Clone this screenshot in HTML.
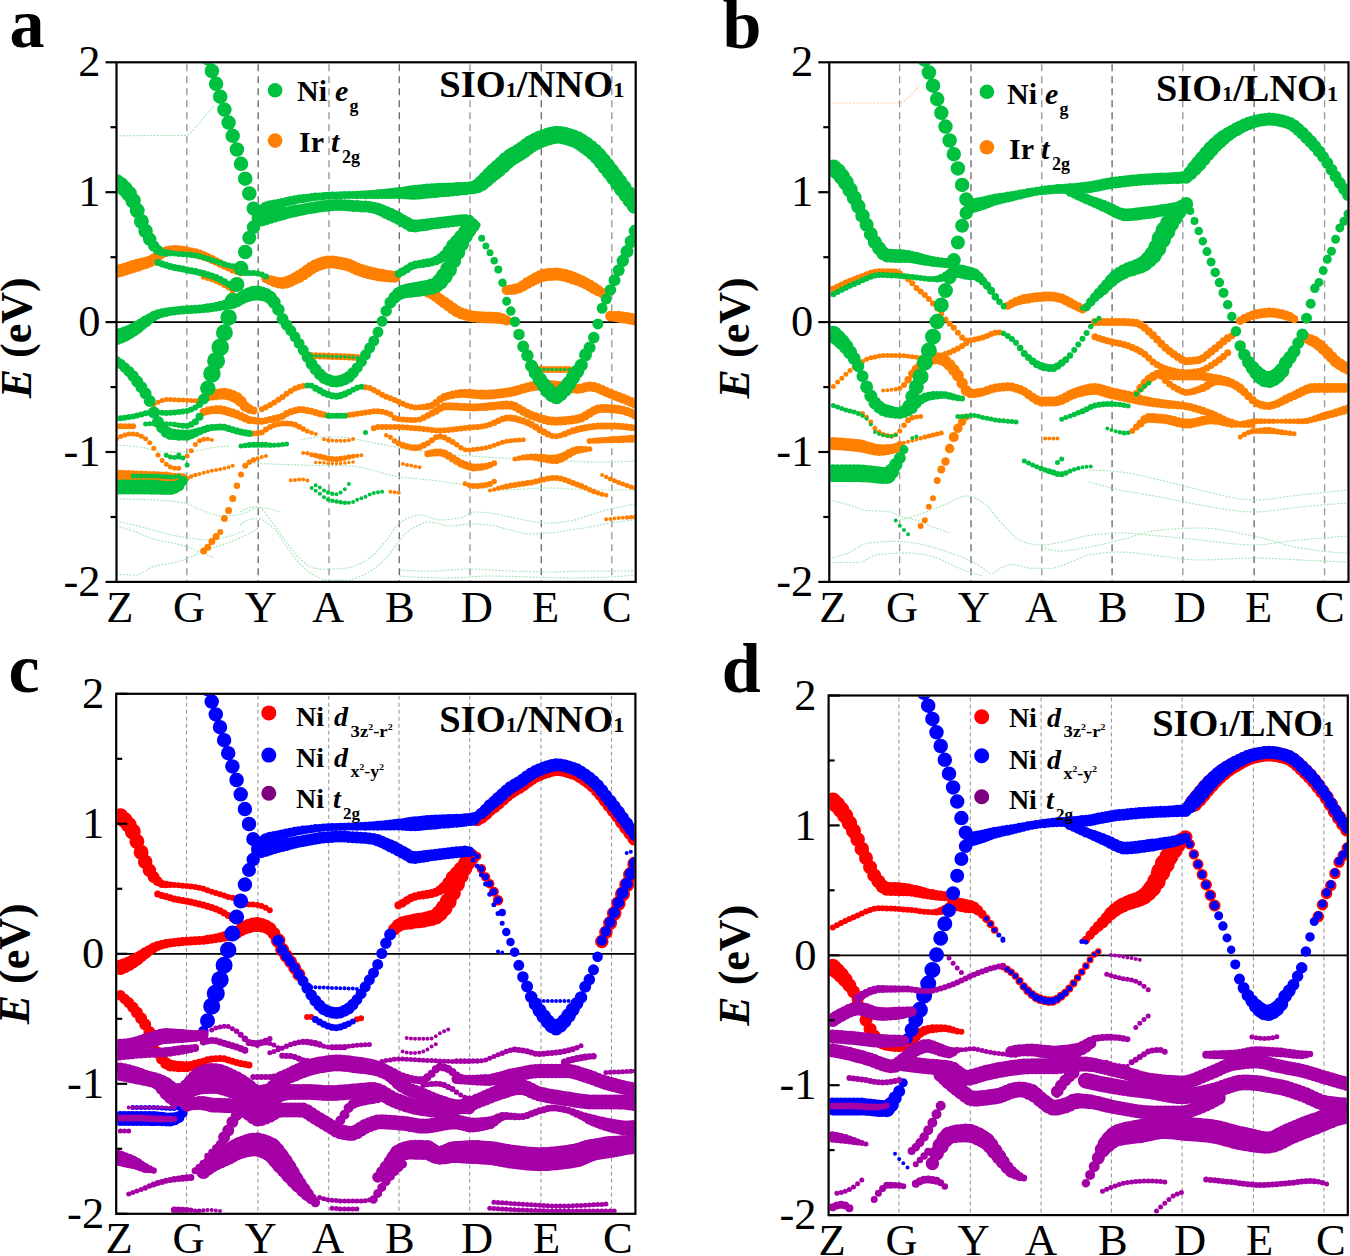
<!DOCTYPE html>
<html><head><meta charset="utf-8"><style>html,body{margin:0;padding:0;background:#fff;}svg{display:block;}</style></head>
<body><svg width="1350" height="1256" viewBox="0 0 1350 1256" style="font-family:'Liberation Serif',serif">
<line x1="186.8" y1="64.3" x2="186.8" y2="580.9" stroke="#9a9a9a" stroke-width="1.4" stroke-dasharray="7 5"/>
<line x1="258.2" y1="64.3" x2="258.2" y2="580.9" stroke="#707070" stroke-width="1.4" stroke-dasharray="7 5"/>
<line x1="329.0" y1="64.3" x2="329.0" y2="580.9" stroke="#9a9a9a" stroke-width="1.4" stroke-dasharray="7 5"/>
<line x1="399.3" y1="64.3" x2="399.3" y2="580.9" stroke="#707070" stroke-width="1.4" stroke-dasharray="7 5"/>
<line x1="470.0" y1="64.3" x2="470.0" y2="580.9" stroke="#9a9a9a" stroke-width="1.4" stroke-dasharray="7 5"/>
<line x1="541.3" y1="64.3" x2="541.3" y2="580.9" stroke="#707070" stroke-width="1.4" stroke-dasharray="7 5"/>
<line x1="611.8" y1="64.3" x2="611.8" y2="580.9" stroke="#9a9a9a" stroke-width="1.4" stroke-dasharray="7 5"/>
<line x1="116.5" y1="322.1" x2="635.7" y2="322.1" stroke="#000" stroke-width="1.8"/>
<line x1="899.6" y1="64.3" x2="899.6" y2="580.9" stroke="#9a9a9a" stroke-width="1.4" stroke-dasharray="7 5"/>
<line x1="971.0" y1="64.3" x2="971.0" y2="580.9" stroke="#707070" stroke-width="1.4" stroke-dasharray="7 5"/>
<line x1="1041.8" y1="64.3" x2="1041.8" y2="580.9" stroke="#9a9a9a" stroke-width="1.4" stroke-dasharray="7 5"/>
<line x1="1112.1" y1="64.3" x2="1112.1" y2="580.9" stroke="#707070" stroke-width="1.4" stroke-dasharray="7 5"/>
<line x1="1182.8" y1="64.3" x2="1182.8" y2="580.9" stroke="#9a9a9a" stroke-width="1.4" stroke-dasharray="7 5"/>
<line x1="1254.1" y1="64.3" x2="1254.1" y2="580.9" stroke="#707070" stroke-width="1.4" stroke-dasharray="7 5"/>
<line x1="1324.6" y1="64.3" x2="1324.6" y2="580.9" stroke="#9a9a9a" stroke-width="1.4" stroke-dasharray="7 5"/>
<line x1="829.3" y1="322.1" x2="1348.5" y2="322.1" stroke="#000" stroke-width="1.8"/>
<line x1="186.5" y1="695.8" x2="186.5" y2="1212.8" stroke="#9a9a9a" stroke-width="1.1" stroke-dasharray="4 3"/>
<line x1="257.9" y1="695.8" x2="257.9" y2="1212.8" stroke="#9a9a9a" stroke-width="1.1" stroke-dasharray="4 3"/>
<line x1="328.7" y1="695.8" x2="328.7" y2="1212.8" stroke="#9a9a9a" stroke-width="1.1" stroke-dasharray="4 3"/>
<line x1="399.0" y1="695.8" x2="399.0" y2="1212.8" stroke="#9a9a9a" stroke-width="1.1" stroke-dasharray="4 3"/>
<line x1="469.7" y1="695.8" x2="469.7" y2="1212.8" stroke="#9a9a9a" stroke-width="1.1" stroke-dasharray="4 3"/>
<line x1="541.0" y1="695.8" x2="541.0" y2="1212.8" stroke="#9a9a9a" stroke-width="1.1" stroke-dasharray="4 3"/>
<line x1="611.5" y1="695.8" x2="611.5" y2="1212.8" stroke="#9a9a9a" stroke-width="1.1" stroke-dasharray="4 3"/>
<line x1="116.2" y1="953.8" x2="635.4" y2="953.8" stroke="#000" stroke-width="1.8"/>
<line x1="898.9" y1="697.5" x2="898.9" y2="1214.1" stroke="#9a9a9a" stroke-width="1.1" stroke-dasharray="4 3"/>
<line x1="970.3" y1="697.5" x2="970.3" y2="1214.1" stroke="#9a9a9a" stroke-width="1.1" stroke-dasharray="4 3"/>
<line x1="1041.1" y1="697.5" x2="1041.1" y2="1214.1" stroke="#9a9a9a" stroke-width="1.1" stroke-dasharray="4 3"/>
<line x1="1111.4" y1="697.5" x2="1111.4" y2="1214.1" stroke="#9a9a9a" stroke-width="1.1" stroke-dasharray="4 3"/>
<line x1="1182.1" y1="697.5" x2="1182.1" y2="1214.1" stroke="#9a9a9a" stroke-width="1.1" stroke-dasharray="4 3"/>
<line x1="1253.4" y1="697.5" x2="1253.4" y2="1214.1" stroke="#9a9a9a" stroke-width="1.1" stroke-dasharray="4 3"/>
<line x1="1323.9" y1="697.5" x2="1323.9" y2="1214.1" stroke="#9a9a9a" stroke-width="1.1" stroke-dasharray="4 3"/>
<line x1="828.6" y1="955.3" x2="1347.8" y2="955.3" stroke="#000" stroke-width="1.8"/>
<clipPath id="clipa"><rect x="117.5" y="63.3" width="517.2" height="517.6"/></clipPath>
<g clip-path="url(#clipa)" fill="none" stroke-width="1.1" stroke-dasharray="2 1.4">
<path d="M116.0 499.0 118.0 499.0 120.0 499.0 122.0 499.0 124.0 499.1 126.0 499.1 128.0 499.1 130.0 499.2 132.0 499.2 134.0 499.3 136.0 499.3 138.0 499.4 140.0 499.4 142.0 499.5 144.0 499.6 146.0 499.7 148.0 499.7 150.0 499.8 152.0 499.9 154.0 500.0 156.0 500.1 158.0 500.2 160.0 500.3 162.0 500.4 164.0 500.5 166.0 500.7 168.0 500.9 170.0 501.1 172.0 501.3 174.0 501.5 176.0 501.7 178.0 502.0 180.0 502.3 182.0 502.6 184.0 502.9 186.0 503.4 188.0 504.1 190.0 504.9 192.0 505.7 194.0 506.7 196.0 507.7 198.0 508.6 200.0 509.5 202.0 510.3 204.0 510.9 206.0 511.7 208.0 512.4 210.0 513.2 212.0 513.9 214.0 514.6 216.0 515.2 218.0 515.6 220.0 515.9 222.0 516.0 224.0 516.0 226.0 515.9 228.0 515.8 230.0 515.6 232.0 515.5 234.0 515.2 236.0 515.0 238.0 514.7 240.0 514.5 242.0 514.2 244.0 513.5 246.0 512.7 248.0 511.7 250.0 510.6 252.0 509.5 254.0 508.6 256.0 508.0 258.0 507.6 260.0 507.6 262.0 507.8 264.0 508.1 266.0 508.4 268.0 508.9 270.0 509.3 272.0 509.8 274.0 510.2 276.0 510.8 278.0 511.4 280.0 512.0" stroke="#a3e4b5"/>
<path d="M240.0 512.0 242.0 510.8 244.0 509.8 246.0 508.9 248.0 508.1 250.0 507.5 252.0 507.1 254.0 506.9 256.0 506.7 258.0 506.8 260.0 507.5 262.0 509.1 264.0 511.3 266.0 513.8 268.0 516.7 270.0 519.6 272.0 522.3 274.0 524.9 276.0 527.5 278.0 530.3 280.0 533.2 282.0 536.2 284.0 539.0 286.0 541.8 288.0 544.4 290.0 547.0 292.0 549.7 294.0 552.2 296.0 554.6 298.0 556.8 300.0 558.7 302.0 560.5 304.0 562.3 306.0 564.0 308.0 565.6 310.0 566.8 312.0 567.7 314.0 568.1 316.0 568.4 318.0 568.7 320.0 568.9 322.0 569.1 324.0 569.2 326.0 569.3 328.0 569.3 330.0 569.3 332.0 569.2 334.0 569.1 336.0 569.0 338.0 568.9 340.0 568.7 342.0 568.5 344.0 568.3 346.0 568.1 348.0 567.8 350.0 567.4 352.0 566.9 354.0 566.2 356.0 565.4 358.0 564.6 360.0 563.6 362.0 562.6 364.0 561.5 366.0 560.4 368.0 559.2 370.0 557.8 372.0 556.1 374.0 554.2 376.0 552.2 378.0 550.0 380.0 547.8 382.0 545.4 384.0 543.1 386.0 540.8 388.0 538.4 390.0 535.6 392.0 532.5 394.0 529.5 396.0 526.7 398.0 524.4 400.0 522.7 402.0 521.5 404.0 520.3 406.0 519.2 408.0 518.2 410.0 517.3 412.0 516.5 414.0 515.9 416.0 515.4 418.0 515.1 420.0 515.0 422.0 515.1 424.0 515.5 426.0 516.1 428.0 516.8 430.0 517.5 432.0 518.2 434.0 518.9 436.0 519.5 438.0 519.9 440.0 520.0 442.0 520.0 444.0 519.9 446.0 519.8 448.0 519.6 450.0 519.4 452.0 519.2 454.0 518.9 456.0 518.6 458.0 518.3 460.0 518.0 462.0 517.4 464.0 516.5 466.0 515.3 468.0 514.1 470.0 513.1 472.0 512.3 474.0 512.0 476.0 512.0 478.0 512.1 480.0 512.2 482.0 512.3 484.0 512.5 486.0 512.6 488.0 512.8 490.0 513.0 492.0 513.2 494.0 513.5 496.0 513.9 498.0 514.3 500.0 514.7 502.0 515.2 504.0 515.7 506.0 516.1 508.0 516.6 510.0 517.0 512.0 517.4 514.0 517.8 516.0 518.3 518.0 518.7 520.0 519.2 522.0 519.6 524.0 520.0 526.0 520.4 528.0 520.7 530.0 521.0 532.0 521.3 534.0 521.5 536.0 521.8 538.0 522.1 540.0 522.3 542.0 522.6 544.0 522.7 546.0 522.9 548.0 523.0 550.0 523.0 552.0 523.0 554.0 522.9 556.0 522.8 558.0 522.6 560.0 522.4 562.0 522.1 564.0 521.9 566.0 521.6 568.0 521.3 570.0 521.0 572.0 520.6 574.0 520.2 576.0 519.6 578.0 519.0 580.0 518.4 582.0 517.7 584.0 517.0 586.0 516.3 588.0 515.6 590.0 515.0 592.0 514.4 594.0 513.8 596.0 513.1 598.0 512.5 600.0 511.8 602.0 511.2 604.0 510.6 606.0 510.0 608.0 509.5 610.0 509.0 612.0 508.5 614.0 508.1 616.0 507.6 618.0 507.2 620.0 506.8 622.0 506.4 624.0 506.0 626.0 505.6 628.0 505.2 630.0 504.9 632.0 504.6 634.0 504.3 636.0 504.0" stroke="#a3e4b5"/>
<path d="M240.0 525.0 242.0 523.4 244.0 522.1 246.0 521.1 248.0 520.2 250.0 519.6 252.0 519.1 254.0 518.9 256.0 518.7 258.0 518.7 260.0 519.1 262.0 519.8 264.0 520.9 266.0 522.2 268.0 523.6 270.0 525.2 272.0 526.9 274.0 528.6 276.0 530.8 278.0 533.5 280.0 536.5 282.0 539.6 284.0 542.8 286.0 545.7 288.0 548.5 290.0 551.3 292.0 554.1 294.0 556.8 296.0 559.4 298.0 561.9 300.0 564.0 302.0 566.0 304.0 567.8 306.0 569.6 308.0 571.3 310.0 572.7 312.0 574.0 314.0 575.1 316.0 576.1 318.0 577.1 320.0 578.0 322.0 578.8 324.0 579.4 326.0 579.9 328.0 580.0 330.0 580.0 332.0 580.0 334.0 580.0 336.0 580.0 338.0 580.0 340.0 580.0 342.0 580.0 344.0 580.0 346.0 580.0 348.0 580.0 350.0 579.7 352.0 579.3 354.0 578.8 356.0 578.1 358.0 577.3 360.0 576.5 362.0 575.5 364.0 574.6 366.0 573.6 368.0 572.6 370.0 571.5 372.0 570.2 374.0 568.8 376.0 567.2 378.0 565.5 380.0 563.8 382.0 561.9 384.0 560.0 386.0 558.0 388.0 555.9 390.0 553.4 392.0 550.7 394.0 547.9 396.0 545.1 398.0 542.4 400.0 540.0 402.0 537.7 404.0 535.4 406.0 533.3 408.0 531.4 410.0 530.0 412.0 528.8 414.0 527.6 416.0 526.5 418.0 525.5 420.0 524.5 422.0 523.7 424.0 523.0 426.0 522.4 428.0 522.1 430.0 522.0 432.0 522.1 434.0 522.4 436.0 522.9 438.0 523.4 440.0 524.0 442.0 524.6 444.0 525.1 446.0 525.6 448.0 525.9 450.0 526.0 452.0 525.9 454.0 525.8 456.0 525.6 458.0 525.3 460.0 525.0 462.0 524.7 464.0 524.4 466.0 524.2 468.0 524.1 470.0 524.0 472.0 524.0 474.0 524.1 476.0 524.1 478.0 524.2 480.0 524.3 482.0 524.4 484.0 524.5 486.0 524.7 488.0 524.8 490.0 525.0 492.0 525.2 494.0 525.6 496.0 526.0 498.0 526.6 500.0 527.2 502.0 527.8 504.0 528.4 506.0 529.0 508.0 529.5 510.0 530.0 512.0 530.5 514.0 531.0 516.0 531.5 518.0 532.0 520.0 532.6 522.0 533.0 524.0 533.4 526.0 533.7 528.0 533.9 530.0 534.0 532.0 534.0 534.0 533.9 536.0 533.9 538.0 533.8 540.0 533.7 542.0 533.6 544.0 533.4 546.0 533.3 548.0 533.1 550.0 533.0 552.0 532.8 554.0 532.6 556.0 532.3 558.0 532.0 560.0 531.7 562.0 531.3 564.0 531.0 566.0 530.6 568.0 530.3 570.0 530.0 572.0 529.7 574.0 529.4 576.0 529.1 578.0 528.8 580.0 528.6 582.0 528.3 584.0 528.0 586.0 527.7 588.0 527.3 590.0 527.0 592.0 526.6 594.0 526.2 596.0 525.8 598.0 525.4 600.0 524.9 602.0 524.5 604.0 524.1 606.0 523.7 608.0 523.3 610.0 523.0 612.0 522.7 614.0 522.4 616.0 522.1 618.0 521.9 620.0 521.6 622.0 521.4 624.0 521.1 626.0 520.9 628.0 520.7 630.0 520.5 632.0 520.3 634.0 520.1 636.0 520.0" stroke="#a3e4b5"/>
<path d="M116.0 521.0 118.0 521.4 120.0 521.9 122.0 522.3 124.0 522.8 126.0 523.3 128.0 523.7 130.0 524.2 132.0 524.7 134.0 525.1 136.0 525.6 138.0 526.1 140.0 526.6 142.0 527.1 144.0 527.6 146.0 528.1 148.0 528.6 150.0 529.2 152.0 529.7 154.0 530.3 156.0 530.9 158.0 531.5 160.0 532.1 162.0 532.6 164.0 533.2 166.0 533.7 168.0 534.2 170.0 534.7 172.0 535.1 174.0 535.5 176.0 535.9 178.0 536.3 180.0 536.6 182.0 536.9 184.0 537.2 186.0 537.5 188.0 537.8 190.0 538.0 192.0 538.3 194.0 538.5 196.0 538.8 198.0 539.0 200.0 539.3 202.0 539.5 204.0 539.7 206.0 539.9 208.0 540.0 210.0 540.0 212.0 539.9 214.0 539.8 216.0 539.5 218.0 539.1 220.0 538.7 222.0 538.2 224.0 537.7 226.0 537.1 228.0 536.6 230.0 536.0 232.0 535.4 234.0 534.7 236.0 534.0 238.0 533.2 240.0 532.3 242.0 531.4 244.0 530.5" stroke="#a3e4b5"/>
<path d="M116.0 525.9 118.0 526.4 120.0 526.9 122.0 527.5 124.0 528.1 126.0 528.7 128.0 529.3 130.0 529.9 132.0 530.6 134.0 531.3 136.0 531.9 138.0 532.7 140.0 533.5 142.0 534.4 144.0 535.3 146.0 536.2 148.0 537.1 150.0 537.9 152.0 538.6 154.0 539.3 156.0 539.8 158.0 540.2 160.0 540.6 162.0 541.0 164.0 541.3 166.0 541.7 168.0 542.0 170.0 542.4 172.0 542.8 174.0 543.2 176.0 543.7 178.0 544.2 180.0 544.8 182.0 545.4 184.0 546.0 186.0 546.6 188.0 547.2 190.0 548.0 192.0 548.7 194.0 549.5 196.0 550.4 198.0 551.2 200.0 552.0 202.0 552.8 204.0 553.6 206.0 554.4 208.0 555.2 210.0 556.0 212.0 556.8 214.0 557.6" stroke="#a3e4b5"/>
<path d="M116.0 574.0 118.0 574.3 120.0 574.5 122.0 574.7 124.0 574.8 126.0 574.9 128.0 574.9 130.0 575.0 132.0 575.0 134.0 575.0 136.0 575.0 138.0 574.6 140.0 573.9 142.0 573.0 144.0 571.9 146.0 570.6 148.0 569.4 150.0 568.2 152.0 567.2 154.0 566.4 156.0 565.9 158.0 565.4 160.0 565.0 162.0 564.7 164.0 564.3 166.0 564.0 168.0 563.7 170.0 563.3 172.0 562.9 174.0 562.5 176.0 562.0 178.0 561.5 180.0 560.9 182.0 560.3 184.0 559.7 186.0 559.1 188.0 558.3 190.0 557.5 192.0 556.5 194.0 555.4 196.0 554.3 198.0 553.2 200.0 552.2 202.0 551.3 204.0 550.5 206.0 549.8 208.0 549.2 210.0 548.6 212.0 548.0 214.0 547.4 216.0 546.9 218.0 546.3 220.0 545.7 222.0 545.0 224.0 544.3 226.0 543.6 228.0 542.8 230.0 542.1 232.0 541.3 234.0 540.5 236.0 539.7 238.0 538.8 240.0 537.9 242.0 537.0 244.0 536.1 246.0 535.0 248.0 534.0 250.0 532.9 252.0 531.8 254.0 530.6 256.0 529.4 258.0 528.2" stroke="#a3e4b5"/>
<path d="M400.0 570.0 402.0 570.1 404.0 570.3 406.0 570.4 408.0 570.5 410.0 570.6 412.0 570.7 414.0 570.7 416.0 570.8 418.0 570.8 420.0 570.9 422.0 570.9 424.0 571.0 426.0 571.0 428.0 571.0 430.0 571.0 432.0 571.0 434.0 570.9 436.0 570.9 438.0 570.8 440.0 570.7 442.0 570.6 444.0 570.4 446.0 570.3 448.0 570.1 450.0 570.0 452.0 569.9 454.0 569.7 456.0 569.6 458.0 569.4 460.0 569.3 462.0 569.2 464.0 569.1 466.0 569.1 468.0 569.0 470.0 569.0 472.0 569.0 474.0 569.0 476.0 569.1 478.0 569.2 480.0 569.2 482.0 569.3 484.0 569.5 486.0 569.6 488.0 569.7 490.0 569.8 492.0 570.0 494.0 570.1 496.0 570.2 498.0 570.4 500.0 570.5 502.0 570.6 504.0 570.7 506.0 570.8 508.0 570.9 510.0 571.0 512.0 571.1 514.0 571.1 516.0 571.2 518.0 571.3 520.0 571.3 522.0 571.4 524.0 571.5 526.0 571.5 528.0 571.6 530.0 571.7 532.0 571.7 534.0 571.8 536.0 571.8 538.0 571.9 540.0 571.9 542.0 571.9 544.0 572.0 546.0 572.0 548.0 572.0 550.0 572.0 552.0 572.0 554.0 572.0 556.0 571.9 558.0 571.9 560.0 571.8 562.0 571.8 564.0 571.7 566.0 571.6 568.0 571.6 570.0 571.5 572.0 571.4 574.0 571.4 576.0 571.3 578.0 571.2 580.0 571.2 582.0 571.1 584.0 571.1 586.0 571.0 588.0 571.0 590.0 571.0 592.0 571.0 594.0 571.0 596.0 571.0 598.0 571.0 600.0 571.0 602.0 571.0 604.0 571.0 606.0 571.0 608.0 571.0 610.0 571.0 612.0 571.0 614.0 571.0 616.0 571.0 618.0 571.0 620.0 571.0 622.0 571.0 624.0 571.0 626.0 571.0 628.0 571.0 630.0 571.0 632.0 571.0 634.0 571.0 636.0 571.0" stroke="#a3e4b5"/>
<path d="M400.0 576.0 402.0 576.2 404.0 576.3 406.0 576.5 408.0 576.6 410.0 576.8 412.0 576.9 414.0 577.0 416.0 577.1 418.0 577.3 420.0 577.4 422.0 577.4 424.0 577.5 426.0 577.6 428.0 577.7 430.0 577.7 432.0 577.8 434.0 577.8 436.0 577.9 438.0 577.9 440.0 577.9 442.0 578.0 444.0 578.0 446.0 578.0 448.0 578.0 450.0 578.0 452.0 578.0 454.0 577.9 456.0 577.9 458.0 577.8 460.0 577.7 462.0 577.6 464.0 577.4 466.0 577.3 468.0 577.1 470.0 577.0 472.0 576.9 474.0 576.7 476.0 576.6 478.0 576.4 480.0 576.3 482.0 576.2 484.0 576.1 486.0 576.1 488.0 576.0 490.0 576.0 492.0 576.0 494.0 576.0 496.0 576.0 498.0 576.1 500.0 576.1 502.0 576.2 504.0 576.2 506.0 576.3 508.0 576.3 510.0 576.4 512.0 576.4 514.0 576.5 516.0 576.6 518.0 576.6 520.0 576.7 522.0 576.8 524.0 576.8 526.0 576.9 528.0 576.9 530.0 577.0 532.0 577.1 534.0 577.1 536.0 577.2 538.0 577.2 540.0 577.3 542.0 577.4 544.0 577.4 546.0 577.5 548.0 577.6 550.0 577.6 552.0 577.7 554.0 577.7 556.0 577.8 558.0 577.8 560.0 577.9 562.0 577.9 564.0 578.0 566.0 578.0 568.0 578.0 570.0 578.0 572.0 578.0 574.0 578.0 576.0 578.0 578.0 578.0 580.0 577.9 582.0 577.9 584.0 577.9 586.0 577.8 588.0 577.8 590.0 577.7 592.0 577.7 594.0 577.6 596.0 577.5 598.0 577.4 600.0 577.4 602.0 577.3 604.0 577.2 606.0 577.1 608.0 577.0 610.0 576.9 612.0 576.8 614.0 576.7 616.0 576.5 618.0 576.4 620.0 576.3 622.0 576.1 624.0 576.0 626.0 575.8 628.0 575.7 630.0 575.5 632.0 575.3 634.0 575.2 636.0 575.0" stroke="#a3e4b5"/>
<path d="M250.0 463.0 252.0 463.1 254.0 463.2 256.0 463.3 258.0 463.4 260.0 463.5 262.0 463.6 264.0 463.7 266.0 463.8 268.0 463.8 270.0 463.9 272.0 464.0 274.0 464.1 276.0 464.2 278.0 464.3 280.0 464.3 282.0 464.4 284.0 464.5 286.0 464.6 288.0 464.6 290.0 464.7 292.0 464.8 294.0 464.8 296.0 464.9 298.0 464.9 300.0 465.0 302.0 465.1 304.0 465.1 306.0 465.1 308.0 465.2 310.0 465.2 312.0 465.2 314.0 465.3 316.0 465.3 318.0 465.3 320.0 465.4 322.0 465.4 324.0 465.4 326.0 465.5 328.0 465.5 330.0 465.5 332.0 465.5 334.0 465.6 336.0 465.6 338.0 465.7 340.0 465.7 342.0 465.8 344.0 465.8 346.0 465.9 348.0 465.9 350.0 466.0 352.0 466.1 354.0 466.3 356.0 466.5 358.0 466.8 360.0 467.2 362.0 467.6 364.0 468.0 366.0 468.5 368.0 469.0 370.0 469.5 372.0 470.0 374.0 470.6 376.0 471.2 378.0 471.8 380.0 472.3 382.0 472.9 384.0 473.5 386.0 474.0 388.0 474.6 390.0 475.1 392.0 475.5 394.0 476.0 396.0 476.4 398.0 476.7 400.0 477.0 402.0 477.3 404.0 477.5 406.0 477.7 408.0 477.9 410.0 478.1 412.0 478.3 414.0 478.5 416.0 478.7 418.0 478.8 420.0 479.0 422.0 479.2 424.0 479.4 426.0 479.6 428.0 479.8 430.0 480.0 432.0 480.2 434.0 480.5 436.0 480.7 438.0 481.0 440.0 481.2 442.0 481.5 444.0 481.8 446.0 482.0 448.0 482.3 450.0 482.6 452.0 482.9 454.0 483.2 456.0 483.4 458.0 483.7 460.0 484.0 462.0 484.3 464.0 484.6 466.0 485.0 468.0 485.3 470.0 485.7 472.0 486.1 474.0 486.5 476.0 486.9 478.0 487.3 480.0 487.7 482.0 488.1 484.0 488.4 486.0 488.8 488.0 489.1 490.0 489.3 492.0 489.6 494.0 489.7 496.0 489.9 498.0 490.0 500.0 490.0 502.0 490.0 504.0 490.0 506.0 489.9 508.0 489.9 510.0 489.8 512.0 489.7 514.0 489.6 516.0 489.5 518.0 489.4 520.0 489.3 522.0 489.2 524.0 489.1 526.0 488.9 528.0 488.8 530.0 488.7 532.0 488.6 534.0 488.5 536.0 488.4 538.0 488.3 540.0 488.2 542.0 488.1 544.0 488.1 546.0 488.0 548.0 488.0 550.0 488.0 552.0 488.0 554.0 488.1 556.0 488.1 558.0 488.2 560.0 488.3 562.0 488.4 564.0 488.6 566.0 488.7 568.0 488.9 570.0 489.0 572.0 489.1 574.0 489.3 576.0 489.4 578.0 489.6 580.0 489.7 582.0 489.8 584.0 489.9 586.0 489.9 588.0 490.0 590.0 490.0 592.0 490.0 594.0 490.0 596.0 490.0 598.0 490.0 600.0 490.0 602.0 490.0 604.0 490.0 606.0 490.0 608.0 490.0 610.0 490.0 612.0 490.0 614.0 490.0 616.0 490.0 618.0 490.0 620.0 490.0 622.0 490.0 624.0 490.0 626.0 490.0 628.0 490.0 630.0 490.0 632.0 490.0 634.0 490.0 636.0 490.0" stroke="#a3e4b5"/>
<path d="M116.0 136.0 118.0 136.0 120.0 135.9 122.0 135.9 124.0 135.8 126.0 135.8 128.0 135.7 130.0 135.7 132.0 135.7 134.0 135.6 136.0 135.6 138.0 135.6 140.0 135.6 142.0 135.5 144.0 135.5 146.0 135.5 148.0 135.5 150.0 135.5 152.0 135.5 154.0 135.5 156.0 135.5 158.0 135.5 160.0 135.5 162.0 135.5 164.0 135.5 166.0 135.5 168.0 135.5 170.0 135.5 172.0 135.5 174.0 135.5 176.0 135.5 178.0 135.5 180.0 135.5 182.0 135.5 184.0 135.5 186.0 135.5 188.0 134.8 190.0 133.3 192.0 131.2 194.0 129.0 196.0 127.0 198.0 124.9 200.0 122.5 202.0 120.1 204.0 117.5 206.0 115.0 208.0 112.5 210.0 110.1 212.0 107.7 214.0 105.2" stroke="#a3e4b5"/>
<path d="M116.0 445.0 118.0 445.1 120.0 445.2 122.0 445.3 124.0 445.4 126.0 445.6 128.0 445.7 130.0 445.9 132.0 446.1 134.0 446.3 136.0 446.5 138.0 446.8 140.0 447.0 142.0 447.3 144.0 447.7 146.0 448.1 148.0 448.6 150.0 449.2 152.0 449.7 154.0 450.3 156.0 450.8 158.0 451.2 160.0 451.6 162.0 451.8 164.0 452.0 166.0 452.0 168.0 452.0 170.0 452.0 172.0 452.0 174.0 452.0 176.0 452.0 178.0 452.0 180.0 452.0 182.0 452.0 184.0 452.0 186.0 452.0 188.0 452.0 190.0 452.0 192.0 451.9 194.0 451.7 196.0 451.3 198.0 450.8 200.0 450.3 202.0 449.8 204.0 449.3 206.0 448.8 208.0 448.3 210.0 448.0 212.0 447.7 214.0 447.5 216.0 447.2 218.0 447.0 220.0 446.8 222.0 446.6 224.0 446.4 226.0 446.3 228.0 446.1 230.0 446.0" stroke="#a3e4b5"/>
<path d="M300.0 440.0 302.0 439.6 304.0 439.1 306.0 438.7 308.0 438.3 310.0 437.9 312.0 437.6 314.0 437.4 316.0 437.2 318.0 437.0 320.0 437.0 322.0 437.0 324.0 437.0 326.0 437.0 328.0 437.0 330.0 437.0 332.0 437.0 334.0 437.0 336.0 437.0 338.0 437.0 340.0 437.0 342.0 437.1 344.0 437.2 346.0 437.4 348.0 437.7 350.0 438.1 352.0 438.5 354.0 438.8 356.0 439.2 358.0 439.6 360.0 440.0 362.0 440.4 364.0 440.7 366.0 441.1 368.0 441.5 370.0 441.9 372.0 442.3 374.0 442.8 376.0 443.2 378.0 443.6 380.0 444.0 382.0 444.4 384.0 444.8 386.0 445.2 388.0 445.7 390.0 446.1 392.0 446.5 394.0 446.9 396.0 447.3 398.0 447.7 400.0 448.0 402.0 448.3 404.0 448.6 406.0 448.9 408.0 449.2 410.0 449.5 412.0 449.8 414.0 450.0 416.0 450.3 418.0 450.6 420.0 450.8 422.0 451.1 424.0 451.3 426.0 451.5 428.0 451.8 430.0 452.0 432.0 452.2 434.0 452.5 436.0 452.7 438.0 452.9 440.0 453.1 442.0 453.3 444.0 453.6 446.0 453.8 448.0 454.0 450.0 454.2 452.0 454.4 454.0 454.6 456.0 454.8 458.0 455.0 460.0 455.2 462.0 455.3 464.0 455.5 466.0 455.7 468.0 455.8 470.0 456.0 472.0 456.1 474.0 456.3 476.0 456.4 478.0 456.6 480.0 456.7 482.0 456.8 484.0 457.0 486.0 457.1 488.0 457.2 490.0 457.3 492.0 457.5 494.0 457.6 496.0 457.7 498.0 457.8 500.0 457.9 502.0 458.0 504.0 458.1 506.0 458.2 508.0 458.4 510.0 458.5 512.0 458.6 514.0 458.7 516.0 458.8 518.0 458.9 520.0 459.0 522.0 459.1 524.0 459.2 526.0 459.3 528.0 459.4 530.0 459.6 532.0 459.7 534.0 459.8 536.0 459.9 538.0 460.0 540.0 460.1 542.0 460.2 544.0 460.3 546.0 460.4 548.0 460.5 550.0 460.6 552.0 460.7 554.0 460.8 556.0 460.9 558.0 460.9 560.0 461.0 562.0 461.1 564.0 461.1 566.0 461.2 568.0 461.3 570.0 461.3 572.0 461.4 574.0 461.5 576.0 461.5 578.0 461.6 580.0 461.7 582.0 461.7 584.0 461.8 586.0 461.8 588.0 461.9 590.0 461.9 592.0 461.9 594.0 462.0 596.0 462.0 598.0 462.0 600.0 462.0 602.0 462.0 604.0 462.0 606.0 462.0 608.0 461.9 610.0 461.9 612.0 461.9 614.0 461.8 616.0 461.8 618.0 461.7 620.0 461.7 622.0 461.6 624.0 461.5 626.0 461.5 628.0 461.4 630.0 461.3 632.0 461.2 634.0 461.1 636.0 461.0" stroke="#a3e4b5"/>
</g>
<g clip-path="url(#clipa)" fill="none" stroke-linecap="round">
<path d="M116.5 271.7h0M120.7 270.5h0M124.8 269.2h0M128.9 267.9h0M133.1 266.6h0M137.2 265.3h0M299.1 276.5h0M303.2 274.0h0M307.4 270.9h0M311.6 267.9h0M315.7 265.7h0M319.9 264.1h0M324.0 262.7h0M328.1 262.0h0M332.3 262.1h0M336.5 262.5h0M340.6 263.2h0M344.8 264.0h0M348.9 265.2h0M353.1 267.0h0M357.2 269.0h0M361.4 270.4h0M365.5 271.7h0M369.7 272.8h0M373.8 273.8h0M378.0 274.7h0M382.1 275.3h0M544.0 275.2h0M548.1 274.6h0M552.2 274.3h0M556.4 274.1h0M560.5 274.4h0M564.7 275.3h0M568.9 276.6h0M573.0 278.0h0" stroke="#ff8000" stroke-width="13"/>
<path d="M141.4 264.1h0M145.6 262.9h0M286.6 282.3h0M290.8 280.7h0M295.0 278.6h0M386.2 275.9h0M390.4 276.4h0M535.7 278.6h0M539.8 276.6h0M577.2 279.5h0M581.3 281.2h0" stroke="#ff8000" stroke-width="12.5"/>
<path d="M149.7 261.5h0M153.8 259.5h0M282.5 283.0h0M394.6 276.8h0M444.4 302.6h0M448.5 305.4h0M452.7 308.5h0M456.8 311.2h0M461.0 313.3h0M465.1 314.6h0M469.3 315.7h0M473.4 316.5h0M477.6 317.0h0M481.7 317.3h0M485.9 317.4h0M490.0 317.5h0M494.2 317.7h0M498.3 317.9h0M527.4 283.0h0M531.5 280.8h0M585.5 283.2h0M589.6 285.5h0M593.8 288.0h0M618.7 316.8h0M622.8 317.4h0M627.0 318.0h0M631.1 318.8h0M635.2 319.7h0M224.4 393.8h0M228.6 394.4h0M232.7 395.9h0M236.9 397.9h0" stroke="#ff8000" stroke-width="12"/>
<path d="M158.0 255.7h0M278.4 282.7h0M436.1 296.5h0M440.2 299.6h0M523.2 285.7h0M597.9 290.5h0M216.1 394.4h0M220.2 394.0h0M241.0 401.5h0" stroke="#ff8000" stroke-width="11.5"/>
<path d="M162.2 252.8h0M274.2 281.6h0M427.8 292.1h0M431.9 293.9h0M502.5 318.8h0M514.9 289.1h0M519.0 287.9h0M614.5 316.4h0M116.5 475.0h0M120.7 475.2h0M124.8 475.4h0M128.9 475.5h0M133.1 475.7h0M137.2 475.9h0M141.4 476.1h0M145.6 476.2h0M149.7 476.4h0M153.8 476.5h0M158.0 476.7h0M162.2 476.9h0M166.3 477.1h0M211.9 395.0h0" stroke="#ff8000" stroke-width="11"/>
<path d="M166.3 251.4h0M170.4 250.4h0M423.6 290.8h0M510.8 289.7h0M602.1 292.9h0M610.4 316.0h0M170.4 477.5h0M174.6 477.9h0M245.2 406.5h0" stroke="#ff8000" stroke-width="10.5"/>
<path d="M174.6 250.0h0M178.8 250.2h0M182.9 250.7h0M187.1 251.5h0M191.2 252.4h0M195.4 253.3h0M199.5 254.5h0M270.1 280.3h0M419.5 289.9h0M506.6 320.6h0M506.6 290.0h0M178.8 478.0h0M481.7 394.6h0M485.9 394.7h0M490.0 394.6h0M494.2 394.3h0M498.3 393.8h0M502.5 393.3h0M506.6 392.7h0M510.8 392.0h0M514.9 391.1h0M519.0 389.9h0M523.2 388.6h0M527.4 387.5h0M531.5 386.6h0M535.7 386.0h0M539.8 385.3h0M544.0 385.0h0M548.1 385.1h0M552.2 385.3h0M556.4 385.7h0M560.5 386.1h0M564.7 386.7h0M568.9 387.6h0M573.0 388.5h0M577.2 388.9h0M581.3 388.4h0M585.5 387.2h0M589.6 386.6h0M593.8 387.1h0M597.9 388.3h0M602.1 390.1h0M606.2 392.0h0M610.4 393.8h0M614.5 395.4h0M618.7 397.0h0M622.8 398.6h0M627.0 400.3h0M631.1 402.0h0M635.2 403.7h0M556.4 459.3h0" stroke="#ff8000" stroke-width="10"/>
<path d="M203.7 255.9h0M411.2 288.6h0M415.3 289.2h0M249.3 409.1h0M469.3 393.8h0M473.4 394.1h0M477.6 394.4h0M552.2 459.3h0M560.5 458.1h0" stroke="#ff8000" stroke-width="9.5"/>
<path d="M207.8 257.6h0M211.9 259.4h0M265.9 278.8h0M407.0 288.1h0M207.8 396.7h0M461.0 393.5h0M465.1 393.5h0M216.1 409.7h0M220.2 409.8h0M224.4 410.5h0M228.6 411.7h0M232.7 413.1h0M236.9 414.6h0M502.5 405.2h0M506.6 405.0h0M510.8 405.2h0M514.9 406.5h0M519.0 408.7h0M523.2 411.2h0M527.4 413.6h0M531.5 415.4h0M535.7 416.8h0M539.8 418.2h0M544.0 419.5h0M548.1 420.5h0M552.2 421.1h0M556.4 421.2h0M560.5 421.0h0M564.7 420.7h0M568.9 420.3h0M573.0 419.7h0M577.2 419.1h0M581.3 418.0h0M585.5 415.8h0M589.6 413.2h0M593.8 410.7h0M597.9 409.0h0M602.1 408.5h0M606.2 408.5h0M610.4 408.7h0M614.5 409.0h0M618.7 409.5h0M622.8 410.3h0M627.0 411.5h0M631.1 413.1h0M635.2 415.3h0M548.1 458.9h0M564.7 456.0h0M568.9 453.6h0" stroke="#ff8000" stroke-width="9"/>
<path d="M216.1 261.4h0M220.2 263.5h0M182.9 477.4h0M452.7 394.7h0M456.8 393.9h0M207.8 410.8h0M211.9 410.1h0M241.0 416.3h0M245.2 418.3h0M485.9 406.7h0M490.0 406.3h0M494.2 405.9h0M498.3 405.5h0M544.0 458.3h0M573.0 451.4h0" stroke="#ff8000" stroke-width="8.5"/>
<path d="M224.4 265.7h0M253.5 410.6h0M444.4 396.9h0M448.5 395.7h0M203.7 412.0h0M249.3 419.9h0M444.4 406.4h0M448.5 406.2h0M452.7 406.4h0M456.8 406.6h0M461.0 406.9h0M465.1 407.1h0M469.3 407.3h0M473.4 407.4h0M477.6 407.3h0M481.7 407.1h0M436.1 452.5h0M440.2 452.4h0M444.4 453.5h0M448.5 455.7h0M452.7 458.4h0M456.8 461.1h0M461.0 463.4h0M465.1 465.0h0M469.3 466.6h0M473.4 467.4h0M539.8 457.7h0M577.2 450.1h0M631.1 438.8h0M635.2 438.6h0" stroke="#ff8000" stroke-width="8"/>
<path d="M228.6 267.8h0M203.7 398.6h0M436.1 402.7h0M440.2 399.2h0M253.5 420.6h0M257.6 421.1h0M436.1 410.9h0M440.2 408.3h0M431.9 452.9h0M477.6 467.3h0M481.7 467.0h0M535.7 457.2h0M581.3 449.6h0M618.7 439.4h0M622.8 439.2h0M627.0 439.0h0" stroke="#ff8000" stroke-width="7.5"/>
<path d="M232.7 269.9h0M311.6 355.7h0M315.7 355.8h0M319.9 356.0h0M324.0 356.1h0M328.1 356.3h0M332.3 356.4h0M336.5 356.5h0M340.6 356.7h0M344.8 356.8h0M348.9 357.0h0M353.1 357.2h0M357.2 357.4h0M539.8 369.3h0M544.0 369.4h0M548.1 369.5h0M552.2 369.5h0M556.4 369.5h0M560.5 369.5h0M564.7 369.4h0M568.9 369.4h0M203.7 550.9h0M207.8 547.3h0M211.9 541.5h0M216.1 536.4h0M224.4 518.4h0M228.6 510.5h0M232.7 498.5h0M427.8 406.5h0M431.9 405.6h0M261.8 421.3h0M265.9 420.6h0M270.1 419.6h0M274.2 418.6h0M278.4 417.6h0M282.5 416.2h0M286.6 413.6h0M290.8 411.8h0M295.0 410.4h0M299.1 409.6h0M303.2 409.8h0M307.4 410.4h0M311.6 411.3h0M315.7 412.5h0M319.9 413.7h0M431.9 413.2h0M506.6 417.9h0M510.8 417.9h0M514.9 418.6h0M519.0 419.7h0M523.2 421.1h0M527.4 422.5h0M531.5 424.5h0M535.7 427.1h0M539.8 429.8h0M544.0 432.0h0M573.0 430.7h0M577.2 429.5h0M581.3 428.6h0M585.5 427.8h0M589.6 427.0h0M593.8 426.4h0M597.9 426.0h0M602.1 425.9h0M606.2 425.9h0M610.4 426.0h0M614.5 426.1h0M618.7 426.2h0M622.8 426.5h0M627.0 426.9h0M631.1 427.4h0M635.2 428.1h0M415.3 447.8h0M427.8 453.8h0M485.9 466.2h0M531.5 457.0h0M610.4 439.8h0M614.5 439.6h0" stroke="#ff8000" stroke-width="7"/>
<path d="M236.9 271.8h0M236.9 485.7h0M423.6 407.0h0M324.0 414.8h0M423.6 417.7h0M427.8 415.5h0M494.2 422.8h0M498.3 420.8h0M502.5 419.0h0M548.1 434.2h0M564.7 434.0h0M568.9 432.3h0M402.9 445.2h0M407.0 446.5h0M411.2 447.4h0M419.5 447.2h0M423.6 445.3h0M490.0 465.0h0M527.4 457.2h0M585.5 449.2h0M597.9 440.4h0M602.1 440.2h0M606.2 440.0h0" stroke="#ff8000" stroke-width="6.5"/>
<path d="M241.0 273.6h0M203.7 276.8h0M207.8 277.9h0M211.9 279.3h0M216.1 280.9h0M220.2 282.7h0M224.4 284.9h0M228.6 287.5h0M232.7 290.4h0M116.5 426.2h0M120.7 426.2h0M124.8 426.2h0M128.9 426.2h0M133.1 426.2h0M220.2 532.1h0M241.0 474.6h0M245.2 465.8h0M199.5 400.3h0M261.8 409.3h0M265.9 407.2h0M270.1 404.9h0M274.2 402.4h0M278.4 399.8h0M282.5 396.9h0M286.6 393.8h0M290.8 391.1h0M295.0 388.6h0M299.1 387.0h0M303.2 386.1h0M365.5 387.2h0M369.7 388.0h0M373.8 390.0h0M378.0 392.3h0M382.1 394.7h0M386.2 396.7h0M390.4 398.3h0M394.6 399.9h0M398.7 401.8h0M402.9 403.7h0M407.0 405.5h0M411.2 406.8h0M415.3 407.4h0M419.5 407.3h0M348.9 415.1h0M353.1 414.4h0M357.2 413.8h0M361.4 413.2h0M365.5 412.6h0M369.7 411.9h0M373.8 411.2h0M378.0 411.3h0M382.1 411.8h0M386.2 412.7h0M390.4 414.3h0M394.6 418.1h0M398.7 418.9h0M402.9 419.4h0M407.0 419.7h0M411.2 419.9h0M415.3 420.0h0M419.5 419.5h0M253.5 433.4h0M257.6 433.2h0M261.8 432.4h0M265.9 429.5h0M270.1 427.1h0M274.2 425.0h0M278.4 424.0h0M282.5 423.6h0M286.6 423.5h0M290.8 423.8h0M295.0 424.7h0M299.1 426.8h0M373.8 428.2h0M378.0 426.9h0M382.1 426.9h0M386.2 426.9h0M390.4 426.9h0M394.6 427.0h0M398.7 427.1h0M402.9 427.3h0M407.0 427.6h0M411.2 427.9h0M415.3 428.2h0M419.5 428.5h0M423.6 429.0h0M427.8 429.6h0M431.9 430.1h0M436.1 430.4h0M440.2 430.5h0M444.4 430.3h0M448.5 429.9h0M452.7 429.4h0M456.8 428.9h0M461.0 428.4h0M465.1 427.9h0M469.3 427.6h0M473.4 427.3h0M477.6 426.9h0M481.7 426.4h0M485.9 425.8h0M490.0 424.6h0M552.2 435.9h0M556.4 436.2h0M560.5 435.4h0M398.7 443.6h0M427.8 443.2h0M431.9 440.3h0M436.1 437.3h0M440.2 436.4h0M444.4 437.6h0M448.5 439.7h0M452.7 441.9h0M494.2 463.3h0M523.2 457.6h0M589.6 440.9h0M593.8 440.7h0M473.4 486.0h0M477.6 485.9h0M481.7 485.5h0M485.9 484.9h0M490.0 484.0h0M506.6 486.4h0M510.8 485.6h0M514.9 484.9h0M519.0 484.3h0M523.2 483.7h0M527.4 483.1h0M531.5 482.4h0M535.7 481.6h0M539.8 480.5h0M544.0 479.4h0M548.1 478.5h0M552.2 477.9h0M556.4 477.9h0M560.5 478.5h0M564.7 479.7h0M568.9 481.3h0M573.0 482.9h0M577.2 484.5h0M581.3 486.1h0M319.9 456.4h0M324.0 457.5h0M328.1 458.6h0M332.3 459.0h0M336.5 459.2h0M340.6 458.8h0" stroke="#ff8000" stroke-width="6"/>
<path d="M249.3 462.3h0M253.5 460.1h0M303.2 429.0h0M394.6 440.9h0M456.8 444.8h0M461.0 447.8h0M519.0 458.2h0M589.6 449.0h0M469.3 485.3h0M494.2 481.5h0M502.5 487.3h0M585.5 487.8h0M589.6 489.7h0M593.8 491.5h0M315.7 455.6h0M344.8 458.0h0M348.9 457.1h0" stroke="#ff8000" stroke-width="5.5"/>
<path d="M116.5 438.9h0M120.7 436.5h0M124.8 435.0h0M128.9 434.1h0M133.1 433.9h0M137.2 434.6h0M141.4 436.2h0M145.6 438.8h0M149.7 442.8h0M153.8 448.3h0M158.0 454.9h0M162.2 460.5h0M166.3 464.3h0M170.4 467.0h0M174.6 468.3h0M178.8 468.3h0M187.1 478.5h0M187.1 455.9h0M191.2 450.8h0M195.4 444.6h0M199.5 440.8h0M203.7 439.2h0M153.8 404.8h0M158.0 402.3h0M162.2 400.4h0M166.3 399.5h0M170.4 399.5h0M174.6 399.7h0M178.8 399.9h0M182.9 400.1h0M187.1 400.3h0M191.2 400.6h0M195.4 400.8h0M307.4 431.2h0M390.4 437.2h0M465.1 449.7h0M469.3 450.0h0M473.4 449.6h0M477.6 449.1h0M481.7 448.4h0M485.9 447.7h0M490.0 446.7h0M494.2 445.3h0M498.3 443.7h0M502.5 442.3h0M506.6 441.2h0M510.8 440.7h0M514.9 440.3h0M519.0 440.0h0M523.2 439.8h0M514.9 459.0h0M465.1 483.7h0M498.3 488.3h0M597.9 493.0h0M602.1 494.3h0M610.4 479.1h0M614.5 480.8h0M618.7 482.5h0M622.8 484.1h0M627.0 485.5h0M631.1 486.9h0M635.2 488.1h0M635.2 517.0h0M311.6 454.8h0M353.1 456.3h0" stroke="#ff8000" stroke-width="5"/>
<path d="M257.6 458.4h0M191.2 476.6h0M195.4 475.1h0M207.8 439.1h0M311.6 432.8h0M386.2 435.2h0M494.2 489.4h0M606.2 495.3h0M606.2 477.1h0M627.0 517.5h0M631.1 517.2h0M307.4 453.3h0M357.2 455.7h0" stroke="#ff8000" stroke-width="4.5"/>
<path d="M261.8 457.1h0M265.9 455.9h0M199.5 473.9h0M203.7 472.7h0M207.8 471.7h0M211.9 470.8h0M216.1 470.0h0M220.2 469.2h0M224.4 468.3h0M228.6 467.2h0M232.7 465.8h0M211.9 440.0h0M315.7 434.1h0M324.0 439.2h0M328.1 440.2h0M332.3 440.6h0M336.5 440.8h0M340.6 440.8h0M344.8 440.7h0M348.9 440.3h0M353.1 439.1h0M490.0 490.5h0M602.1 475.0h0M606.2 519.3h0M610.4 518.9h0M614.5 518.5h0M618.7 518.1h0M622.8 517.8h0M402.9 464.1h0M407.0 464.9h0M411.2 465.6h0M415.3 466.4h0M419.5 467.2h0M303.2 453.0h0M361.4 455.3h0M290.8 480.3h0M295.0 480.0h0M299.1 479.5h0M303.2 479.4h0M307.4 480.6h0M390.4 491.7h0M394.6 492.2h0M398.7 492.8h0" stroke="#ff8000" stroke-width="4"/>
<path d="M315.7 462.5h0M319.9 462.5h0M324.0 462.7h0M328.1 463.6h0M332.3 463.6h0M336.5 463.6h0M340.6 463.5h0M344.8 463.0h0M348.9 462.4h0M353.1 462.1h0" stroke="#ff8000" stroke-width="3.5"/>
<path d="M216.1 360.9h0M498.3 168.3h0M502.5 164.6h0M506.6 160.7h0M510.8 157.5h0M514.9 154.9h0M519.0 152.5h0M523.2 149.7h0M527.4 146.5h0M531.5 143.7h0M535.7 141.5h0M539.8 139.5h0M544.0 138.0h0M548.1 136.6h0M552.2 135.4h0M556.4 134.8h0M560.5 135.0h0M564.7 135.8h0M568.9 136.9h0M573.0 138.3h0M577.2 140.0h0M581.3 142.5h0M585.5 145.3h0M589.6 148.4h0M593.8 151.9h0M597.9 156.0h0M602.1 161.0h0M606.2 166.2h0M610.4 171.5h0M614.5 177.0h0M618.7 182.6h0M622.8 188.3h0M627.0 193.9h0M631.1 199.4h0M635.2 204.8h0" stroke="#00c040" stroke-width="18"/>
<path d="M211.9 373.7h0M220.2 347.2h0M494.2 171.8h0" stroke="#00c040" stroke-width="17.5"/>
<path d="M224.4 332.8h0M444.4 276.1h0M448.5 269.4h0M452.7 260.5h0M456.8 252.0h0M490.0 175.4h0" stroke="#00c040" stroke-width="17"/>
<path d="M228.6 317.4h0M440.2 281.3h0M485.9 179.4h0" stroke="#00c040" stroke-width="16.5"/>
<path d="M232.7 300.8h0M116.5 182.0h0M120.7 184.9h0M124.8 188.8h0M128.9 193.7h0M116.5 337.0h0M431.9 286.5h0M436.1 284.9h0M461.0 243.8h0M481.7 183.2h0" stroke="#00c040" stroke-width="16"/>
<path d="M207.8 388.2h0M133.1 200.7h0M120.7 335.7h0M419.5 289.0h0M423.6 288.3h0M427.8 287.6h0M465.1 236.3h0M548.1 390.4h0M552.2 394.6h0M556.4 396.5h0M560.5 393.5h0M564.7 389.2h0" stroke="#00c040" stroke-width="15.5"/>
<path d="M236.9 284.4h0M241.0 268.3h0M137.2 210.6h0M141.4 221.4h0M124.8 334.1h0M253.5 293.2h0M257.6 293.1h0M411.2 290.3h0M415.3 289.6h0M415.3 192.2h0M419.5 191.9h0M423.6 191.5h0M427.8 191.1h0M431.9 190.7h0M436.1 190.4h0M544.0 385.3h0M568.9 383.6h0M116.5 487.0h0M120.7 487.0h0M124.8 487.0h0M128.9 487.0h0M133.1 487.0h0M137.2 487.0h0M141.4 487.0h0M145.6 487.0h0M149.7 487.0h0M153.8 487.1h0" stroke="#00c040" stroke-width="15"/>
<path d="M207.8 58.4h0M211.9 71.0h0M216.1 83.8h0M220.2 96.7h0M224.4 109.6h0M228.6 122.6h0M232.7 135.8h0M236.9 149.5h0M241.0 163.8h0M245.2 178.7h0M249.3 193.5h0M245.2 252.0h0M145.6 231.0h0M128.9 332.2h0M249.3 294.4h0M261.8 293.8h0M407.0 290.9h0M411.2 192.5h0M440.2 190.1h0M444.4 189.9h0M448.5 189.7h0M477.6 186.0h0M539.8 379.4h0M573.0 377.5h0M158.0 487.4h0M162.2 487.7h0" stroke="#00c040" stroke-width="14.5"/>
<path d="M253.5 208.5h0M249.3 237.7h0M133.1 329.9h0M245.2 295.9h0M265.9 295.0h0M402.9 291.8h0M469.3 230.7h0M461.0 236.8h0M452.7 189.4h0M456.8 189.1h0M535.7 372.9h0M577.2 371.5h0M166.3 487.9h0M170.4 488.0h0" stroke="#00c040" stroke-width="14"/>
<path d="M253.5 227.3h0M149.7 239.3h0M137.2 327.3h0M270.1 297.6h0M398.7 293.7h0M456.8 241.2h0M465.1 231.2h0M407.0 192.7h0M461.0 188.8h0M465.1 188.5h0M473.4 187.5h0" stroke="#00c040" stroke-width="13.5"/>
<path d="M241.0 298.3h0M274.2 302.3h0M452.7 245.3h0M469.3 188.1h0M265.9 218.7h0M270.1 217.3h0M274.2 216.1h0M278.4 214.9h0M282.5 213.9h0M386.2 212.4h0M390.4 214.3h0M394.6 216.3h0M398.7 218.5h0M402.9 220.9h0M407.0 223.2h0M411.2 225.6h0M415.3 225.9h0M531.5 366.0h0M581.3 365.2h0M585.5 354.8h0M627.0 251.5h0M631.1 241.5h0M635.2 231.0h0M174.6 487.2h0" stroke="#00c040" stroke-width="13"/>
<path d="M141.4 324.4h0M236.9 301.1h0M278.4 309.7h0M394.6 297.5h0M473.4 226.3h0M402.9 192.9h0M261.8 220.3h0M286.6 212.9h0M290.8 211.9h0M295.0 211.0h0M378.0 208.9h0M382.1 210.6h0M419.5 225.6h0M423.6 225.0h0M427.8 224.4h0M527.4 355.6h0M622.8 260.8h0" stroke="#00c040" stroke-width="12.5"/>
<path d="M257.6 217.5h0M257.6 219.6h0M145.6 321.6h0M282.5 318.9h0M311.6 364.0h0M315.7 369.5h0M319.9 374.3h0M324.0 377.9h0M328.1 379.8h0M332.3 381.2h0M336.5 381.6h0M340.6 380.8h0M344.8 379.2h0M348.9 376.9h0M390.4 302.5h0M448.5 250.8h0M469.3 226.9h0M261.8 210.3h0M265.9 207.6h0M398.7 193.1h0M299.1 210.2h0M303.2 209.4h0M307.4 208.6h0M311.6 207.9h0M315.7 207.2h0M319.9 206.6h0M324.0 206.1h0M328.1 205.7h0M332.3 205.3h0M336.5 205.1h0M340.6 205.0h0M344.8 205.2h0M348.9 205.5h0M353.1 205.9h0M357.2 206.1h0M361.4 206.4h0M365.5 206.6h0M369.7 207.0h0M373.8 207.7h0M431.9 223.7h0M436.1 223.2h0M440.2 222.7h0M444.4 222.2h0M448.5 221.7h0M452.7 221.2h0M456.8 220.8h0M461.0 220.3h0M465.1 220.0h0M523.2 346.5h0M589.6 347.5h0M614.5 280.2h0M618.7 270.3h0M137.2 381.4h0M141.4 387.2h0M145.6 393.6h0M149.7 400.9h0M153.8 412.5h0M158.0 421.9h0M162.2 427.6h0M166.3 431.9h0M170.4 434.0h0" stroke="#00c040" stroke-width="12"/>
<path d="M153.8 246.0h0M232.7 302.8h0M286.6 325.0h0M307.4 357.1h0M353.1 372.7h0M386.2 311.0h0M270.1 206.0h0M394.6 193.3h0M519.0 334.4h0M593.8 337.6h0M610.4 289.9h0M133.1 376.1h0M174.6 434.5h0M178.8 434.9h0M178.8 485.6h0" stroke="#00c040" stroke-width="11.5"/>
<path d="M203.7 398.9h0M149.7 318.7h0M228.6 304.1h0M290.8 330.6h0M295.0 336.8h0M299.1 343.4h0M303.2 350.1h0M357.2 367.7h0M361.4 361.7h0M365.5 354.8h0M369.7 347.8h0M373.8 340.9h0M378.0 332.1h0M382.1 321.3h0M444.4 255.5h0M274.2 204.9h0M390.4 193.5h0M469.3 220.3h0M597.9 323.9h0M602.1 308.3h0M606.2 299.1h0M128.9 371.4h0M182.9 435.1h0M187.1 435.2h0" stroke="#00c040" stroke-width="11"/>
<path d="M153.8 316.0h0M224.4 305.1h0M473.4 223.6h0M278.4 203.9h0M386.2 193.8h0M514.9 321.8h0M120.7 363.9h0M124.8 367.5h0" stroke="#00c040" stroke-width="10.5"/>
<path d="M158.0 250.0h0M158.0 314.3h0M220.2 306.0h0M440.2 258.5h0M282.5 202.9h0M378.0 194.3h0M382.1 194.1h0M116.5 361.0h0M191.2 434.3h0M182.9 481.1h0" stroke="#00c040" stroke-width="10"/>
<path d="M162.2 313.1h0M166.3 312.2h0M207.8 308.1h0M211.9 307.5h0M216.1 306.8h0M436.1 260.6h0M286.6 201.8h0M290.8 200.8h0M295.0 199.9h0M373.8 194.5h0M510.8 311.1h0" stroke="#00c040" stroke-width="9.5"/>
<path d="M170.4 311.4h0M174.6 310.9h0M178.8 310.4h0M182.9 310.1h0M187.1 309.8h0M191.2 309.6h0M195.4 309.3h0M199.5 309.0h0M203.7 308.6h0M423.6 263.4h0M427.8 262.8h0M431.9 261.9h0M299.1 199.1h0M303.2 198.5h0M365.5 194.7h0M369.7 194.6h0M506.6 301.3h0M195.4 432.7h0" stroke="#00c040" stroke-width="9"/>
<path d="M402.9 271.6h0M407.0 268.9h0M411.2 266.3h0M415.3 264.8h0M419.5 264.0h0M307.4 197.9h0M311.6 197.3h0M315.7 196.8h0M357.2 194.9h0M361.4 194.8h0M502.5 282.8h0" stroke="#00c040" stroke-width="8.5"/>
<path d="M162.2 252.5h0M398.7 273.7h0M319.9 196.4h0M324.0 196.1h0M328.1 195.8h0M332.3 195.6h0M336.5 195.4h0M340.6 195.3h0M344.8 195.1h0M348.9 195.0h0M353.1 194.9h0M498.3 269.4h0M199.5 431.2h0M199.5 416.7h0" stroke="#00c040" stroke-width="8"/>
<path d="M166.3 253.0h0M494.2 260.8h0M203.7 429.8h0M207.8 428.3h0" stroke="#00c040" stroke-width="7.5"/>
<path d="M199.5 404.5h0M158.0 262.6h0M162.2 263.9h0M166.3 265.2h0M170.4 266.4h0M174.6 267.4h0M178.8 268.3h0M182.9 269.1h0M187.1 269.9h0M191.2 270.7h0M195.4 271.5h0M199.5 272.6h0M203.7 273.6h0M207.8 274.8h0M211.9 276.1h0M216.1 277.6h0M220.2 279.4h0M224.4 281.7h0M228.6 284.3h0M232.7 287.2h0M481.7 238.2h0M485.9 246.0h0M490.0 252.8h0M211.9 427.5h0M216.1 427.2h0M220.2 427.0h0M224.4 427.3h0M228.6 428.6h0M232.7 429.8h0M236.9 431.0h0M241.0 432.0h0M245.2 432.8h0M249.3 433.4h0M315.7 388.2h0M319.9 390.6h0M324.0 392.9h0M328.1 394.5h0M332.3 395.7h0M336.5 396.2h0M340.6 395.4h0M344.8 394.0h0M195.4 421.7h0" stroke="#00c040" stroke-width="7"/>
<path d="M170.4 253.2h0M348.9 392.1h0M191.2 424.4h0" stroke="#00c040" stroke-width="6.5"/>
<path d="M116.5 418.6h0M120.7 418.2h0M124.8 417.7h0M128.9 417.1h0M133.1 416.4h0M137.2 415.6h0M141.4 414.5h0M145.6 413.2h0M149.7 412.4h0M153.8 412.2h0M158.0 412.4h0M162.2 412.7h0M166.3 412.9h0M170.4 412.8h0M174.6 412.6h0M178.8 412.1h0M182.9 411.6h0M187.1 410.9h0M191.2 409.5h0M195.4 407.4h0M174.6 253.5h0M178.8 253.9h0M182.9 254.2h0M187.1 254.6h0M191.2 255.0h0M195.4 255.5h0M199.5 256.3h0M203.7 257.4h0M207.8 258.8h0M211.9 260.3h0M216.1 261.6h0M220.2 262.8h0M224.4 264.2h0M228.6 265.5h0M232.7 266.3h0M236.9 266.3h0M245.2 273.0h0M249.3 273.0h0M253.5 273.1h0M257.6 273.5h0M261.8 274.5h0M265.9 276.4h0M473.4 222.2h0M477.6 225.1h0M249.3 445.0h0M253.5 444.8h0M257.6 444.7h0M261.8 444.7h0M265.9 444.8h0M307.4 385.6h0M311.6 385.7h0M353.1 389.8h0M357.2 387.7h0M361.4 386.7h0M328.1 415.7h0M332.3 415.7h0M336.5 415.7h0M340.6 415.7h0M344.8 415.7h0M182.9 425.8h0M187.1 425.9h0" stroke="#00c040" stroke-width="6"/>
<path d="M245.2 445.4h0M270.1 445.2h0M174.6 424.5h0M178.8 425.3h0" stroke="#00c040" stroke-width="5.5"/>
<path d="M133.1 476.0h0M137.2 476.0h0M141.4 476.0h0M145.6 476.0h0M149.7 476.0h0M153.8 476.1h0M158.0 476.2h0M162.2 476.5h0M166.3 476.7h0M170.4 476.9h0M174.6 477.0h0M178.8 476.2h0M166.3 455.2h0M170.4 457.0h0M174.6 457.5h0M178.8 456.9h0M178.8 455.1h0M182.9 457.9h0M187.1 465.1h0M241.0 445.9h0M274.2 445.2h0M278.4 444.9h0M282.5 444.6h0M286.6 444.0h0M365.5 432.6h0M145.6 424.0h0M149.7 423.8h0M153.8 423.8h0M158.0 423.7h0M162.2 423.7h0M166.3 423.7h0M170.4 423.9h0" stroke="#00c040" stroke-width="5"/>
<path d="M328.1 492.6h0M332.3 493.7h0M328.1 499.4h0M332.3 500.7h0M336.5 501.6h0M340.6 502.3h0M344.8 502.7h0" stroke="#00c040" stroke-width="4.5"/>
<path d="M315.7 485.2h0M319.9 487.5h0M324.0 490.6h0M336.5 494.3h0M340.6 492.4h0M344.8 489.3h0M348.9 484.1h0M311.6 488.1h0M315.7 490.7h0M319.9 493.8h0M324.0 497.2h0M348.9 502.7h0M353.1 501.9h0M357.2 499.8h0M361.4 498.3h0M365.5 496.7h0M369.7 494.6h0M373.8 492.9h0M378.0 492.2h0M382.1 491.7h0" stroke="#00c040" stroke-width="4"/>
<path d="M311.6 355.7h0M315.7 355.8h0M319.9 356.0h0M324.0 356.1h0M328.1 356.3h0M332.3 356.4h0M336.5 356.5h0M340.6 356.7h0M344.8 356.8h0M348.9 357.0h0M353.1 357.2h0M357.2 357.4h0M539.8 369.3h0M544.0 369.4h0M548.1 369.5h0M552.2 369.5h0M556.4 369.5h0M560.5 369.5h0M564.7 369.4h0M568.9 369.4h0" stroke="#00c040" stroke-width="3.5"/>
</g>
<clipPath id="clipb"><rect x="830.3" y="63.3" width="517.2" height="517.6"/></clipPath>
<g clip-path="url(#clipb)" fill="none" stroke-width="1.1" stroke-dasharray="2 1.4">
<path d="M829.0 499.9 831.0 500.3 833.0 500.8 835.0 501.3 837.0 501.8 839.0 502.3 841.0 502.8 843.0 503.3 845.0 503.8 847.0 504.3 849.0 504.9 851.0 505.5 853.0 506.2 855.0 507.0 857.0 507.7 859.0 508.5 861.0 509.1 863.0 509.7 865.0 510.2 867.0 510.5 869.0 510.6 871.0 510.7 873.0 510.8 875.0 510.9 877.0 510.9 879.0 511.0 881.0 511.1 883.0 511.1 885.0 511.3 887.0 511.4 889.0 511.8 891.0 512.4 893.0 513.2 895.0 514.1 897.0 515.0 899.0 515.8 901.0 516.4 903.0 516.9 905.0 517.4 907.0 517.9 909.0 518.3 911.0 518.8 913.0 519.2 915.0 519.8 917.0 520.4 919.0 521.1 921.0 521.9 923.0 522.7 925.0 523.6 927.0 524.5 929.0 525.3 931.0 526.2 933.0 527.0 935.0 527.8 937.0 528.5 939.0 529.3 941.0 530.0 943.0 530.7 945.0 531.4 947.0 532.0 949.0 532.7" stroke="#a3e4b5"/>
<path d="M900.3 520.0 902.3 519.5 904.3 519.0 906.3 518.4 908.3 517.8 910.3 517.3 912.3 516.7 914.3 516.0 916.3 515.4 918.3 514.8 920.3 514.1 922.3 513.4 924.3 512.7 926.3 512.0 928.3 511.3 930.3 510.5 932.3 509.7 934.3 508.9 936.3 508.1 938.3 507.3 940.3 506.4 942.3 505.6 944.3 504.8 946.3 504.0 948.3 503.1 950.3 502.1 952.3 501.1 954.3 500.1 956.3 499.2 958.3 498.3 960.3 497.5 962.3 496.8 964.3 496.3 966.3 496.1 968.3 496.0 970.3 496.3 972.3 496.9 974.3 497.7 976.3 498.7 978.3 499.8 980.3 501.0 982.3 502.3 984.3 503.6 986.3 505.3 988.3 507.3 990.3 509.5 992.3 512.0 994.3 514.5 996.3 517.0 998.3 519.5 1000.3 521.8 1002.3 523.9 1004.3 525.9 1006.3 528.1 1008.3 530.3 1010.3 532.4 1012.3 534.5 1014.3 536.4 1016.3 538.2 1018.3 539.6 1020.3 540.7 1022.3 541.5 1024.3 542.1 1026.3 542.7 1028.3 543.3 1030.3 543.7 1032.3 544.2 1034.3 544.5 1036.3 544.8 1038.3 545.0 1040.3 545.1 1042.3 545.1 1044.3 545.0 1046.3 544.8 1048.3 544.5 1050.3 544.2 1052.3 543.8 1054.3 543.4 1056.3 543.0 1058.3 542.7 1060.3 542.3 1062.3 541.9 1064.3 541.5 1066.3 541.0 1068.3 540.4 1070.3 539.9 1072.3 539.3 1074.3 538.8 1076.3 538.2 1078.3 537.7 1080.3 537.2 1082.3 536.7 1084.3 536.3 1086.3 535.9 1088.3 535.6 1090.3 535.3 1092.3 535.1 1094.3 534.9 1096.3 534.6 1098.3 534.4 1100.3 534.2 1102.3 534.0 1104.3 533.8 1106.3 533.6 1108.3 533.5 1110.3 533.3 1112.3 533.2 1114.3 533.1 1116.3 533.1 1118.3 533.0 1120.3 533.0 1122.3 533.0 1124.3 533.1 1126.3 533.1 1128.3 533.2 1130.3 533.3 1132.3 533.5 1134.3 533.6 1136.3 533.8 1138.3 533.9 1140.3 534.1 1142.3 534.3 1144.3 534.5 1146.3 534.7 1148.3 534.9 1150.3 535.1 1152.3 535.3 1154.3 535.5 1156.3 535.7 1158.3 535.9 1160.3 536.0 1162.3 536.2 1164.3 536.4 1166.3 536.6 1168.3 536.8 1170.3 537.0 1172.3 537.2 1174.3 537.4 1176.3 537.6 1178.3 537.8 1180.3 538.0 1182.3 538.2 1184.3 538.4 1186.3 538.6 1188.3 538.8 1190.3 539.0 1192.3 539.2 1194.3 539.4 1196.3 539.6 1198.3 539.8 1200.3 540.0 1202.3 540.2 1204.3 540.4 1206.3 540.7 1208.3 540.9 1210.3 541.1 1212.3 541.4 1214.3 541.6 1216.3 541.9 1218.3 542.1 1220.3 542.4 1222.3 542.6 1224.3 542.8 1226.3 543.1 1228.3 543.3 1230.3 543.5 1232.3 543.7 1234.3 543.9 1236.3 544.1 1238.3 544.3 1240.3 544.4 1242.3 544.6 1244.3 544.7 1246.3 544.8 1248.3 544.9 1250.3 545.0 1252.3 545.0 1254.3 545.0 1256.3 545.0 1258.3 544.9 1260.3 544.8 1262.3 544.6 1264.3 544.4 1266.3 544.2 1268.3 543.9 1270.3 543.7 1272.3 543.4 1274.3 543.1 1276.3 542.8 1278.3 542.5 1280.3 542.2 1282.3 541.9 1284.3 541.7 1286.3 541.4 1288.3 541.2 1290.3 541.0 1292.3 540.8 1294.3 540.6 1296.3 540.4 1298.3 540.2 1300.3 540.0 1302.3 539.8 1304.3 539.6 1306.3 539.4 1308.3 539.3 1310.3 539.1 1312.3 538.9 1314.3 538.7 1316.3 538.5 1318.3 538.4 1320.3 538.2 1322.3 538.0 1324.3 537.8 1326.3 537.7 1328.3 537.5 1330.3 537.4 1332.3 537.2 1334.3 537.0 1336.3 536.9 1338.3 536.7 1340.3 536.6 1342.3 536.4 1344.3 536.3 1346.3 536.1" stroke="#a3e4b5"/>
<path d="M829.0 558.6 831.0 558.2 833.0 557.7 835.0 557.2 837.0 556.7 839.0 556.1 841.0 555.5 843.0 554.8 845.0 554.1 847.0 553.4 849.0 552.6 851.0 551.7 853.0 550.5 855.0 549.3 857.0 548.0 859.0 546.8 861.0 545.6 863.0 544.6 865.0 543.8 867.0 543.3 869.0 543.0 871.0 542.8 873.0 542.6 875.0 542.4 877.0 542.2 879.0 542.0 881.0 541.9 883.0 541.7 885.0 541.6 887.0 541.5 889.0 541.4 891.0 541.4 893.0 541.3 895.0 541.3 897.0 541.3 899.0 541.4 901.0 541.5 903.0 541.6 905.0 541.8 907.0 542.0 909.0 542.3 911.0 542.5 913.0 542.8 915.0 543.1 917.0 543.4 919.0 543.7 921.0 544.1 923.0 544.6 925.0 545.0 927.0 545.6 929.0 546.1 931.0 546.7 933.0 547.3 935.0 547.9 937.0 548.5 939.0 549.2 941.0 549.8 943.0 550.5 945.0 551.1 947.0 551.8 949.0 552.4 951.0 553.1 953.0 553.8 955.0 554.5 957.0 555.3 959.0 556.0 961.0 556.8 963.0 557.6 965.0 558.5 967.0 559.4 969.0 560.3 971.0 561.2 973.0 562.2 975.0 563.3 977.0 564.5 979.0 565.7 981.0 567.0 983.0 568.4 985.0 569.9 987.0 571.4 989.0 572.9 991.0 574.5" stroke="#a3e4b5"/>
<path d="M829.0 562.5 831.0 562.5 833.0 562.5 835.0 562.5 837.0 562.5 839.0 562.5 841.0 562.5 843.0 562.5 845.0 562.5 847.0 562.5 849.0 562.5 851.0 562.5 853.0 562.5 855.0 562.5 857.0 562.5 859.0 562.4 861.0 562.0 863.0 561.3 865.0 560.3 867.0 559.2 869.0 558.1 871.0 557.0 873.0 556.0 875.0 555.3 877.0 554.8 879.0 554.6 881.0 554.4 883.0 554.2 885.0 554.0 887.0 553.8 889.0 553.6 891.0 553.5 893.0 553.3 895.0 553.2 897.0 553.1 899.0 553.0 901.0 553.0 903.0 552.9 905.0 552.9 907.0 552.9 909.0 553.0 911.0 553.1 913.0 553.2 915.0 553.4 917.0 553.6 919.0 553.9 921.0 554.2 923.0 554.5 925.0 554.8 927.0 555.1 929.0 555.5 931.0 556.1 933.0 556.7 935.0 557.4 937.0 558.2 939.0 559.0 941.0 559.9 943.0 560.8 945.0 561.8 947.0 562.7 949.0 563.7 951.0 564.7 953.0 565.6 955.0 566.6 957.0 567.5 959.0 568.3 961.0 569.1 963.0 569.9 965.0 570.6 967.0 571.2 969.0 571.9 971.0 572.5 973.0 573.1 975.0 573.7 977.0 574.3 979.0 574.9 981.0 575.4 983.0 576.0" stroke="#a3e4b5"/>
<path d="M992.8 574.0 994.8 572.3 996.8 570.8 998.8 569.4 1000.8 568.1 1002.8 566.9 1004.8 566.0 1006.8 565.3 1008.8 564.7 1010.8 564.4 1012.8 564.4 1014.8 564.6 1016.8 565.0 1018.8 565.5 1020.8 566.1 1022.8 566.7 1024.8 567.3 1026.8 567.8 1028.8 568.1 1030.8 568.3 1032.8 568.3 1034.8 568.3 1036.8 568.3 1038.8 568.3 1040.8 568.3 1042.8 568.3 1044.8 568.3 1046.8 568.3 1048.8 568.3 1050.8 568.3 1052.8 568.2 1054.8 567.8 1056.8 567.3 1058.8 566.7 1060.8 566.0 1062.8 565.2 1064.8 564.4 1066.8 563.6 1068.8 562.9 1070.8 562.1 1072.8 561.3 1074.8 560.4 1076.8 559.5 1078.8 558.5 1080.8 557.5 1082.8 556.7 1084.8 555.9 1086.8 555.3 1088.8 554.8 1090.8 554.5 1092.8 554.2 1094.8 553.9 1096.8 553.7 1098.8 553.4 1100.8 553.2 1102.8 553.0 1104.8 552.8 1106.8 552.6 1108.8 552.4 1110.8 552.3 1112.8 552.2 1114.8 552.1 1116.8 552.0 1118.8 552.0 1120.8 552.0 1122.8 552.0 1124.8 552.1 1126.8 552.2 1128.8 552.3 1130.8 552.5 1132.8 552.7 1134.8 552.9 1136.8 553.1 1138.8 553.4 1140.8 553.6 1142.8 553.9 1144.8 554.1 1146.8 554.4 1148.8 554.7 1150.8 554.9 1152.8 555.2 1154.8 555.4 1156.8 555.7 1158.8 555.9 1160.8 556.1 1162.8 556.3 1164.8 556.5 1166.8 556.8 1168.8 557.0 1170.8 557.3 1172.8 557.6 1174.8 557.8 1176.8 558.1 1178.8 558.3 1180.8 558.6 1182.8 558.8 1184.8 559.1 1186.8 559.3 1188.8 559.5 1190.8 559.6 1192.8 559.8 1194.8 559.9 1196.8 560.0 1198.8 560.0 1200.8 560.0 1202.8 560.0 1204.8 560.0 1206.8 559.9 1208.8 559.9 1210.8 559.8 1212.8 559.7 1214.8 559.6 1216.8 559.5 1218.8 559.4 1220.8 559.3 1222.8 559.2 1224.8 559.1 1226.8 559.0 1228.8 558.9 1230.8 558.8 1232.8 558.7 1234.8 558.6 1236.8 558.5 1238.8 558.4 1240.8 558.3 1242.8 558.2 1244.8 558.2 1246.8 558.1 1248.8 558.1 1250.8 558.0 1252.8 558.0 1254.8 558.0 1256.8 558.0 1258.8 558.0 1260.8 558.1 1262.8 558.1 1264.8 558.2 1266.8 558.3 1268.8 558.4 1270.8 558.4 1272.8 558.5 1274.8 558.6 1276.8 558.7 1278.8 558.9 1280.8 559.0 1282.8 559.1 1284.8 559.2 1286.8 559.3 1288.8 559.4 1290.8 559.5 1292.8 559.7 1294.8 559.8 1296.8 559.9 1298.8 559.9 1300.8 560.0 1302.8 560.1 1304.8 560.2 1306.8 560.3 1308.8 560.4 1310.8 560.5 1312.8 560.5 1314.8 560.6 1316.8 560.7 1318.8 560.8 1320.8 560.9 1322.8 561.0 1324.8 561.0 1326.8 561.1 1328.8 561.2 1330.8 561.3 1332.8 561.4 1334.8 561.5 1336.8 561.5 1338.8 561.6 1340.8 561.7 1342.8 561.8 1344.8 561.9 1346.8 562.0" stroke="#a3e4b5"/>
<path d="M1041.0 547.0 1043.0 547.7 1045.0 548.3 1047.0 548.9 1049.0 549.5 1051.0 549.9 1053.0 550.3 1055.0 550.7 1057.0 550.9 1059.0 551.0 1061.0 551.0 1063.0 550.9 1065.0 550.8 1067.0 550.6 1069.0 550.4 1071.0 550.2 1073.0 549.9 1075.0 549.5 1077.0 549.2 1079.0 548.8 1081.0 548.5 1083.0 548.1 1085.0 547.7 1087.0 547.4 1089.0 547.0 1091.0 546.6 1093.0 546.3 1095.0 545.9 1097.0 545.5 1099.0 545.0 1101.0 544.6 1103.0 544.1 1105.0 543.6 1107.0 543.2 1109.0 542.7 1111.0 542.2 1113.0 541.7 1115.0 541.2 1117.0 540.7 1119.0 540.2 1121.0 539.8 1123.0 539.2 1125.0 538.7 1127.0 538.1 1129.0 537.6 1131.0 537.0 1133.0 536.4 1135.0 535.7 1137.0 535.1 1139.0 534.5 1141.0 533.9 1143.0 533.4 1145.0 532.8 1147.0 532.3 1149.0 531.8 1151.0 531.4 1153.0 531.0 1155.0 530.6 1157.0 530.3 1159.0 530.1 1161.0 529.9 1163.0 529.8 1165.0 529.6 1167.0 529.4 1169.0 529.3 1171.0 529.1 1173.0 529.0 1175.0 528.9 1177.0 528.8 1179.0 528.6 1181.0 528.5 1183.0 528.4 1185.0 528.3 1187.0 528.3 1189.0 528.2 1191.0 528.1 1193.0 528.1 1195.0 528.0 1197.0 528.0 1199.0 528.0 1201.0 528.0 1203.0 528.0 1205.0 528.1 1207.0 528.2 1209.0 528.4 1211.0 528.5 1213.0 528.7 1215.0 528.9 1217.0 529.2 1219.0 529.4 1221.0 529.7 1223.0 530.0 1225.0 530.4 1227.0 530.7 1229.0 531.1 1231.0 531.4 1233.0 531.8 1235.0 532.2 1237.0 532.6 1239.0 533.0 1241.0 533.4 1243.0 533.8 1245.0 534.2 1247.0 534.6 1249.0 535.0 1251.0 535.4 1253.0 535.8 1255.0 536.2 1257.0 536.6 1259.0 537.1 1261.0 537.6 1263.0 538.1 1265.0 538.6 1267.0 539.2 1269.0 539.8 1271.0 540.4 1273.0 541.0 1275.0 541.6 1277.0 542.2 1279.0 542.8 1281.0 543.4 1283.0 544.0 1285.0 544.6 1287.0 545.2 1289.0 545.7 1291.0 546.2 1293.0 546.7 1295.0 547.1 1297.0 547.5 1299.0 547.8 1301.0 548.1 1303.0 548.4 1305.0 548.7 1307.0 549.0 1309.0 549.3 1311.0 549.6 1313.0 549.9 1315.0 550.1 1317.0 550.4 1319.0 550.7 1321.0 550.9 1323.0 551.1 1325.0 551.4 1327.0 551.6 1329.0 551.8 1331.0 552.0 1333.0 552.2 1335.0 552.3 1337.0 552.5 1339.0 552.6 1341.0 552.7 1343.0 552.8 1345.0 552.9 1347.0 553.0" stroke="#a3e4b5"/>
<path d="M829.0 103.0 831.0 103.0 833.0 103.0 835.0 103.0 837.0 103.0 839.0 103.0 841.0 103.0 843.0 103.0 845.0 103.0 847.0 103.0 849.0 103.0 851.0 103.0 853.0 103.0 855.0 103.0 857.0 103.0 859.0 103.0 861.0 103.0 863.0 103.0 865.0 103.0 867.0 103.0 869.0 103.0 871.0 103.0 873.0 103.0 875.0 103.0 877.0 103.0 879.0 103.0 881.0 103.0 883.0 103.0 885.0 103.0 887.0 103.0 889.0 103.0 891.0 103.0 893.0 103.0 895.0 103.0 897.0 103.0 899.0 103.0 901.0 102.6 903.0 101.7 905.0 100.3 907.0 98.6 909.0 96.9 911.0 95.1 913.0 93.1 915.0 90.8 917.0 88.2 919.0 85.5" stroke="#ffcf9f"/>
<path d="M1089.0 470.0 1091.0 470.0 1093.0 470.1 1095.0 470.1 1097.0 470.2 1099.0 470.3 1101.0 470.4 1103.0 470.5 1105.0 470.7 1107.0 470.8 1109.0 471.0 1111.0 471.2 1113.0 471.3 1115.0 471.5 1117.0 471.7 1119.0 471.9 1121.0 472.1 1123.0 472.3 1125.0 472.6 1127.0 472.9 1129.0 473.2 1131.0 473.5 1133.0 473.9 1135.0 474.3 1137.0 474.7 1139.0 475.1 1141.0 475.6 1143.0 476.0 1145.0 476.5 1147.0 477.0 1149.0 477.4 1151.0 477.9 1153.0 478.4 1155.0 478.9 1157.0 479.3 1159.0 479.8 1161.0 480.2 1163.0 480.7 1165.0 481.2 1167.0 481.7 1169.0 482.2 1171.0 482.7 1173.0 483.2 1175.0 483.7 1177.0 484.2 1179.0 484.8 1181.0 485.3 1183.0 485.8 1185.0 486.4 1187.0 486.9 1189.0 487.4 1191.0 487.9 1193.0 488.4 1195.0 488.9 1197.0 489.3 1199.0 489.8 1201.0 490.2 1203.0 490.7 1205.0 491.1 1207.0 491.6 1209.0 492.1 1211.0 492.6 1213.0 493.1 1215.0 493.6 1217.0 494.1 1219.0 494.6 1221.0 495.0 1223.0 495.5 1225.0 496.0 1227.0 496.4 1229.0 496.9 1231.0 497.3 1233.0 497.7 1235.0 498.1 1237.0 498.4 1239.0 498.8 1241.0 499.0 1243.0 499.3 1245.0 499.5 1247.0 499.7 1249.0 499.8 1251.0 499.9 1253.0 500.0 1255.0 500.0 1257.0 500.0 1259.0 499.9 1261.0 499.8 1263.0 499.7 1265.0 499.5 1267.0 499.3 1269.0 499.1 1271.0 498.9 1273.0 498.6 1275.0 498.4 1277.0 498.1 1279.0 497.8 1281.0 497.6 1283.0 497.3 1285.0 497.0 1287.0 496.7 1289.0 496.4 1291.0 496.1 1293.0 495.8 1295.0 495.6 1297.0 495.3 1299.0 495.1 1301.0 494.9 1303.0 494.7 1305.0 494.5 1307.0 494.3 1309.0 494.0 1311.0 493.8 1313.0 493.6 1315.0 493.4 1317.0 493.2 1319.0 493.0 1321.0 492.8 1323.0 492.6 1325.0 492.4 1327.0 492.2 1329.0 492.0 1331.0 491.7 1333.0 491.5 1335.0 491.3 1337.0 491.1 1339.0 490.9 1341.0 490.7 1343.0 490.5 1345.0 490.3 1347.0 490.1" stroke="#a3e4b5"/>
<path d="M1089.0 482.0 1091.0 482.6 1093.0 483.2 1095.0 483.7 1097.0 484.3 1099.0 484.9 1101.0 485.4 1103.0 485.9 1105.0 486.5 1107.0 487.0 1109.0 487.5 1111.0 488.0 1113.0 488.4 1115.0 488.9 1117.0 489.4 1119.0 489.8 1121.0 490.2 1123.0 490.6 1125.0 491.0 1127.0 491.4 1129.0 491.7 1131.0 492.1 1133.0 492.5 1135.0 492.8 1137.0 493.1 1139.0 493.5 1141.0 493.8 1143.0 494.1 1145.0 494.4 1147.0 494.8 1149.0 495.1 1151.0 495.4 1153.0 495.8 1155.0 496.1 1157.0 496.5 1159.0 496.8 1161.0 497.2 1163.0 497.6 1165.0 498.0 1167.0 498.4 1169.0 498.8 1171.0 499.2 1173.0 499.6 1175.0 500.1 1177.0 500.5 1179.0 500.9 1181.0 501.4 1183.0 501.8 1185.0 502.2 1187.0 502.6 1189.0 503.0 1191.0 503.4 1193.0 503.8 1195.0 504.1 1197.0 504.5 1199.0 504.8 1201.0 505.2 1203.0 505.5 1205.0 505.8 1207.0 506.2 1209.0 506.5 1211.0 506.9 1213.0 507.2 1215.0 507.6 1217.0 507.9 1219.0 508.3 1221.0 508.6 1223.0 508.9 1225.0 509.3 1227.0 509.6 1229.0 509.9 1231.0 510.2 1233.0 510.4 1235.0 510.7 1237.0 510.9 1239.0 511.2 1241.0 511.4 1243.0 511.5 1245.0 511.7 1247.0 511.8 1249.0 511.9 1251.0 512.0 1253.0 512.0 1255.0 512.0 1257.0 512.0 1259.0 511.9 1261.0 511.8 1263.0 511.6 1265.0 511.5 1267.0 511.3 1269.0 511.1 1271.0 510.8 1273.0 510.6 1275.0 510.3 1277.0 510.0 1279.0 509.8 1281.0 509.5 1283.0 509.2 1285.0 508.9 1287.0 508.6 1289.0 508.3 1291.0 508.0 1293.0 507.8 1295.0 507.5 1297.0 507.3 1299.0 507.1 1301.0 506.9 1303.0 506.7 1305.0 506.5 1307.0 506.3 1309.0 506.2 1311.0 506.0 1313.0 505.8 1315.0 505.6 1317.0 505.5 1319.0 505.3 1321.0 505.1 1323.0 504.9 1325.0 504.8 1327.0 504.6 1329.0 504.4 1331.0 504.3 1333.0 504.1 1335.0 504.0 1337.0 503.8 1339.0 503.7 1341.0 503.5 1343.0 503.4 1345.0 503.2 1347.0 503.1" stroke="#a3e4b5"/>
</g>
<g clip-path="url(#clipb)" fill="none" stroke-linecap="round">
<path d="M833.4 443.6h0M837.6 443.8h0M841.8 444.0h0M845.9 444.4h0M850.0 444.7h0M854.2 445.2h0M858.3 445.6h0M862.5 446.3h0" stroke="#ff8000" stroke-width="13"/>
<path d="M866.6 447.4h0M870.8 448.5h0" stroke="#ff8000" stroke-width="12.5"/>
<path d="M937.2 358.3h0M941.3 359.3h0M945.5 361.3h0M949.6 365.0h0M953.8 369.9h0M957.9 375.5h0M1090.8 389.2h0M1094.9 389.0h0M1099.0 389.6h0M1103.2 390.7h0M1107.3 392.1h0M1111.5 393.2h0M1115.7 394.1h0M1119.8 395.0h0M1124.0 395.8h0M1128.1 396.7h0M874.9 449.4h0M879.1 449.9h0M1314.8 342.1h0M1319.0 345.1h0M1323.2 348.7h0M1327.3 352.5h0M1331.5 357.1h0M1335.6 361.3h0M1339.8 364.3h0M1343.9 366.8h0M1348.0 368.7h0" stroke="#ff8000" stroke-width="12"/>
<path d="M933.0 358.9h0M962.1 383.3h0M1082.5 391.0h0M1086.6 389.9h0M1132.2 397.8h0M883.2 449.9h0M1310.7 339.9h0" stroke="#ff8000" stroke-width="11.5"/>
<path d="M928.9 360.4h0M966.2 390.4h0M1074.2 393.4h0M1078.3 392.1h0M1136.4 398.9h0M887.4 449.6h0" stroke="#ff8000" stroke-width="11"/>
<path d="M924.8 362.3h0M1061.7 399.6h0M1065.8 397.6h0M1070.0 395.3h0M1140.5 400.0h0M891.5 449.0h0M1306.5 338.2h0" stroke="#ff8000" stroke-width="10.5"/>
<path d="M920.6 365.4h0M970.4 393.2h0M1041.0 401.5h0M1045.1 401.6h0M1049.2 401.6h0M1053.4 401.6h0M1057.5 401.1h0M1144.7 400.9h0M1148.8 401.7h0M1024.3 299.1h0M1028.5 298.4h0M1032.7 297.8h0M1036.8 297.3h0M1041.0 296.9h0M1045.1 296.6h0M1049.2 296.5h0M1053.4 296.8h0M1057.5 297.5h0M1061.7 298.5h0M1065.8 300.5h0M1070.0 302.8h0M895.7 448.1h0M953.8 437.1h0M1310.7 388.3h0M1314.8 388.0h0M1319.0 388.0h0M1323.2 388.0h0M1327.3 388.0h0M1331.5 388.0h0M1335.6 388.0h0M1339.8 388.0h0M1343.9 388.0h0M1348.0 388.0h0M1148.8 418.0h0M1153.0 418.1h0M1157.2 418.4h0M1161.3 418.8h0M1165.5 419.2h0M1169.6 420.0h0M1173.8 421.1h0M1177.9 422.2h0M1182.0 423.1h0M1186.2 423.6h0M1190.3 423.4h0M1302.4 337.0h0M1256.8 314.3h0M1260.9 313.5h0M1265.0 312.9h0M1269.2 312.6h0M1273.3 312.8h0M1277.5 313.4h0M1281.7 314.3h0M1285.8 315.4h0" stroke="#ff8000" stroke-width="10"/>
<path d="M916.4 369.2h0M974.5 393.4h0M978.7 392.7h0M1028.5 394.5h0M1032.7 397.5h0M1036.8 400.1h0M1153.0 402.4h0M1157.2 403.0h0M1020.2 300.2h0M1074.2 304.9h0M1078.3 307.0h0M949.6 448.6h0M957.9 428.3h0M1298.2 393.5h0M1302.4 391.4h0M1306.5 389.6h0M1194.5 422.7h0M1198.7 421.8h0M1202.8 420.8h0M1252.6 315.3h0M1290.0 316.8h0" stroke="#ff8000" stroke-width="9.5"/>
<path d="M982.8 391.9h0M987.0 390.6h0M991.1 389.1h0M995.3 388.1h0M999.4 387.4h0M1003.6 387.0h0M1007.8 386.7h0M1011.9 387.0h0M1016.0 388.2h0M1020.2 389.6h0M1024.3 391.6h0M1161.3 403.5h0M1165.5 404.1h0M1169.6 404.5h0M1016.0 301.6h0M1082.5 309.1h0M1148.8 379.3h0M1153.0 376.5h0M1157.2 374.3h0M1161.3 374.1h0M1165.5 374.7h0M1169.6 375.4h0M1173.8 375.9h0M1177.9 376.0h0M1182.0 376.0h0M1186.2 376.0h0M1190.3 376.0h0M1194.5 376.0h0M1198.7 376.0h0M1202.8 376.3h0M1207.0 377.0h0M1211.1 377.8h0M1215.2 378.5h0M1219.4 379.3h0M1223.5 380.3h0M1227.7 381.5h0M1231.8 383.2h0M1236.0 385.5h0M1240.2 388.1h0M1285.8 399.3h0M1290.0 397.3h0M1294.1 395.6h0M1215.2 381.0h0M1219.4 380.9h0M1223.5 381.4h0M1227.7 382.3h0M1231.8 383.4h0M1144.7 419.4h0M1207.0 420.2h0M1211.1 420.0h0M1343.9 410.3h0M1348.0 409.1h0M1244.3 318.6h0M1248.5 316.7h0" stroke="#ff8000" stroke-width="9"/>
<path d="M912.3 373.7h0M1173.8 404.8h0M1177.9 405.2h0M1011.9 303.4h0M945.5 461.6h0M962.1 421.8h0M1140.5 388.1h0M1144.7 383.1h0M1244.3 391.9h0M1277.5 403.5h0M1281.7 401.4h0M1207.0 385.7h0M1211.1 383.0h0M1236.0 385.6h0M1240.2 388.7h0M1215.2 420.6h0M1335.6 412.7h0M1339.8 411.6h0M1240.2 320.8h0M1294.1 318.9h0" stroke="#ff8000" stroke-width="8.5"/>
<path d="M1182.0 405.6h0M1186.2 406.2h0M1190.3 407.1h0M1194.5 408.3h0M1198.7 409.6h0M1202.8 410.8h0M1007.8 305.8h0M899.8 445.0h0M941.3 469.5h0M1094.9 322.0h0M1099.0 322.0h0M1103.2 322.0h0M1107.3 322.0h0M1111.5 322.0h0M1115.7 322.0h0M1119.8 322.0h0M1124.0 322.1h0M1128.1 322.3h0M1132.2 322.6h0M1136.4 323.1h0M1140.5 324.7h0M1144.7 327.8h0M1148.8 331.5h0M1153.0 335.2h0M1157.2 339.4h0M1161.3 343.8h0M1165.5 347.7h0M1169.6 351.2h0M1173.8 354.3h0M1177.9 357.0h0M1182.0 359.7h0M1186.2 361.2h0M1190.3 361.1h0M1194.5 360.6h0M1198.7 360.0h0M1202.8 358.2h0M1207.0 355.1h0M1211.1 351.7h0M1215.2 348.5h0M1219.4 344.9h0M1223.5 341.3h0M1227.7 338.3h0M1136.4 394.1h0M1248.5 396.2h0M1252.6 400.0h0M1256.8 403.2h0M1260.9 404.8h0M1265.0 405.8h0M1269.2 405.9h0M1273.3 405.1h0M1202.8 387.9h0M1244.3 392.1h0M1140.5 423.5h0M1323.2 416.2h0M1327.3 415.0h0M1331.5 413.9h0" stroke="#ff8000" stroke-width="8"/>
<path d="M908.1 379.8h0M1207.0 412.2h0M1211.1 413.6h0M1194.5 391.0h0M1198.7 389.5h0M1248.5 396.2h0M1219.4 421.6h0M1319.0 417.5h0" stroke="#ff8000" stroke-width="7.5"/>
<path d="M833.4 289.0h0M837.6 286.9h0M841.8 284.9h0M845.9 283.1h0M850.0 281.3h0M854.2 279.7h0M858.3 278.1h0M862.5 276.4h0M866.6 274.7h0M870.8 273.3h0M874.9 272.2h0M879.1 271.7h0M883.2 271.7h0M887.4 271.7h0M891.5 271.7h0M895.7 272.0h0M1215.2 415.1h0M1219.4 416.9h0M1223.5 419.0h0M1227.7 420.9h0M1231.8 422.3h0M937.2 480.4h0M966.2 417.1h0M1231.8 335.7h0M1094.9 336.8h0M1099.0 338.2h0M1103.2 339.6h0M1107.3 340.8h0M1111.5 341.8h0M1115.7 342.7h0M1119.8 343.6h0M1124.0 344.6h0M1128.1 345.8h0M1132.2 347.4h0M1136.4 349.3h0M1140.5 351.6h0M1144.7 354.3h0M1148.8 358.0h0M1153.0 361.9h0M1157.2 364.8h0M1161.3 367.0h0M1165.5 368.7h0M1169.6 370.1h0M1173.8 371.1h0M1177.9 372.0h0M1182.0 372.6h0M1186.2 372.7h0M1190.3 372.5h0M1194.5 372.1h0M1198.7 371.6h0M1202.8 370.3h0M1207.0 368.1h0M1211.1 365.4h0M1215.2 362.8h0M1219.4 359.8h0M1223.5 356.4h0M1227.7 352.7h0M1161.3 376.3h0M1165.5 380.4h0M1169.6 384.0h0M1173.8 386.9h0M1177.9 389.2h0M1182.0 391.2h0M1186.2 392.4h0M1190.3 392.1h0M1252.6 400.5h0M1136.4 427.1h0M1223.5 422.7h0M1314.8 418.8h0M1265.0 430.6h0M1269.2 430.6h0" stroke="#ff8000" stroke-width="7"/>
<path d="M899.8 273.7h0M1236.0 423.5h0M1240.2 424.5h0M1256.8 403.3h0M1227.7 423.8h0M1306.5 420.9h0M1310.7 420.0h0M1260.9 430.7h0M1273.3 431.0h0" stroke="#ff8000" stroke-width="6.5"/>
<path d="M904.0 276.3h0M908.1 279.3h0M912.3 283.3h0M916.4 287.9h0M920.6 291.6h0M924.8 295.0h0M928.9 298.9h0M933.0 303.6h0M937.2 308.6h0M941.3 314.1h0M945.5 319.5h0M949.6 323.8h0M953.8 327.8h0M957.9 332.7h0M962.1 337.6h0M966.2 340.6h0M970.4 340.3h0M974.5 339.4h0M978.7 338.5h0M982.8 337.4h0M987.0 336.1h0M991.1 334.1h0M995.3 332.7h0M999.4 332.6h0M941.3 355.5h0M945.5 354.1h0M949.6 352.4h0M953.8 350.5h0M957.9 348.4h0M962.1 345.9h0M966.2 343.2h0M904.0 385.0h0M1244.3 425.0h0M1248.5 425.0h0M1252.6 425.0h0M908.1 420.2h0M920.6 526.1h0M924.8 520.2h0M928.9 506.7h0M933.0 498.2h0M1260.9 405.5h0M1132.2 430.9h0M1231.8 424.9h0M1236.0 424.8h0M1240.2 424.2h0M1244.3 423.2h0M1248.5 422.2h0M1252.6 421.4h0M1256.8 421.2h0M1260.9 421.2h0M1298.2 421.2h0M1302.4 421.2h0M1252.6 431.3h0M1256.8 430.9h0M1277.5 431.7h0M1281.7 432.2h0" stroke="#ff8000" stroke-width="6"/>
<path d="M933.0 357.6h0M937.2 356.6h0M904.0 425.3h0M912.3 417.8h0M1265.0 421.2h0M1269.2 421.2h0M1273.3 421.2h0M1285.8 421.2h0M1290.0 421.2h0M1294.1 421.2h0M1244.3 434.5h0M1248.5 432.6h0M1285.8 432.7h0M1290.0 433.2h0" stroke="#ff8000" stroke-width="5.5"/>
<path d="M833.4 386.4h0M837.6 382.1h0M841.8 378.2h0M845.9 374.3h0M850.0 370.6h0M854.2 367.1h0M858.3 364.2h0M862.5 361.5h0M866.6 359.2h0M870.8 357.8h0M874.9 356.9h0M879.1 356.1h0M883.2 355.6h0M887.4 355.4h0M891.5 355.4h0M895.7 355.5h0M899.8 355.6h0M904.0 355.8h0M908.1 356.3h0M912.3 356.8h0M916.4 357.3h0M920.6 357.8h0M924.8 358.2h0M928.9 358.2h0M899.8 388.2h0M862.5 413.4h0M866.6 417.3h0M870.8 422.0h0M874.9 428.2h0M879.1 431.9h0M883.2 434.4h0M887.4 435.6h0M891.5 436.3h0M895.7 434.7h0M899.8 431.0h0M916.4 416.9h0M920.6 416.6h0M924.8 437.1h0M928.9 436.0h0M933.0 435.0h0M937.2 434.0h0M941.3 433.1h0M1277.5 421.2h0M1281.7 421.2h0M1240.2 436.9h0M1294.1 433.7h0" stroke="#ff8000" stroke-width="5"/>
<path d="M895.7 389.2h0M920.6 438.3h0" stroke="#ff8000" stroke-width="4.5"/>
<path d="M883.2 390.6h0M887.4 390.3h0M891.5 389.8h0M904.0 442.8h0M908.1 441.8h0M912.3 440.7h0M916.4 439.6h0M1045.1 438.6h0M1049.2 438.6h0M1053.4 438.6h0M1057.5 438.6h0" stroke="#ff8000" stroke-width="4"/>
<path d="M1165.5 230.7h0" stroke="#00c040" stroke-width="20"/>
<path d="M1161.3 239.0h0" stroke="#00c040" stroke-width="19.5"/>
<path d="M1169.6 223.4h0" stroke="#00c040" stroke-width="19"/>
<path d="M1157.2 248.1h0M1173.8 217.0h0" stroke="#00c040" stroke-width="18.5"/>
<path d="M1153.0 254.8h0M833.4 473.2h0M837.6 473.2h0M841.8 473.2h0M845.9 473.2h0M850.0 473.2h0M854.2 473.2h0M858.3 473.2h0M862.5 473.4h0" stroke="#00c040" stroke-width="18"/>
<path d="M833.4 334.4h0M866.6 473.7h0M870.8 474.1h0M874.9 474.6h0M879.1 475.0h0" stroke="#00c040" stroke-width="17.5"/>
<path d="M1148.8 259.6h0M1177.9 211.8h0M1269.2 379.6h0M833.4 167.9h0M837.6 171.6h0M883.2 475.4h0M887.4 475.5h0" stroke="#00c040" stroke-width="17"/>
<path d="M1144.7 263.2h0M1265.0 379.1h0M1273.3 378.1h0M841.8 176.6h0M837.6 337.8h0" stroke="#00c040" stroke-width="16.5"/>
<path d="M920.6 376.6h0M924.8 362.5h0M928.9 350.4h0M933.0 336.7h0M1198.7 163.6h0M1202.8 158.7h0M1207.0 153.7h0M1211.1 149.0h0M1140.5 265.5h0M1260.9 376.6h0M1277.5 375.3h0M845.9 182.5h0M841.8 341.9h0" stroke="#00c040" stroke-width="16"/>
<path d="M937.2 321.5h0M1194.5 168.3h0M1215.2 144.8h0M1219.4 141.0h0M1132.2 268.4h0M1136.4 267.1h0M1182.0 207.4h0M1281.7 370.8h0M850.0 189.7h0M891.5 471.5h0" stroke="#00c040" stroke-width="15.5"/>
<path d="M916.4 387.1h0M941.3 305.0h0M945.5 290.5h0M1223.5 137.6h0M1124.0 271.7h0M1128.1 269.8h0M1256.8 372.8h0M854.2 197.7h0M845.9 346.6h0" stroke="#00c040" stroke-width="15"/>
<path d="M924.8 59.6h0M928.9 72.5h0M933.0 85.7h0M937.2 99.1h0M941.3 112.8h0M945.5 126.6h0M949.6 140.5h0M953.8 154.2h0M957.9 168.4h0M962.1 184.9h0M974.5 205.3h0M1190.3 173.1h0M1227.7 134.6h0M1119.8 274.0h0M858.3 206.3h0M862.5 215.7h0" stroke="#00c040" stroke-width="14.5"/>
<path d="M966.2 199.3h0M912.3 396.6h0M949.6 277.2h0M953.8 260.1h0M957.9 242.5h0M962.1 225.8h0M978.7 204.3h0M1231.8 131.9h0M1236.0 129.6h0M1115.7 276.8h0M1186.2 204.0h0M1252.6 367.7h0M1285.8 363.0h0M866.6 224.8h0M870.8 234.0h0M874.9 242.2h0M879.1 248.2h0M883.2 253.2h0M887.4 255.6h0M891.5 255.8h0M895.7 255.9h0M899.8 256.0h0M957.9 271.1h0M962.1 271.8h0M966.2 272.7h0M850.0 352.2h0" stroke="#00c040" stroke-width="14"/>
<path d="M966.2 213.1h0M982.8 203.2h0M1240.2 127.3h0M1244.3 125.2h0M1248.5 123.4h0M1111.5 280.4h0M1290.0 357.6h0M904.0 256.2h0M970.4 273.4h0M895.7 464.7h0" stroke="#00c040" stroke-width="13.5"/>
<path d="M987.0 202.0h0M1186.2 177.2h0M1252.6 121.9h0M1256.8 120.9h0M1260.9 120.1h0M1265.0 119.4h0M1269.2 119.1h0M1273.3 119.3h0M1277.5 119.9h0M1281.7 120.8h0M1285.8 121.9h0M1290.0 123.4h0M1294.1 125.9h0M1298.2 129.3h0M1302.4 133.2h0M1306.5 137.4h0M1310.7 141.5h0M1124.0 214.7h0M1128.1 214.8h0M1132.2 214.5h0M1136.4 214.1h0M1140.5 213.5h0M1144.7 213.0h0M1148.8 212.4h0M1153.0 211.9h0M1248.5 362.2h0M1294.1 351.5h0M908.1 256.6h0M953.8 271.6h0M854.2 358.5h0M866.6 386.9h0M870.8 396.0h0M874.9 402.9h0M879.1 407.0h0M883.2 409.7h0M887.4 411.1h0" stroke="#00c040" stroke-width="13"/>
<path d="M970.4 207.2h0M991.1 200.7h0M1177.9 177.9h0M1182.0 177.6h0M1314.8 146.2h0M1319.0 151.4h0M1111.5 209.6h0M1115.7 211.8h0M1119.8 213.6h0M1157.2 211.3h0M1161.3 210.6h0M1165.5 209.9h0M1107.3 284.9h0M1244.3 354.9h0M912.3 257.2h0M916.4 258.0h0M891.5 412.1h0" stroke="#00c040" stroke-width="12.5"/>
<path d="M970.4 208.1h0M995.3 199.6h0M1082.5 187.9h0M1086.6 187.6h0M1090.8 187.0h0M1094.9 186.2h0M1099.0 185.4h0M1103.2 184.6h0M1107.3 183.8h0M1111.5 183.0h0M1115.7 182.4h0M1119.8 181.9h0M1124.0 181.5h0M1128.1 181.0h0M1132.2 180.6h0M1136.4 180.2h0M1140.5 179.8h0M1144.7 179.5h0M1148.8 179.2h0M1153.0 179.0h0M1157.2 178.8h0M1161.3 178.6h0M1165.5 178.5h0M1169.6 178.3h0M1173.8 178.1h0M1323.2 157.0h0M1327.3 162.9h0M1331.5 169.7h0M1335.6 176.6h0M1339.8 183.0h0M1343.9 189.1h0M1348.0 194.9h0M1103.2 205.7h0M1107.3 207.5h0M1169.6 209.1h0M1173.8 208.2h0M1103.2 289.2h0M1298.2 343.0h0M1302.4 334.6h0M920.6 258.9h0M974.5 274.3h0M858.3 366.3h0M862.5 376.2h0M895.7 412.8h0M899.8 413.0h0M899.8 458.0h0" stroke="#00c040" stroke-width="12"/>
<path d="M999.4 198.7h0M1078.3 188.2h0M1099.0 204.0h0M1177.9 207.2h0M1240.2 345.9h0M924.8 259.9h0M904.0 412.2h0" stroke="#00c040" stroke-width="11.5"/>
<path d="M908.1 405.3h0M1003.6 197.9h0M1007.8 197.1h0M1070.0 188.5h0M1074.2 188.4h0M1094.9 202.3h0M1182.0 206.0h0M1099.0 293.2h0M1306.5 318.2h0M928.9 260.7h0M933.0 261.4h0M949.6 274.6h0M908.1 410.8h0M912.3 408.3h0" stroke="#00c040" stroke-width="11"/>
<path d="M1011.9 196.3h0M1065.8 188.7h0M1086.6 199.0h0M1090.8 200.7h0M1186.2 204.7h0M1236.0 331.2h0M937.2 262.0h0M941.3 262.5h0M978.7 277.0h0M916.4 403.4h0" stroke="#00c040" stroke-width="10.5"/>
<path d="M1016.0 195.5h0M1020.2 194.6h0M1057.5 189.1h0M1061.7 188.9h0M1082.5 197.4h0M1094.9 297.3h0M1223.5 292.9h0M1310.7 303.7h0M945.5 263.1h0M920.6 399.7h0" stroke="#00c040" stroke-width="10"/>
<path d="M1024.3 193.7h0M1028.5 192.8h0M1045.1 190.2h0M1049.2 189.8h0M1053.4 189.4h0M1078.3 195.8h0M1090.8 301.9h0M1215.2 272.4h0M1219.4 282.6h0M1227.7 304.7h0M1231.8 316.5h0M1314.8 288.3h0M949.6 263.6h0M945.5 276.5h0M924.8 397.6h0" stroke="#00c040" stroke-width="9.5"/>
<path d="M904.0 409.3h0M1032.7 192.0h0M1036.8 191.3h0M1041.0 190.7h0M1074.2 194.1h0M1207.0 251.6h0M1211.1 262.0h0M1319.0 282.4h0M1323.2 270.6h0M1327.3 259.2h0M1331.5 251.3h0M1335.6 239.3h0M1339.8 227.9h0M1343.9 221.3h0M1348.0 213.9h0M982.8 281.1h0M928.9 396.2h0M933.0 395.6h0M904.0 449.6h0" stroke="#00c040" stroke-width="9"/>
<path d="M1070.0 192.5h0M1086.6 306.9h0M1198.7 231.1h0M1202.8 241.3h0M987.0 285.6h0M937.2 395.2h0" stroke="#00c040" stroke-width="8.5"/>
<path d="M1190.3 211.1h0M1194.5 221.1h0M941.3 277.9h0M991.1 290.8h0M1036.8 364.3h0M1041.0 366.1h0M1045.1 367.2h0M1049.2 368.0h0M1053.4 367.9h0M941.3 395.0h0" stroke="#00c040" stroke-width="8"/>
<path d="M995.3 296.8h0M1032.7 361.3h0M1057.5 366.1h0M1061.7 363.1h0M945.5 395.1h0M949.6 395.9h0" stroke="#00c040" stroke-width="7.5"/>
<path d="M937.2 278.9h0M1024.3 353.4h0M1028.5 357.6h0M1065.8 359.7h0M953.8 396.9h0" stroke="#00c040" stroke-width="7"/>
<path d="M999.4 301.8h0M1020.2 347.9h0M1070.0 355.4h0M957.9 398.0h0" stroke="#00c040" stroke-width="6.5"/>
<path d="M833.4 294.2h0M837.6 292.0h0M841.8 289.8h0M845.9 287.7h0M850.0 285.8h0M854.2 284.0h0M858.3 282.2h0M862.5 280.3h0M866.6 278.4h0M870.8 276.8h0M874.9 275.6h0M879.1 275.0h0M883.2 275.0h0M887.4 275.2h0M891.5 275.4h0M895.7 275.6h0M899.8 275.9h0M904.0 276.2h0M908.1 276.5h0M912.3 276.9h0M916.4 277.4h0M920.6 278.0h0M924.8 278.5h0M928.9 278.9h0M933.0 279.1h0M1003.6 305.9h0M1007.8 336.0h0M1011.9 339.0h0M1016.0 342.7h0M1074.2 350.0h0M1078.3 344.5h0M1082.5 338.8h0M1086.6 332.9h0M962.1 398.6h0M1049.2 471.3h0M1053.4 472.6h0M1057.5 473.9h0M1061.7 474.3h0M1082.5 411.2h0M1086.6 409.3h0M1090.8 407.1h0M1094.9 405.4h0M1099.0 404.7h0M1103.2 404.3h0M1107.3 404.1h0M1111.5 404.0h0" stroke="#00c040" stroke-width="6"/>
<path d="M1003.6 333.5h0M1090.8 326.6h0M1041.0 468.4h0M1045.1 469.9h0M1065.8 472.9h0M1074.2 414.4h0M1078.3 412.8h0M1115.7 404.2h0M1119.8 404.6h0M1124.0 405.2h0" stroke="#00c040" stroke-width="5.5"/>
<path d="M1094.9 321.2h0M1099.0 318.3h0M833.4 405.4h0M837.6 407.1h0M841.8 408.6h0M845.9 409.9h0M850.0 410.9h0M854.2 412.0h0M858.3 413.5h0M957.9 416.4h0M962.1 416.6h0M966.2 416.2h0M970.4 415.6h0M974.5 415.6h0M978.7 416.3h0M982.8 417.4h0M987.0 418.3h0M991.1 419.1h0M995.3 419.9h0M999.4 420.4h0M1003.6 420.8h0M1007.8 421.2h0M1011.9 421.6h0M1016.0 422.1h0M1024.3 460.9h0M1028.5 463.1h0M1032.7 465.1h0M1036.8 466.8h0M1070.0 471.0h0M1057.5 462.4h0M1061.7 459.1h0M1061.7 419.3h0M1065.8 417.6h0M1070.0 416.0h0M1128.1 406.0h0M1136.4 394.3h0M1140.5 390.1h0M1144.7 386.3h0M1148.8 382.9h0M1124.0 433.0h0M1003.6 307.0h0M1082.5 308.3h0M1086.6 308.8h0" stroke="#00c040" stroke-width="5"/>
<path d="M862.5 415.7h0M1074.2 469.5h0M1078.3 468.2h0M1119.8 432.3h0M1128.1 432.7h0" stroke="#00c040" stroke-width="4.5"/>
<path d="M866.6 418.8h0M870.8 424.5h0M874.9 432.0h0M879.1 434.0h0M883.2 435.2h0M887.4 436.0h0M891.5 436.3h0M895.7 434.9h0M895.7 520.6h0M899.8 525.7h0M904.0 530.0h0M908.1 534.2h0M1082.5 467.3h0M1086.6 466.7h0M1090.8 466.4h0M1107.3 428.5h0M1111.5 430.0h0M1115.7 431.2h0M912.3 437.9h0M916.4 436.5h0" stroke="#00c040" stroke-width="4"/>
</g>
<clipPath id="clipc"><rect x="117.2" y="694.8" width="517.2" height="518.0"/></clipPath>
<g clip-path="url(#clipc)" fill="none" stroke-linecap="round">
<path d="M444.1 908.0h0M448.2 901.5h0M452.4 892.7h0M456.5 884.0h0" stroke="#ff0000" stroke-width="17"/>
<path d="M439.9 913.1h0" stroke="#ff0000" stroke-width="16.5"/>
<path d="M120.4 816.2h0M124.5 820.0h0M128.7 824.8h0M132.8 831.5h0M431.6 918.1h0M435.8 916.6h0M460.7 875.9h0" stroke="#ff0000" stroke-width="16"/>
<path d="M120.4 967.3h0M419.2 920.5h0M423.3 919.9h0M427.4 919.1h0M464.8 868.3h0M498.0 802.1h0M502.2 798.3h0M506.3 794.5h0M510.5 791.2h0M514.6 788.6h0M518.8 786.2h0M522.9 783.4h0M527.1 780.2h0M531.2 777.4h0M535.4 775.1h0M539.5 773.2h0M543.7 771.6h0M547.8 770.2h0M552.0 768.9h0M556.1 768.3h0M560.2 768.5h0M564.4 769.2h0M568.6 770.4h0M572.7 771.7h0M576.9 773.3h0M581.0 775.8h0M585.2 778.6h0M589.3 781.6h0M593.5 785.1h0M597.6 789.2h0M601.8 794.1h0M605.9 799.4h0M610.1 804.7h0M614.2 810.1h0M618.4 815.6h0M622.5 821.4h0M626.7 827.0h0M630.8 832.5h0M635.0 837.9h0M630.8 874.7h0M635.0 864.2h0" stroke="#ff0000" stroke-width="15.5"/>
<path d="M136.9 841.4h0M141.1 852.2h0M124.5 965.7h0M257.3 924.5h0M410.9 921.9h0M415.0 921.1h0M493.9 805.6h0M622.5 894.0h0M626.7 884.7h0" stroke="#ff0000" stroke-width="15"/>
<path d="M145.2 861.8h0M128.7 963.8h0M249.0 926.0h0M253.2 924.8h0M261.4 925.2h0M278.1 940.5h0M406.7 922.5h0M485.6 813.2h0M489.7 809.1h0M614.2 913.5h0M618.4 903.5h0" stroke="#ff0000" stroke-width="14.5"/>
<path d="M132.8 961.6h0M244.9 927.6h0M265.6 926.4h0M282.2 949.8h0M402.6 923.3h0M469.0 862.6h0M460.7 868.7h0M481.4 816.9h0M610.1 923.1h0" stroke="#ff0000" stroke-width="14"/>
<path d="M149.4 870.3h0M136.9 959.0h0M269.8 928.8h0M286.4 956.1h0M398.4 925.4h0M456.5 873.0h0M464.8 863.1h0M601.8 941.6h0M605.9 932.2h0" stroke="#ff0000" stroke-width="13.5"/>
<path d="M240.7 930.0h0M273.9 933.4h0M290.5 961.7h0M294.7 967.8h0M298.8 974.4h0M452.4 877.1h0M477.2 819.7h0" stroke="#ff0000" stroke-width="13"/>
<path d="M141.1 956.2h0M236.6 932.8h0M394.2 929.3h0M473.1 858.1h0M469.0 858.6h0" stroke="#ff0000" stroke-width="12.5"/>
<path d="M153.6 877.1h0M145.2 953.3h0M448.2 882.7h0M136.9 1012.5h0M141.1 1018.3h0M145.2 1024.6h0M149.4 1031.9h0M153.6 1042.9h0M157.7 1052.8h0M161.9 1058.7h0M166.0 1063.2h0M170.2 1065.4h0" stroke="#ff0000" stroke-width="12"/>
<path d="M232.4 934.4h0M132.8 1007.2h0M174.3 1066.0h0M178.5 1066.4h0" stroke="#ff0000" stroke-width="11.5"/>
<path d="M149.4 950.4h0M228.2 935.6h0M444.1 887.2h0M473.1 855.3h0M128.7 1002.6h0M182.6 1066.6h0M186.8 1066.7h0" stroke="#ff0000" stroke-width="11"/>
<path d="M153.6 947.7h0M224.1 936.6h0M498.0 900.3h0M120.4 995.2h0M124.5 998.7h0" stroke="#ff0000" stroke-width="10.5"/>
<path d="M157.7 881.3h0M157.7 945.9h0M220.0 937.5h0M439.9 890.2h0M493.9 891.7h0M190.9 1065.9h0" stroke="#ff0000" stroke-width="10"/>
<path d="M161.9 944.7h0M166.0 943.7h0M207.5 939.6h0M211.7 939.0h0M215.8 938.3h0M481.4 868.8h0M485.6 877.0h0M489.7 883.7h0" stroke="#ff0000" stroke-width="9.5"/>
<path d="M170.2 943.0h0M174.3 942.4h0M178.5 942.0h0M182.6 941.6h0M186.8 941.3h0M190.9 941.1h0M195.1 940.8h0M199.2 940.5h0M203.4 940.2h0M423.3 894.9h0M427.4 894.3h0M431.6 893.5h0M435.8 892.3h0M195.1 1064.3h0" stroke="#ff0000" stroke-width="9"/>
<path d="M402.6 903.3h0M406.7 900.6h0M410.9 897.9h0M415.0 896.4h0M419.2 895.5h0M473.1 853.6h0M477.2 856.3h0" stroke="#ff0000" stroke-width="8.5"/>
<path d="M161.9 883.9h0M398.4 905.3h0M199.2 1062.8h0" stroke="#ff0000" stroke-width="8"/>
<path d="M166.0 884.4h0M203.4 1061.4h0M207.5 1059.9h0" stroke="#ff0000" stroke-width="7.5"/>
<path d="M157.7 894.0h0M161.9 895.4h0M166.0 896.6h0M170.2 897.8h0M174.3 898.9h0M178.5 899.8h0M182.6 900.6h0M186.8 901.3h0M190.9 902.1h0M195.1 903.0h0M199.2 904.0h0M203.4 905.0h0M207.5 906.2h0M211.7 907.5h0M215.8 909.0h0M220.0 910.8h0M224.1 913.0h0M228.2 915.6h0M232.4 918.5h0M211.7 1059.0h0M215.8 1058.7h0M220.0 1058.5h0M224.1 1058.7h0M228.2 1060.0h0M232.4 1061.3h0M236.6 1062.4h0M240.7 1063.5h0M244.9 1064.3h0M249.0 1064.9h0" stroke="#ff0000" stroke-width="7"/>
<path d="M170.2 884.7h0" stroke="#ff0000" stroke-width="6.5"/>
<path d="M174.3 885.0h0M178.5 885.3h0M182.6 885.7h0M186.8 886.0h0M190.9 886.4h0M195.1 887.0h0M199.2 887.7h0M203.4 888.8h0M207.5 890.2h0M211.7 891.7h0M215.8 893.0h0M220.0 894.2h0M224.1 895.6h0M228.2 896.9h0M232.4 897.8h0M236.6 897.9h0M244.9 904.5h0M249.0 904.5h0M253.2 904.6h0M257.3 904.9h0M261.4 905.9h0M265.6 907.8h0M269.8 910.3h0M307.1 1017.1h0M311.2 1017.1h0M356.9 1019.3h0M361.1 1018.3h0" stroke="#ff0000" stroke-width="6"/>
<path d="M215.8 993.4h0" stroke="#0000ff" stroke-width="18"/>
<path d="M220.0 979.7h0" stroke="#0000ff" stroke-width="17.5"/>
<path d="M211.7 1006.2h0M224.1 965.3h0" stroke="#0000ff" stroke-width="17"/>
<path d="M228.2 950.0h0" stroke="#0000ff" stroke-width="16.5"/>
<path d="M232.4 933.6h0" stroke="#0000ff" stroke-width="16"/>
<path d="M207.5 1020.8h0M236.6 917.0h0M240.7 901.0h0M415.0 823.8h0M419.2 823.4h0M423.3 823.0h0M427.4 822.6h0M431.6 822.2h0M435.8 821.9h0M552.0 1025.8h0M556.1 1028.0h0M560.2 1025.3h0M120.4 1118.5h0M124.5 1118.5h0M128.7 1118.5h0M132.8 1118.5h0M136.9 1118.5h0M141.1 1118.5h0M145.2 1118.5h0M149.4 1118.5h0M153.6 1118.6h0" stroke="#0000ff" stroke-width="15"/>
<path d="M207.5 689.0h0M211.7 701.6h0M215.8 714.4h0M220.0 727.2h0M224.1 740.2h0M228.2 753.2h0M232.4 766.4h0M236.6 780.0h0M240.7 794.3h0M244.9 809.1h0M249.0 824.0h0M244.9 884.6h0M410.9 824.0h0M439.9 821.7h0M444.1 821.4h0M448.2 821.2h0M543.7 1016.4h0M547.8 1021.6h0M564.4 1021.0h0M568.6 1015.5h0M157.7 1118.8h0M161.9 1119.1h0" stroke="#0000ff" stroke-width="14.5"/>
<path d="M253.2 839.0h0M249.0 870.1h0M452.4 820.9h0M456.5 820.7h0M539.5 1010.5h0M572.7 1009.5h0M166.0 1119.4h0M170.2 1119.5h0" stroke="#0000ff" stroke-width="14"/>
<path d="M253.2 859.4h0M406.7 824.2h0M460.7 820.4h0M464.8 820.0h0M473.1 819.0h0M535.4 1003.9h0" stroke="#0000ff" stroke-width="13.5"/>
<path d="M469.0 819.6h0M498.0 798.6h0M502.2 794.8h0M506.3 791.0h0M510.5 787.7h0M514.6 785.1h0M518.8 782.7h0M522.9 779.9h0M527.1 776.7h0M531.2 773.9h0M535.4 771.6h0M539.5 769.7h0M543.7 768.1h0M547.8 766.7h0M552.0 765.4h0M556.1 764.8h0M560.2 765.0h0M564.4 765.7h0M568.6 766.9h0M572.7 768.2h0M576.9 769.8h0M581.0 772.3h0M585.2 775.1h0M589.3 778.1h0M593.5 781.6h0M597.6 785.7h0M601.8 790.6h0M605.9 795.9h0M610.1 801.2h0M614.2 806.6h0M618.4 812.1h0M622.5 817.9h0M626.7 823.5h0M630.8 829.0h0M635.0 834.4h0M265.6 850.3h0M269.8 848.9h0M273.9 847.7h0M278.1 846.5h0M282.2 845.4h0M286.4 844.4h0M390.1 845.7h0M394.2 847.6h0M398.4 849.9h0M402.6 852.2h0M406.7 854.5h0M410.9 857.0h0M415.0 857.5h0M576.9 1003.4h0M174.3 1118.8h0" stroke="#0000ff" stroke-width="13"/>
<path d="M257.3 848.5h0M402.6 824.4h0M489.7 805.6h0M493.9 802.1h0M261.4 851.9h0M290.5 843.5h0M294.7 842.6h0M377.7 840.3h0M381.8 841.9h0M385.9 843.8h0M419.2 857.1h0M423.3 856.6h0M427.4 855.9h0M531.2 996.9h0M581.0 997.4h0M630.8 873.7h0M635.0 863.2h0" stroke="#0000ff" stroke-width="12.5"/>
<path d="M257.3 851.5h0M315.4 1000.7h0M319.6 1005.5h0M323.7 1009.2h0M327.9 1011.2h0M332.0 1012.6h0M336.2 1013.1h0M340.3 1012.4h0M344.5 1010.8h0M348.6 1008.6h0M390.1 934.5h0M261.4 842.1h0M265.6 839.2h0M398.4 824.6h0M485.6 809.7h0M298.8 841.7h0M303.0 840.9h0M307.1 840.2h0M311.2 839.4h0M315.4 838.7h0M319.6 838.1h0M323.7 837.6h0M327.9 837.2h0M332.0 836.9h0M336.2 836.6h0M340.3 836.5h0M344.5 836.6h0M348.6 837.0h0M352.8 837.3h0M356.9 837.6h0M361.1 837.8h0M365.2 838.1h0M369.4 838.4h0M373.5 839.1h0M431.6 855.3h0M435.8 854.8h0M439.9 854.2h0M444.1 853.7h0M448.2 853.2h0M452.4 852.8h0M456.5 852.3h0M460.7 851.9h0M464.8 851.5h0M527.1 986.5h0M585.2 986.8h0M622.5 893.0h0M626.7 883.7h0M178.5 1117.3h0" stroke="#0000ff" stroke-width="12"/>
<path d="M278.1 940.5h0M307.1 988.1h0M311.2 995.0h0M352.8 1004.6h0M385.9 943.2h0M269.8 837.6h0M394.2 824.8h0M481.4 813.4h0M522.9 976.9h0M589.3 979.6h0M614.2 912.5h0M618.4 902.5h0" stroke="#0000ff" stroke-width="11.5"/>
<path d="M282.2 949.8h0M303.0 981.1h0M356.9 999.6h0M361.1 993.7h0M365.2 986.8h0M369.4 979.8h0M373.5 972.9h0M377.7 964.4h0M381.8 953.5h0M273.9 836.4h0M390.1 825.1h0M469.0 851.7h0M518.8 965.3h0M593.5 969.8h0M610.1 922.1h0" stroke="#0000ff" stroke-width="11"/>
<path d="M203.4 1030.9h0M286.4 956.1h0M278.1 835.4h0M385.9 825.3h0M477.2 816.2h0M597.6 956.7h0M601.8 940.6h0M605.9 931.2h0" stroke="#0000ff" stroke-width="10.5"/>
<path d="M290.5 961.7h0M294.7 967.8h0M298.8 974.4h0M282.2 834.4h0M286.4 833.4h0M377.7 825.8h0M381.8 825.6h0M182.6 1113.0h0" stroke="#0000ff" stroke-width="10"/>
<path d="M290.5 832.4h0M294.7 831.5h0M373.5 826.0h0M514.6 952.2h0" stroke="#0000ff" stroke-width="9.5"/>
<path d="M298.8 830.7h0M303.0 830.0h0M365.2 826.2h0M369.4 826.1h0" stroke="#0000ff" stroke-width="9"/>
<path d="M307.1 829.4h0M311.2 828.9h0M315.4 828.3h0M356.9 826.4h0M361.1 826.3h0M506.3 932.0h0M510.5 942.0h0" stroke="#0000ff" stroke-width="8.5"/>
<path d="M319.6 827.9h0M323.7 827.6h0M327.9 827.3h0M332.0 827.1h0M336.2 826.9h0M340.3 826.8h0M344.5 826.7h0M348.6 826.5h0M352.8 826.4h0" stroke="#0000ff" stroke-width="8"/>
<path d="M498.0 900.3h0M502.2 912.6h0" stroke="#0000ff" stroke-width="7.5"/>
<path d="M199.2 1036.2h0M493.9 891.7h0M315.4 1019.5h0M319.6 1022.0h0M323.7 1024.2h0M327.9 1026.0h0M332.0 1027.2h0M336.2 1027.7h0M340.3 1027.0h0M344.5 1025.6h0" stroke="#0000ff" stroke-width="7"/>
<path d="M481.4 868.8h0M485.6 877.0h0M489.7 883.7h0M348.6 1023.7h0" stroke="#0000ff" stroke-width="6.5"/>
<path d="M352.8 1021.4h0" stroke="#0000ff" stroke-width="6"/>
<path d="M473.1 853.6h0M477.2 856.3h0" stroke="#0000ff" stroke-width="5.5"/>
<path d="M132.8 1107.5h0M136.9 1107.5h0M141.1 1107.5h0M145.2 1107.5h0M149.4 1107.5h0M153.6 1107.6h0M157.7 1107.7h0M161.9 1108.0h0M166.0 1108.2h0M170.2 1108.4h0M174.3 1108.5h0M178.5 1107.8h0M473.1 860.1h0M477.2 866.1h0M481.4 874.7h0M485.6 884.1h0M489.7 894.2h0M493.9 904.7h0M498.0 913.6h0M502.2 923.2h0" stroke="#0000ff" stroke-width="5"/>
<path d="M311.2 987.1h0M315.4 987.3h0M319.6 987.5h0M323.7 987.6h0M327.9 987.8h0M332.0 987.9h0M336.2 988.0h0M340.3 988.2h0M344.5 988.3h0M348.6 988.4h0M352.8 988.6h0M356.9 988.9h0M539.5 1000.8h0M543.7 1000.9h0M547.8 1001.0h0M552.0 1001.0h0M556.1 1001.0h0M560.2 1001.0h0M564.4 1000.9h0M568.6 1000.9h0M626.7 852.9h0M630.8 851.7h0M498.0 951.6h0M502.2 952.6h0" stroke="#0000ff" stroke-width="4"/>
<path d="M473.1 1152.0h0M477.2 1152.1h0M481.4 1152.4h0M485.6 1152.7h0M489.7 1153.1h0M493.9 1153.6h0M498.0 1154.3h0M502.2 1155.1h0M506.3 1155.7h0M510.5 1156.4h0M514.6 1157.0h0M518.8 1157.5h0M522.9 1158.0h0M527.1 1158.4h0M531.2 1158.8h0M535.4 1159.0h0M539.5 1159.2h0M543.7 1159.1h0M547.8 1158.9h0M552.0 1158.5h0M556.1 1158.2h0M560.2 1157.8h0M564.4 1157.3h0M568.6 1156.8h0M572.7 1156.1h0M576.9 1155.3h0M257.3 1144.6h0M261.4 1145.5h0M265.6 1147.0h0M269.8 1149.0h0" stroke="#a400a6" stroke-width="24"/>
<path d="M469.0 1152.0h0M581.0 1153.9h0M253.2 1144.6h0" stroke="#a400a6" stroke-width="23.5"/>
<path d="M464.8 1152.0h0M585.2 1152.3h0M249.0 1145.3h0M273.9 1152.7h0" stroke="#a400a6" stroke-width="23"/>
<path d="M460.7 1152.0h0M589.3 1150.7h0M244.9 1146.4h0M278.1 1157.8h0" stroke="#a400a6" stroke-width="22.5"/>
<path d="M456.5 1152.0h0M593.5 1149.7h0M597.6 1148.9h0M601.8 1148.2h0M605.9 1147.6h0M610.1 1147.0h0M240.7 1147.8h0M282.2 1163.0h0" stroke="#a400a6" stroke-width="22"/>
<path d="M452.4 1152.3h0M614.2 1146.5h0M236.6 1149.4h0" stroke="#a400a6" stroke-width="21.5"/>
<path d="M618.4 1146.0h0M232.4 1151.8h0M286.4 1168.3h0" stroke="#a400a6" stroke-width="21"/>
<path d="M448.2 1153.4h0M622.5 1145.4h0M228.2 1154.4h0" stroke="#a400a6" stroke-width="20.5"/>
<path d="M415.0 1149.7h0M419.2 1149.8h0M423.3 1149.9h0M427.4 1150.1h0M626.7 1144.9h0M630.8 1144.4h0M635.0 1143.9h0" stroke="#a400a6" stroke-width="20"/>
<path d="M410.9 1149.8h0M444.1 1154.6h0M224.1 1156.8h0M290.5 1174.0h0" stroke="#a400a6" stroke-width="19.5"/>
<path d="M406.7 1150.4h0M431.6 1152.2h0M220.0 1159.0h0" stroke="#a400a6" stroke-width="19"/>
<path d="M402.6 1151.6h0M435.8 1154.8h0M439.9 1155.4h0" stroke="#a400a6" stroke-width="18.5"/>
<path d="M215.8 1161.5h0M294.7 1179.6h0" stroke="#a400a6" stroke-width="18"/>
<path d="M398.4 1153.3h0" stroke="#a400a6" stroke-width="17.5"/>
<path d="M303.0 1069.7h0M307.1 1068.3h0M311.2 1067.0h0M315.4 1065.9h0M319.6 1065.1h0M323.7 1064.4h0M327.9 1063.8h0M332.0 1063.3h0M336.2 1063.0h0M340.3 1063.1h0M344.5 1063.4h0M348.6 1063.8h0M352.8 1064.4h0M356.9 1065.0h0M361.1 1065.5h0M211.7 1164.3h0" stroke="#a400a6" stroke-width="17"/>
<path d="M294.7 1073.3h0M298.8 1071.4h0M365.2 1066.0h0M369.4 1066.7h0M298.8 1184.7h0" stroke="#a400a6" stroke-width="16.5"/>
<path d="M149.4 1040.2h0M153.6 1039.0h0M157.7 1037.7h0M161.9 1036.6h0M166.0 1036.0h0M116.2 1072.0h0M120.4 1072.9h0M124.5 1073.8h0M128.7 1074.7h0M132.8 1075.5h0M136.9 1076.4h0M141.1 1077.2h0M145.2 1078.0h0M149.4 1078.9h0M153.6 1079.9h0M157.7 1081.2h0M199.2 1074.4h0M203.4 1072.8h0M207.5 1071.7h0M211.7 1071.0h0M215.8 1071.2h0M220.0 1072.1h0M224.1 1073.5h0M228.2 1075.3h0M232.4 1077.3h0M236.6 1079.3h0M240.7 1081.7h0M244.9 1084.6h0M249.0 1087.5h0M253.2 1090.9h0M257.3 1092.9h0M261.4 1092.8h0M265.6 1092.1h0M269.8 1091.1h0M273.9 1087.5h0M278.1 1081.8h0M282.2 1078.7h0M286.4 1076.9h0M290.5 1075.2h0M373.5 1067.5h0M211.7 1086.0h0M215.8 1086.1h0M220.0 1086.7h0M224.1 1087.8h0M228.2 1089.1h0M232.4 1090.6h0M236.6 1092.2h0M240.7 1094.6h0M244.9 1097.5h0M249.0 1100.5h0M253.2 1103.9h0M257.3 1105.9h0M261.4 1105.5h0M265.6 1104.1h0M269.8 1102.1h0M273.9 1098.9h0M278.1 1095.0h0M282.2 1093.4h0M286.4 1092.4h0M290.5 1092.0h0M294.7 1092.0h0M298.8 1092.0h0M303.0 1092.0h0M307.1 1092.0h0M311.2 1092.0h0M315.4 1092.3h0M319.6 1092.6h0M323.7 1092.9h0M327.9 1093.1h0M332.0 1093.1h0M336.2 1092.9h0M340.3 1092.6h0M344.5 1092.3h0M348.6 1091.9h0M352.8 1091.6h0M356.9 1091.2h0M361.1 1090.8h0M365.2 1090.4h0M369.4 1090.1h0M373.5 1090.0h0M377.7 1090.9h0M381.8 1092.8h0M385.9 1095.3h0M390.1 1097.8h0M394.2 1099.9h0M398.4 1101.5h0M402.6 1103.0h0M406.7 1104.5h0M410.9 1105.7h0M415.0 1106.8h0M419.2 1107.6h0M498.0 1092.7h0M502.2 1091.3h0M506.3 1089.9h0M510.5 1088.6h0M514.6 1087.6h0M518.8 1087.0h0M522.9 1087.3h0M635.0 1128.0h0M116.2 1157.1h0M207.5 1167.6h0" stroke="#a400a6" stroke-width="16"/>
<path d="M145.2 1041.3h0M170.2 1036.0h0M161.9 1082.7h0M195.1 1077.9h0M377.7 1068.7h0M381.8 1070.3h0M423.3 1108.4h0M427.4 1109.1h0M431.6 1109.7h0M485.6 1097.7h0M489.7 1095.9h0M493.9 1094.2h0M527.1 1088.6h0M531.2 1090.5h0M630.8 1128.0h0M394.2 1157.4h0M120.4 1158.5h0" stroke="#a400a6" stroke-width="15.5"/>
<path d="M141.1 1042.6h0M174.3 1036.0h0M166.0 1084.5h0M190.9 1082.2h0M385.9 1072.2h0M390.1 1074.7h0M207.5 1086.4h0M435.8 1110.0h0M439.9 1109.9h0M444.1 1109.6h0M448.2 1109.1h0M452.4 1108.4h0M456.5 1107.7h0M460.7 1106.8h0M464.8 1105.6h0M469.0 1104.3h0M473.1 1102.9h0M477.2 1101.1h0M481.4 1099.4h0M535.4 1092.4h0M539.5 1093.9h0M543.7 1094.8h0M547.8 1095.7h0M552.0 1096.4h0M556.1 1097.1h0M560.2 1097.7h0M564.4 1098.4h0M568.6 1099.0h0M572.7 1099.7h0M576.9 1100.4h0M581.0 1101.0h0M585.2 1101.5h0M589.3 1101.9h0M593.5 1102.0h0M597.6 1102.0h0M601.8 1102.0h0M605.9 1102.0h0M610.1 1102.0h0M614.2 1102.0h0M618.4 1102.0h0M622.5 1102.1h0M626.7 1102.5h0M630.8 1103.1h0M635.0 1103.8h0M211.7 1104.9h0M215.8 1105.2h0M220.0 1105.3h0M224.1 1105.4h0M228.2 1105.6h0M232.4 1105.7h0M236.6 1106.1h0M240.7 1107.8h0M244.9 1110.6h0M249.0 1113.4h0M253.2 1116.8h0M257.3 1118.9h0M261.4 1118.5h0M265.6 1116.9h0M269.8 1115.1h0M273.9 1112.7h0M278.1 1110.4h0M282.2 1110.0h0M286.4 1110.0h0M290.5 1110.0h0M294.7 1110.0h0M298.8 1110.0h0M303.0 1110.1h0M307.1 1111.8h0M311.2 1114.5h0M315.4 1117.3h0M319.6 1119.7h0M323.7 1122.2h0M327.9 1124.7h0M332.0 1127.2h0M336.2 1130.0h0M340.3 1131.8h0M344.5 1132.6h0M348.6 1133.2h0M352.8 1133.2h0M356.9 1131.6h0M361.1 1128.9h0M365.2 1126.4h0M369.4 1124.8h0M373.5 1123.2h0M377.7 1122.0h0M381.8 1121.8h0M385.9 1121.9h0M390.1 1122.2h0M394.2 1122.5h0M398.4 1122.9h0M402.6 1123.3h0M406.7 1123.8h0M410.9 1124.6h0M415.0 1125.3h0M419.2 1125.9h0M423.3 1126.1h0M427.4 1125.9h0M431.6 1125.4h0M435.8 1124.7h0M439.9 1123.9h0M444.1 1123.1h0M448.2 1122.5h0M452.4 1122.1h0M456.5 1122.1h0M460.7 1122.8h0M464.8 1123.8h0M469.0 1124.7h0M473.1 1125.0h0M622.5 1127.8h0M626.7 1128.0h0M124.5 1159.8h0M203.4 1171.4h0M303.0 1189.6h0" stroke="#a400a6" stroke-width="15"/>
<path d="M136.9 1043.6h0M178.5 1036.0h0M170.2 1087.6h0M186.8 1086.2h0M394.2 1078.4h0M398.4 1082.6h0M203.4 1087.1h0M203.4 1103.3h0M207.5 1104.1h0M477.2 1124.8h0M614.2 1126.2h0M618.4 1127.1h0M527.1 1072.4h0M531.2 1071.7h0M535.4 1071.2h0M539.5 1071.0h0M543.7 1071.0h0M547.8 1071.0h0M552.0 1071.0h0M556.1 1071.0h0M560.2 1071.0h0M564.4 1071.0h0M568.6 1071.1h0M572.7 1071.7h0M576.9 1072.8h0M581.0 1074.2h0M585.2 1075.5h0M589.3 1076.8h0M593.5 1078.3h0M597.6 1079.9h0M601.8 1081.4h0M605.9 1082.8h0M610.1 1084.0h0M614.2 1085.1h0M618.4 1086.2h0M622.5 1087.2h0M626.7 1088.2h0M630.8 1089.0h0M635.0 1089.8h0M128.7 1161.1h0" stroke="#a400a6" stroke-width="14.5"/>
<path d="M116.2 1046.0h0M120.4 1045.8h0M124.5 1045.4h0M128.7 1044.9h0M132.8 1044.3h0M182.6 1036.0h0M174.3 1090.0h0M178.5 1090.0h0M182.6 1089.6h0M402.6 1086.1h0M406.7 1088.4h0M410.9 1090.2h0M415.0 1091.7h0M419.2 1093.3h0M423.3 1095.0h0M427.4 1096.8h0M431.6 1098.5h0M435.8 1100.2h0M439.9 1101.7h0M444.1 1103.1h0M448.2 1104.4h0M452.4 1105.4h0M456.5 1106.3h0M199.2 1087.9h0M199.2 1103.0h0M481.4 1124.3h0M610.1 1125.2h0M510.5 1075.5h0M514.6 1074.8h0M518.8 1074.0h0M522.9 1073.2h0" stroke="#a400a6" stroke-width="14"/>
<path d="M460.7 1107.0h0M464.8 1107.5h0M195.1 1089.2h0M195.1 1103.4h0M485.6 1123.6h0M605.9 1124.3h0M506.3 1076.5h0M390.1 1162.1h0M132.8 1162.2h0M307.1 1194.2h0" stroke="#a400a6" stroke-width="13.5"/>
<path d="M186.8 1036.0h0M469.0 1107.9h0M166.0 1093.4h0M170.2 1097.5h0M174.3 1100.3h0M178.5 1100.1h0M182.6 1099.4h0M186.8 1096.7h0M190.9 1091.3h0M489.7 1122.8h0M601.8 1123.1h0M498.0 1078.5h0M502.2 1077.5h0" stroke="#a400a6" stroke-width="13"/>
<path d="M190.9 1036.0h0M157.7 1084.2h0M161.9 1088.9h0M190.9 1104.3h0M597.6 1121.9h0M493.9 1079.3h0M385.9 1166.9h0M136.9 1163.9h0" stroke="#a400a6" stroke-width="12.5"/>
<path d="M195.1 1036.0h0M153.6 1080.4h0M186.8 1105.7h0M593.5 1120.5h0M485.6 1080.0h0M489.7 1079.9h0M224.1 1137.3h0M228.2 1130.4h0M232.4 1121.9h0" stroke="#a400a6" stroke-width="12"/>
<path d="M199.2 1035.6h0M145.2 1075.4h0M149.4 1077.8h0M493.9 1121.0h0M481.4 1080.0h0M381.8 1171.9h0M236.6 1115.2h0M311.2 1198.5h0" stroke="#a400a6" stroke-width="11.5"/>
<path d="M141.1 1073.4h0M589.3 1119.0h0M477.2 1080.0h0M377.7 1177.2h0M141.1 1166.1h0M220.0 1146.9h0" stroke="#a400a6" stroke-width="11"/>
<path d="M203.4 1034.5h0M136.9 1071.7h0M473.1 1080.0h0" stroke="#a400a6" stroke-width="10.5"/>
<path d="M116.2 1056.0h0M120.4 1055.5h0M124.5 1055.0h0M128.7 1054.6h0M132.8 1054.2h0M136.9 1053.8h0M141.1 1053.6h0M145.2 1053.3h0M149.4 1053.0h0M153.6 1052.8h0M157.7 1052.6h0M161.9 1052.4h0M166.0 1052.1h0M170.2 1051.7h0M174.3 1051.0h0M178.5 1050.4h0M182.6 1049.8h0M116.2 1067.0h0M120.4 1067.5h0M124.5 1068.3h0M128.7 1069.3h0M132.8 1070.4h0M498.0 1118.5h0M340.3 1120.5h0M344.5 1114.7h0M348.6 1108.0h0M352.8 1104.1h0M356.9 1102.4h0M361.1 1101.3h0M365.2 1100.5h0M369.4 1099.6h0M373.5 1098.9h0M377.7 1098.3h0M456.5 1079.1h0M460.7 1079.5h0M464.8 1079.8h0M469.0 1080.0h0M390.1 1175.9h0M394.2 1171.3h0M398.4 1167.3h0M145.2 1168.1h0M215.8 1153.6h0" stroke="#a400a6" stroke-width="10"/>
<path d="M585.2 1117.2h0M385.9 1181.3h0M211.7 1158.2h0M315.4 1202.6h0" stroke="#a400a6" stroke-width="9.5"/>
<path d="M186.8 1049.2h0M502.2 1116.5h0M377.7 1193.4h0M381.8 1187.4h0M402.6 1164.1h0M207.5 1161.4h0" stroke="#a400a6" stroke-width="9"/>
<path d="M190.9 1048.7h0M581.0 1115.4h0M373.5 1199.6h0M224.1 1139.9h0" stroke="#a400a6" stroke-width="8.5"/>
<path d="M195.1 1048.1h0M506.3 1116.0h0M576.9 1113.7h0M402.6 1076.4h0M406.7 1077.7h0M410.9 1078.9h0M415.0 1079.8h0M419.2 1080.3h0M423.3 1079.9h0M427.4 1077.2h0M431.6 1073.8h0M435.8 1069.3h0M439.9 1066.7h0M444.1 1067.4h0M448.2 1068.9h0M452.4 1072.0h0M456.5 1075.5h0M460.7 1077.7h0M464.8 1079.2h0M469.0 1080.3h0M473.1 1080.8h0M477.2 1081.2h0M149.4 1169.2h0M203.4 1163.7h0M220.0 1144.1h0" stroke="#a400a6" stroke-width="8"/>
<path d="M510.5 1116.2h0M514.6 1116.5h0M572.7 1111.9h0M394.2 1072.1h0M398.4 1074.5h0M199.2 1167.6h0M215.8 1148.3h0" stroke="#a400a6" stroke-width="7.5"/>
<path d="M518.8 1116.7h0M522.9 1116.4h0M527.1 1115.4h0M531.2 1113.8h0M535.4 1112.2h0M539.5 1110.8h0M543.7 1109.7h0M547.8 1108.6h0M552.0 1108.0h0M556.1 1108.1h0M560.2 1108.7h0M564.4 1109.5h0M568.6 1110.4h0M249.0 1042.5h0M253.2 1043.2h0M257.3 1043.4h0M203.4 1042.0h0M207.5 1041.0h0M211.7 1040.6h0M215.8 1040.8h0M220.0 1041.9h0M224.1 1043.3h0M228.2 1044.4h0M232.4 1045.7h0M236.6 1047.1h0M240.7 1048.6h0M244.9 1050.3h0M116.2 1118.0h0M120.4 1118.0h0M124.5 1118.0h0M128.7 1118.0h0M132.8 1118.0h0M136.9 1118.0h0M141.1 1118.0h0M145.2 1118.2h0M149.4 1118.5h0M153.6 1118.8h0M157.7 1119.0h0M161.9 1119.0h0M373.5 1064.1h0M377.7 1065.2h0M381.8 1066.5h0M385.9 1068.0h0M390.1 1069.7h0M564.4 1061.9h0M568.6 1060.6h0M572.7 1059.5h0M576.9 1058.6h0M581.0 1057.8h0M585.2 1057.1h0M195.1 1170.7h0M211.7 1152.3h0M182.6 1178.3h0M186.8 1177.8h0M190.9 1177.4h0M174.3 1210.0h0M178.5 1210.0h0" stroke="#a400a6" stroke-width="7"/>
<path d="M244.9 1038.7h0M261.4 1042.6h0M166.0 1119.0h0M170.2 1119.0h0M589.3 1056.6h0M593.5 1056.2h0M153.6 1170.6h0M207.5 1156.0h0M174.3 1179.3h0M178.5 1178.8h0M182.6 1210.0h0" stroke="#a400a6" stroke-width="6.5"/>
<path d="M332.0 1047.2h0M336.2 1047.2h0M340.3 1047.2h0M344.5 1047.2h0M253.2 1077.0h0M257.3 1077.0h0M261.4 1077.0h0M265.6 1077.0h0M269.8 1077.0h0M273.9 1076.6h0M278.1 1075.6h0M240.7 1034.8h0M265.6 1040.8h0M303.0 1041.7h0M307.1 1041.8h0M311.2 1042.2h0M315.4 1043.0h0M319.6 1044.3h0M282.2 1055.7h0M286.4 1055.9h0M290.5 1056.1h0M294.7 1057.0h0M298.8 1058.8h0M303.0 1060.2h0M307.1 1061.0h0M311.2 1061.7h0M315.4 1062.2h0M319.6 1062.4h0M174.3 1119.0h0M423.3 1085.0h0M427.4 1084.2h0M431.6 1083.9h0M435.8 1083.8h0M439.9 1083.9h0M444.1 1085.0h0M448.2 1086.9h0M452.4 1089.1h0M303.0 1060.2h0M307.1 1062.2h0M514.6 1049.6h0M518.8 1049.9h0M522.9 1050.5h0M527.1 1051.3h0M531.2 1052.6h0M535.4 1053.7h0M539.5 1053.9h0M543.7 1053.7h0M547.8 1053.3h0M552.0 1052.9h0M556.1 1052.4h0M560.2 1051.9h0M564.4 1051.2h0M568.6 1050.3h0M572.7 1049.2h0M153.6 1184.5h0M157.7 1183.1h0M161.9 1181.9h0M166.0 1180.8h0M170.2 1180.0h0M186.8 1210.0h0" stroke="#a400a6" stroke-width="6"/>
<path d="M236.6 1031.3h0M269.8 1038.8h0M294.7 1043.5h0M298.8 1042.2h0M456.5 1092.2h0M298.8 1058.2h0M502.2 1053.2h0M506.3 1051.5h0M510.5 1050.2h0M576.9 1047.7h0M145.2 1187.9h0M149.4 1186.1h0M190.9 1210.3h0" stroke="#a400a6" stroke-width="5.5"/>
<path d="M211.7 1030.0h0M215.8 1028.1h0M220.0 1026.9h0M224.1 1026.2h0M228.2 1026.6h0M232.4 1028.7h0M269.8 1052.8h0M273.9 1051.4h0M278.1 1049.8h0M282.2 1048.2h0M286.4 1046.5h0M290.5 1044.8h0M381.8 1061.6h0M385.9 1060.6h0M390.1 1059.9h0M394.2 1059.3h0M398.4 1059.0h0M402.6 1059.0h0M406.7 1059.2h0M410.9 1059.4h0M415.0 1059.7h0M419.2 1060.0h0M423.3 1060.2h0M427.4 1060.4h0M431.6 1060.6h0M435.8 1060.8h0M439.9 1061.0h0M444.1 1061.2h0M448.2 1061.3h0M452.4 1061.5h0M456.5 1061.6h0M460.7 1061.6h0M464.8 1061.6h0M469.0 1061.5h0M473.1 1061.3h0M477.2 1061.2h0M460.7 1095.0h0M464.8 1097.2h0M469.0 1098.1h0M473.1 1098.7h0M477.2 1099.1h0M282.2 1048.1h0M286.4 1046.0h0M290.5 1044.3h0M294.7 1043.1h0M298.8 1042.4h0M303.0 1042.3h0M307.1 1042.8h0M311.2 1043.5h0M315.4 1044.3h0M319.6 1045.2h0M323.7 1046.3h0M327.9 1047.1h0M332.0 1047.3h0M336.2 1047.1h0M340.3 1046.9h0M344.5 1046.6h0M348.6 1046.2h0M352.8 1045.7h0M356.9 1045.3h0M361.1 1044.9h0M365.2 1044.7h0M369.4 1044.4h0M257.3 1045.5h0M261.4 1043.6h0M265.6 1043.0h0M269.8 1043.6h0M273.9 1045.1h0M278.1 1047.7h0M282.2 1055.2h0M286.4 1055.5h0M290.5 1056.0h0M294.7 1056.7h0M456.5 1060.8h0M460.7 1060.8h0M464.8 1060.8h0M469.0 1060.8h0M473.1 1060.8h0M477.2 1060.8h0M481.4 1060.8h0M485.6 1059.9h0M489.7 1058.3h0M493.9 1056.4h0M498.0 1054.7h0M581.0 1045.7h0M572.7 1059.7h0M576.9 1058.6h0M581.0 1057.7h0M585.2 1057.0h0M589.3 1056.3h0M593.5 1055.8h0M605.9 1072.5h0M610.1 1072.3h0M614.2 1072.1h0M618.4 1071.9h0M622.5 1071.7h0M626.7 1071.4h0M630.8 1071.2h0M635.0 1071.0h0M120.4 1131.0h0M124.5 1131.0h0M128.7 1131.0h0M319.6 1197.5h0M323.7 1198.8h0M327.9 1199.7h0M332.0 1200.2h0M336.2 1200.6h0M340.3 1200.9h0M344.5 1201.0h0M348.6 1201.0h0M352.8 1201.0h0M356.9 1201.0h0M361.1 1201.0h0M365.2 1200.7h0M369.4 1200.1h0M332.0 1208.2h0M336.2 1208.6h0M340.3 1208.9h0M344.5 1209.0h0M348.6 1209.0h0M352.8 1209.0h0M356.9 1209.0h0M128.7 1193.9h0M132.8 1192.5h0M136.9 1191.1h0M141.1 1189.6h0M195.1 1211.0h0M199.2 1210.9h0M493.9 1202.2h0M498.0 1202.5h0M502.2 1202.8h0M506.3 1203.1h0M510.5 1203.4h0M514.6 1203.7h0M518.8 1203.9h0M522.9 1204.2h0M527.1 1204.4h0M531.2 1204.7h0M535.4 1205.0h0M539.5 1205.3h0M543.7 1205.5h0M547.8 1205.7h0M552.0 1205.9h0M556.1 1206.0h0M560.2 1206.0h0M564.4 1206.0h0M568.6 1205.9h0M572.7 1205.7h0M576.9 1205.6h0M581.0 1205.4h0M585.2 1205.2h0M589.3 1205.0h0M593.5 1204.8h0M597.6 1204.6h0M601.8 1204.4h0M605.9 1204.1h0M489.7 1208.2h0M493.9 1208.5h0M498.0 1208.8h0M502.2 1209.1h0M506.3 1209.3h0M510.5 1209.6h0M514.6 1209.8h0M518.8 1210.0h0M522.9 1210.1h0M527.1 1210.3h0M531.2 1210.4h0M535.4 1210.5h0M539.5 1210.7h0M543.7 1210.8h0M547.8 1210.9h0M552.0 1210.9h0M556.1 1211.0h0M560.2 1211.0h0M564.4 1211.0h0M568.6 1211.0h0M572.7 1211.0h0M576.9 1211.0h0M581.0 1211.0h0M585.2 1211.0h0M589.3 1211.0h0M593.5 1211.0h0M597.6 1211.0h0M601.8 1211.0h0M605.9 1211.0h0M610.1 1211.0h0M614.2 1211.0h0" stroke="#a400a6" stroke-width="5"/>
<path d="M203.4 1210.5h0" stroke="#a400a6" stroke-width="4.5"/>
<path d="M128.7 1107.5h0M132.8 1107.5h0M136.9 1107.5h0M141.1 1107.5h0M145.2 1107.5h0M149.4 1107.5h0M153.6 1107.5h0M157.7 1107.5h0M161.9 1107.6h0M166.0 1107.7h0M170.2 1107.8h0M174.3 1107.9h0M406.7 1037.9h0M410.9 1038.4h0M415.0 1038.7h0M419.2 1038.7h0M423.3 1038.7h0M427.4 1038.7h0M431.6 1038.6h0M435.8 1036.3h0M439.9 1033.3h0M444.1 1031.3h0M448.2 1029.6h0M402.6 1051.4h0M406.7 1052.4h0M410.9 1052.9h0M415.0 1052.9h0M419.2 1052.5h0M423.3 1051.6h0M427.4 1049.4h0M431.6 1046.6h0M435.8 1044.2h0M207.5 1210.1h0M211.7 1210.0h0M215.8 1210.4h0M220.0 1211.0h0" stroke="#a400a6" stroke-width="4"/>
<path d="M116.2 1154.6h0M120.4 1146.8h0M124.5 1138.9h0" stroke="#a400a6" stroke-width="0"/>
</g>
<clipPath id="clipd"><rect x="829.6" y="696.5" width="517.2" height="517.6"/></clipPath>
<g clip-path="url(#clipd)" fill="none" stroke-linecap="round">
<path d="M1164.8 863.9h0" stroke="#ff0000" stroke-width="20"/>
<path d="M1160.6 872.2h0" stroke="#ff0000" stroke-width="19.5"/>
<path d="M1168.9 856.6h0" stroke="#ff0000" stroke-width="19"/>
<path d="M1198.0 798.3h0M1202.1 793.4h0M1206.2 788.4h0M1210.4 783.7h0M1156.5 881.3h0M1173.1 850.2h0" stroke="#ff0000" stroke-width="18.5"/>
<path d="M1193.8 803.0h0M1214.6 779.5h0M1152.3 888.0h0" stroke="#ff0000" stroke-width="18"/>
<path d="M1218.7 775.7h0M1222.9 772.3h0M832.8 967.6h0" stroke="#ff0000" stroke-width="17.5"/>
<path d="M1227.0 769.3h0M1148.2 892.8h0M1177.2 845.0h0M832.8 801.1h0M836.9 804.8h0" stroke="#ff0000" stroke-width="17"/>
<path d="M1231.2 766.6h0M1235.3 764.3h0M1144.0 896.4h0M841.1 809.8h0M836.9 971.0h0" stroke="#ff0000" stroke-width="16.5"/>
<path d="M1239.5 762.0h0M1243.6 759.9h0M1139.8 898.7h0M845.2 815.7h0M841.1 975.1h0" stroke="#ff0000" stroke-width="16"/>
<path d="M1247.8 758.1h0M1251.9 756.6h0M1256.1 755.6h0M1260.2 754.8h0M1264.4 754.1h0M1268.5 753.8h0M1272.7 754.0h0M1276.8 754.6h0M1281.0 755.5h0M1285.1 756.6h0M1289.2 758.1h0M1293.4 760.6h0M1297.6 764.0h0M1301.7 767.9h0M1305.9 772.1h0M1310.0 776.2h0M1131.6 901.6h0M1135.7 900.3h0M1181.4 840.6h0M849.4 822.9h0" stroke="#ff0000" stroke-width="15.5"/>
<path d="M1314.2 780.9h0M1318.3 786.1h0M1123.2 904.9h0M1127.4 903.0h0M853.5 830.9h0M845.2 979.8h0" stroke="#ff0000" stroke-width="15"/>
<path d="M1322.5 791.7h0M1326.6 797.6h0M1330.8 804.4h0M1334.9 811.3h0M1339.1 817.7h0M1343.2 823.8h0M1347.3 829.6h0M1119.1 907.2h0M857.6 839.5h0M861.8 848.9h0" stroke="#ff0000" stroke-width="14.5"/>
<path d="M1115.0 910.0h0M1185.5 837.2h0M866.0 858.0h0M870.1 867.2h0M874.2 875.4h0M878.4 881.4h0M882.6 886.4h0M886.7 888.8h0M890.9 889.0h0M895.0 889.1h0M899.2 889.2h0M957.2 904.3h0M961.4 905.0h0M965.6 905.9h0M849.4 985.4h0" stroke="#ff0000" stroke-width="14"/>
<path d="M1110.8 913.6h0M903.3 889.4h0M969.7 906.6h0" stroke="#ff0000" stroke-width="13.5"/>
<path d="M907.5 889.8h0M953.1 904.8h0M853.5 991.7h0M866.0 1020.1h0M870.1 1029.2h0M874.2 1036.1h0M878.4 1040.2h0M882.6 1042.9h0M886.7 1044.3h0" stroke="#ff0000" stroke-width="13"/>
<path d="M1106.7 918.1h0M911.6 890.4h0M915.8 891.2h0M890.9 1045.3h0" stroke="#ff0000" stroke-width="12.5"/>
<path d="M1102.5 922.4h0M1214.6 905.6h0M919.9 892.1h0M973.9 907.5h0M857.6 999.5h0M861.8 1009.4h0M895.0 1046.0h0M899.2 1046.2h0" stroke="#ff0000" stroke-width="12"/>
<path d="M1206.2 884.8h0M1210.4 895.2h0M1318.3 916.6h0M1322.5 904.8h0M1326.6 893.4h0M1330.8 885.5h0M1334.9 873.5h0M1339.1 862.1h0M1343.2 855.5h0M1347.3 848.1h0M924.1 893.1h0M903.3 1045.4h0" stroke="#ff0000" stroke-width="11.5"/>
<path d="M1098.3 926.4h0M1198.0 864.3h0M1202.1 874.5h0M928.2 893.9h0M932.4 894.6h0M949.0 907.8h0M907.5 1044.0h0M911.6 1041.5h0" stroke="#ff0000" stroke-width="11"/>
<path d="M1189.7 844.3h0M1193.8 854.3h0M936.5 895.2h0M940.7 895.7h0M978.0 910.2h0M915.8 1036.6h0" stroke="#ff0000" stroke-width="10.5"/>
<path d="M1094.2 930.5h0M944.8 896.3h0M919.9 1032.9h0" stroke="#ff0000" stroke-width="10"/>
<path d="M1090.1 935.1h0M949.0 896.8h0M944.8 909.7h0M1036.1 997.5h0M1040.2 999.3h0M1044.4 1000.4h0M1048.5 1001.2h0M1052.7 1001.1h0M924.1 1030.8h0" stroke="#ff0000" stroke-width="9.5"/>
<path d="M982.2 914.3h0M1027.8 990.8h0M1032.0 994.5h0M1056.9 999.3h0M1061.0 996.3h0M928.2 1029.4h0M932.4 1028.8h0" stroke="#ff0000" stroke-width="9"/>
<path d="M1085.9 940.1h0M986.3 918.8h0M1023.7 986.6h0M1065.2 992.9h0M936.5 1028.4h0" stroke="#ff0000" stroke-width="8.5"/>
<path d="M940.7 911.1h0M990.5 924.0h0M1019.5 981.1h0M1069.3 988.6h0M1073.5 983.2h0M940.7 1028.2h0" stroke="#ff0000" stroke-width="8"/>
<path d="M994.6 930.0h0M1007.1 969.2h0M1011.2 972.2h0M1015.4 975.9h0M1077.6 977.7h0M1081.8 972.0h0M1085.9 966.1h0M944.8 1028.3h0M949.0 1029.1h0" stroke="#ff0000" stroke-width="7.5"/>
<path d="M936.5 912.1h0M1002.9 966.7h0M1090.1 959.8h0M953.1 1030.1h0" stroke="#ff0000" stroke-width="7"/>
<path d="M1094.2 954.4h0M1098.3 951.5h0M957.2 1031.2h0" stroke="#ff0000" stroke-width="6.5"/>
<path d="M832.8 927.4h0M836.9 925.2h0M841.1 923.0h0M845.2 920.9h0M849.4 919.0h0M853.5 917.2h0M857.6 915.4h0M861.8 913.5h0M866.0 911.6h0M870.1 910.0h0M874.2 908.8h0M878.4 908.2h0M882.6 908.2h0M886.7 908.4h0M890.9 908.6h0M895.0 908.8h0M899.2 909.1h0M903.3 909.4h0M907.5 909.7h0M911.6 910.1h0M915.8 910.6h0M919.9 911.2h0M924.1 911.7h0M928.2 912.1h0M932.4 912.3h0M961.4 1031.8h0" stroke="#ff0000" stroke-width="6"/>
<path d="M832.8 1106.4h0M836.9 1106.4h0M841.1 1106.4h0M845.2 1106.4h0M849.4 1106.4h0M853.5 1106.4h0M857.6 1106.4h0M861.8 1106.6h0" stroke="#0000ff" stroke-width="18"/>
<path d="M866.0 1106.9h0M870.1 1107.3h0M874.2 1107.8h0M878.4 1108.2h0" stroke="#0000ff" stroke-width="17.5"/>
<path d="M882.6 1108.6h0M886.7 1108.7h0" stroke="#0000ff" stroke-width="17"/>
<path d="M1268.5 1012.8h0" stroke="#0000ff" stroke-width="16.5"/>
<path d="M919.9 1009.8h0M924.1 995.7h0M928.2 983.6h0M932.4 969.9h0M1198.0 796.8h0M1202.1 791.9h0M1206.2 786.9h0M1210.4 782.2h0M1264.4 1012.3h0M1272.7 1011.3h0" stroke="#0000ff" stroke-width="16"/>
<path d="M1193.8 801.5h0M1214.6 778.0h0M1218.7 774.2h0M1260.2 1009.8h0M1276.8 1008.5h0M890.9 1104.7h0" stroke="#0000ff" stroke-width="15.5"/>
<path d="M915.8 1020.3h0M936.5 954.7h0M940.7 938.2h0M944.8 923.7h0M1222.9 770.8h0" stroke="#0000ff" stroke-width="15"/>
<path d="M924.1 692.8h0M928.2 705.7h0M932.4 718.9h0M936.5 732.3h0M940.7 746.0h0M944.8 759.8h0M949.0 773.7h0M953.1 787.4h0M957.2 801.6h0M961.4 818.1h0M973.9 838.5h0M1189.7 806.3h0M1227.0 767.8h0M1256.1 1006.0h0M1281.0 1004.0h0" stroke="#0000ff" stroke-width="14.5"/>
<path d="M965.6 832.5h0M911.6 1029.8h0M949.0 910.4h0M953.1 893.3h0M957.2 875.7h0M961.4 859.0h0M978.0 837.5h0M1231.2 765.1h0M1235.3 762.8h0" stroke="#0000ff" stroke-width="14"/>
<path d="M965.6 846.3h0M982.2 836.4h0M1239.5 760.5h0M1243.6 758.4h0M1247.8 756.6h0M1285.1 996.2h0M895.0 1097.9h0" stroke="#0000ff" stroke-width="13.5"/>
<path d="M986.3 835.2h0M1185.5 810.4h0M1251.9 755.1h0M1256.1 754.1h0M1260.2 753.3h0M1264.4 752.6h0M1268.5 752.3h0M1272.7 752.5h0M1276.8 753.1h0M1281.0 754.0h0M1285.1 755.1h0M1289.2 756.6h0M1293.4 759.1h0M1297.6 762.5h0M1301.7 766.4h0M1305.9 770.6h0M1310.0 774.7h0M1123.2 847.9h0M1127.4 848.0h0M1131.6 847.7h0M1135.7 847.3h0M1139.8 846.7h0M1144.0 846.2h0M1148.2 845.6h0M1152.3 845.1h0M1251.9 1000.9h0M1289.2 990.8h0" stroke="#0000ff" stroke-width="13"/>
<path d="M969.7 840.4h0M990.5 833.9h0M1177.2 811.1h0M1181.4 810.8h0M1314.2 779.4h0M1318.3 784.6h0M1110.8 842.8h0M1115.0 845.0h0M1119.1 846.8h0M1156.5 844.5h0M1160.6 843.8h0M1164.8 843.1h0M1247.8 995.4h0" stroke="#0000ff" stroke-width="12.5"/>
<path d="M969.7 841.3h0M994.6 832.8h0M1081.8 821.1h0M1085.9 820.8h0M1090.1 820.2h0M1094.2 819.4h0M1098.3 818.6h0M1102.5 817.8h0M1106.7 817.0h0M1110.8 816.2h0M1115.0 815.6h0M1119.1 815.1h0M1123.2 814.7h0M1127.4 814.2h0M1131.6 813.8h0M1135.7 813.4h0M1139.8 813.0h0M1144.0 812.7h0M1148.2 812.4h0M1152.3 812.2h0M1156.5 812.0h0M1160.6 811.8h0M1164.8 811.7h0M1168.9 811.5h0M1173.1 811.3h0M1322.5 790.2h0M1326.6 796.1h0M1330.8 802.9h0M1334.9 809.8h0M1339.1 816.2h0M1343.2 822.3h0M1347.3 828.1h0M1102.5 838.9h0M1106.7 840.7h0M1168.9 842.3h0M1173.1 841.4h0M1243.6 988.1h0M1293.4 984.7h0M899.2 1091.2h0" stroke="#0000ff" stroke-width="12"/>
<path d="M998.8 831.9h0M1077.6 821.4h0M1098.3 837.2h0M1177.2 840.4h0M1297.6 976.2h0M1301.7 967.8h0" stroke="#0000ff" stroke-width="11.5"/>
<path d="M907.5 1038.5h0M1002.9 831.1h0M1007.1 830.3h0M1069.3 821.7h0M1073.5 821.6h0M1094.2 835.5h0M1181.4 839.2h0M1239.5 979.1h0" stroke="#0000ff" stroke-width="11"/>
<path d="M1011.2 829.5h0M1065.2 821.9h0M1085.9 832.2h0M1090.1 833.9h0M1185.5 837.9h0M1305.9 951.4h0" stroke="#0000ff" stroke-width="10.5"/>
<path d="M1015.4 828.7h0M1019.5 827.8h0M1056.9 822.3h0M1061.0 822.1h0M1081.8 830.6h0M1235.3 964.4h0" stroke="#0000ff" stroke-width="10"/>
<path d="M1023.7 826.9h0M1027.8 826.0h0M1044.4 823.4h0M1048.5 823.0h0M1052.7 822.6h0M1077.6 829.0h0M1222.9 926.1h0M1310.0 936.9h0" stroke="#0000ff" stroke-width="9.5"/>
<path d="M1032.0 825.2h0M1036.1 824.5h0M1040.2 823.9h0M1073.5 827.3h0M1214.6 905.6h0M1218.7 915.8h0M1227.0 937.9h0M1314.2 921.5h0M903.3 1082.8h0" stroke="#0000ff" stroke-width="9"/>
<path d="M1069.3 825.7h0M1206.2 884.8h0M1210.4 895.2h0M1231.2 949.7h0M1318.3 915.6h0M1322.5 903.8h0M1326.6 892.4h0M1330.8 884.5h0M1334.9 872.5h0M1339.1 861.1h0M1343.2 854.5h0M1347.3 847.1h0" stroke="#0000ff" stroke-width="8.5"/>
<path d="M1198.0 864.3h0M1202.1 874.5h0" stroke="#0000ff" stroke-width="8"/>
<path d="M1189.7 844.3h0M1193.8 854.3h0" stroke="#0000ff" stroke-width="7.5"/>
<path d="M1036.1 997.5h0M1040.2 999.3h0M1044.4 1000.4h0M1048.5 1001.2h0M1052.7 1001.1h0" stroke="#0000ff" stroke-width="7"/>
<path d="M1032.0 994.5h0M1056.9 999.3h0M1061.0 996.3h0" stroke="#0000ff" stroke-width="6.5"/>
<path d="M1023.7 986.6h0M1027.8 990.8h0M1065.2 992.9h0" stroke="#0000ff" stroke-width="6"/>
<path d="M1019.5 981.1h0M1069.3 988.6h0" stroke="#0000ff" stroke-width="5.5"/>
<path d="M986.3 918.8h0M990.5 924.0h0M994.6 930.0h0M998.8 935.0h0M1002.9 939.1h0M1007.1 969.2h0M1011.2 972.2h0M1015.4 975.9h0M1073.5 983.2h0M1077.6 977.7h0M1081.8 972.0h0M1085.9 966.1h0M1002.9 940.2h0M1081.8 941.5h0M1085.9 942.0h0" stroke="#0000ff" stroke-width="5"/>
<path d="M1002.9 966.7h0M1090.1 959.8h0" stroke="#0000ff" stroke-width="4.5"/>
<path d="M1094.2 954.4h0M1098.3 951.5h0M895.0 1153.8h0M899.2 1158.9h0M903.3 1163.2h0M907.5 1167.4h0" stroke="#0000ff" stroke-width="4"/>
<path d="M1139.8 1131.2h0M1144.0 1130.3h0M1148.2 1129.4h0M1152.3 1128.5h0M1156.5 1127.7h0M1160.6 1127.1h0M1164.8 1127.0h0M1168.9 1127.2h0M1173.1 1127.6h0M1177.2 1128.1h0M1181.4 1128.5h0M1185.5 1128.9h0M1189.7 1129.2h0M1193.8 1129.5h0M1198.0 1129.8h0M1202.1 1130.2h0M1206.2 1130.6h0M1210.4 1131.1h0M1214.6 1131.7h0M1218.7 1132.6h0M1222.9 1133.6h0M1227.0 1134.7h0M1231.2 1135.8h0M1235.3 1136.9h0M1239.5 1137.9h0M1243.6 1138.8h0" stroke="#a400a6" stroke-width="24"/>
<path d="M1135.7 1131.8h0M1247.8 1139.6h0M1251.9 1140.4h0" stroke="#a400a6" stroke-width="23.5"/>
<path d="M1127.4 1133.1h0M1131.6 1132.4h0M1256.1 1141.2h0" stroke="#a400a6" stroke-width="23"/>
<path d="M1123.2 1133.9h0M1260.2 1141.9h0M1264.4 1142.4h0" stroke="#a400a6" stroke-width="22.5"/>
<path d="M1119.1 1135.0h0M1268.5 1142.5h0M1272.7 1141.8h0M1276.8 1140.2h0M1281.0 1138.1h0M1285.1 1135.9h0M1289.2 1133.9h0M1293.4 1132.2h0M1297.6 1130.5h0M1301.7 1128.8h0M1305.9 1127.1h0M1310.0 1125.5h0M1314.2 1123.9h0" stroke="#a400a6" stroke-width="22"/>
<path d="M1318.3 1122.4h0M1322.5 1120.8h0" stroke="#a400a6" stroke-width="21.5"/>
<path d="M1115.0 1136.7h0M1326.6 1119.3h0" stroke="#a400a6" stroke-width="21"/>
<path d="M1330.8 1117.9h0" stroke="#a400a6" stroke-width="20.5"/>
<path d="M1334.9 1116.6h0M1339.1 1115.5h0M1343.2 1114.4h0M1347.3 1113.5h0" stroke="#a400a6" stroke-width="20"/>
<path d="M1110.8 1139.9h0" stroke="#a400a6" stroke-width="19.5"/>
<path d="M965.6 1133.0h0M969.7 1133.3h0" stroke="#a400a6" stroke-width="19"/>
<path d="M957.2 1133.6h0M961.4 1133.2h0M973.9 1134.5h0M978.0 1136.3h0" stroke="#a400a6" stroke-width="18.5"/>
<path d="M949.0 1135.4h0M953.1 1134.3h0M982.2 1138.5h0M1106.7 1144.1h0" stroke="#a400a6" stroke-width="18"/>
<path d="M986.3 1141.1h0" stroke="#a400a6" stroke-width="17.5"/>
<path d="M944.8 1139.4h0" stroke="#a400a6" stroke-width="17"/>
<path d="M940.7 1145.8h0M990.5 1145.6h0" stroke="#a400a6" stroke-width="16.5"/>
<path d="M915.8 1065.1h0M919.9 1065.5h0M924.1 1066.0h0M928.2 1066.4h0M932.4 1066.8h0M936.5 1067.1h0M940.7 1067.4h0M944.8 1067.8h0M949.0 1068.4h0M953.1 1069.8h0M957.2 1072.9h0M961.4 1076.0h0M965.6 1077.8h0M969.7 1077.5h0M973.9 1076.5h0M978.0 1075.2h0M982.2 1073.9h0M986.3 1072.8h0M990.5 1071.9h0M994.6 1071.0h0M998.8 1070.1h0M1002.9 1069.4h0M1007.1 1068.7h0M1011.2 1068.1h0M1015.4 1067.6h0M1019.5 1067.0h0M1023.7 1066.6h0M1027.8 1066.4h0M1032.0 1066.3h0M1036.1 1066.3h0M1040.2 1066.3h0M1044.4 1066.3h0M1048.5 1066.3h0M1052.7 1066.3h0M1056.9 1066.2h0M1061.0 1065.8h0M1065.2 1065.2h0M1069.3 1064.6h0M1073.5 1064.1h0M1077.6 1064.0h0M949.0 1081.6h0M953.1 1085.0h0M957.2 1088.4h0M961.4 1091.6h0M965.6 1094.8h0M969.7 1097.7h0M973.9 1098.6h0M978.0 1098.5h0M982.2 1098.1h0M986.3 1097.7h0M990.5 1097.1h0M994.6 1096.5h0M998.8 1095.8h0M1002.9 1094.4h0M1007.1 1092.7h0M1011.2 1091.1h0M1015.4 1089.9h0M1019.5 1089.4h0M1023.7 1089.8h0M1027.8 1090.8h0M1032.0 1092.1h0M1036.1 1095.3h0M1040.2 1099.2h0M1044.4 1102.4h0M1048.5 1105.6h0M1052.7 1107.6h0M1056.9 1107.6h0M1061.0 1106.7h0M1065.2 1105.6h0M1069.3 1103.9h0M1073.5 1101.7h0M1077.6 1100.9h0M1085.9 1080.7h0M1090.1 1081.6h0M1094.2 1082.5h0M1098.3 1083.4h0M1102.5 1084.3h0M1106.7 1085.1h0M1110.8 1085.8h0M1115.0 1086.6h0M1119.1 1087.2h0M1123.2 1087.9h0M1127.4 1088.4h0M1131.6 1089.0h0M1135.7 1089.5h0M1139.8 1090.0h0M1144.0 1090.6h0M1148.2 1091.1h0M1152.3 1091.7h0M1156.5 1092.4h0M1160.6 1093.2h0M1164.8 1094.0h0M1168.9 1094.8h0M1173.1 1095.5h0M1177.2 1096.1h0M1181.4 1096.3h0M1185.5 1096.2h0M1189.7 1095.8h0M1193.8 1095.1h0M1198.0 1094.3h0M1202.1 1093.4h0M1206.2 1092.5h0M1210.4 1091.6h0M1214.6 1090.6h0M1218.7 1089.2h0M1222.9 1087.8h0M1227.0 1086.3h0M1231.2 1084.9h0M1235.3 1083.7h0M1239.5 1082.8h0M1243.6 1082.4h0M1247.8 1082.5h0M1251.9 1082.7h0M1256.1 1083.1h0M1260.2 1083.6h0M1264.4 1084.3h0M1268.5 1085.0h0M1272.7 1085.7h0M1276.8 1086.5h0M1281.0 1087.3h0M1285.1 1088.3h0M1289.2 1089.5h0M1293.4 1090.9h0M1297.6 1092.3h0M1301.7 1093.8h0M1305.9 1095.3h0M1310.0 1097.3h0M1314.2 1099.2h0M1318.3 1101.1h0M1322.5 1102.5h0M1326.6 1103.4h0M1330.8 1104.0h0M1334.9 1104.5h0M1339.1 1104.9h0M1343.2 1105.3h0M1347.3 1105.5h0M994.6 1151.2h0" stroke="#a400a6" stroke-width="16"/>
<path d="M911.6 1064.7h0M1102.5 1149.8h0" stroke="#a400a6" stroke-width="15.5"/>
<path d="M907.5 1064.5h0M1081.8 1064.0h0M1085.9 1064.1h0M1090.1 1064.5h0M944.8 1078.2h0M1081.8 1101.0h0M1085.9 1101.2h0M1090.1 1101.7h0M936.5 1153.2h0M998.8 1156.6h0" stroke="#a400a6" stroke-width="15"/>
<path d="M903.3 1064.2h0M1094.2 1065.1h0M1098.3 1066.0h0M1102.5 1067.0h0M1106.7 1068.1h0M940.7 1074.9h0M1094.2 1102.4h0M1098.3 1103.3h0M1102.5 1104.4h0M1106.7 1105.4h0" stroke="#a400a6" stroke-width="14.5"/>
<path d="M832.8 1020.0h0M836.9 1017.3h0M841.1 1015.0h0M845.2 1012.9h0M849.4 1010.8h0M853.5 1009.2h0M857.6 1008.5h0M861.8 1009.0h0M866.0 1010.1h0M870.1 1011.6h0M874.2 1013.0h0M878.4 1013.8h0M882.6 1014.0h0M832.8 1036.4h0M836.9 1036.7h0M841.1 1037.1h0M845.2 1037.4h0M849.4 1037.8h0M853.5 1038.1h0M857.6 1038.5h0M861.8 1039.0h0M866.0 1039.5h0M870.1 1040.1h0M874.2 1040.6h0M878.4 1040.9h0M882.6 1040.9h0M832.8 1050.5h0M836.9 1051.2h0M841.1 1052.0h0M845.2 1052.9h0M849.4 1053.8h0M853.5 1054.9h0M857.6 1056.0h0M861.8 1057.1h0M866.0 1058.4h0M870.1 1059.6h0M874.2 1061.0h0M878.4 1062.7h0M882.6 1064.3h0M886.7 1065.6h0M890.9 1066.2h0M895.0 1065.7h0M899.2 1063.0h0M903.3 1059.7h0M907.5 1056.2h0M911.6 1052.3h0M915.8 1049.6h0M919.9 1047.7h0M924.1 1046.3h0M928.2 1046.1h0M899.2 1064.0h0M1110.8 1069.2h0M1115.0 1070.3h0M1119.1 1071.3h0M1123.2 1072.3h0M1127.4 1073.6h0M1131.6 1074.9h0M1135.7 1076.1h0M1139.8 1077.4h0M1144.0 1078.4h0M1148.2 1079.4h0M1152.3 1080.0h0M1156.5 1080.5h0M1160.6 1081.0h0M1164.8 1081.4h0M1168.9 1081.8h0M1173.1 1082.1h0M1177.2 1082.3h0M1181.4 1082.4h0M1185.5 1082.2h0M1189.7 1081.3h0M1193.8 1080.0h0M1198.0 1078.3h0M1202.1 1076.5h0M1206.2 1074.7h0M1210.4 1073.1h0M1214.6 1071.3h0M1218.7 1069.4h0M1222.9 1067.4h0M1227.0 1065.7h0M1231.2 1064.4h0M1235.3 1063.6h0M1239.5 1063.0h0M1243.6 1062.4h0M1247.8 1062.0h0M1251.9 1061.7h0M1256.1 1061.6h0M1260.2 1061.9h0M1264.4 1062.6h0M1268.5 1063.6h0M1272.7 1064.7h0M1276.8 1065.7h0M1281.0 1066.6h0M1285.1 1067.4h0M1289.2 1068.2h0M1293.4 1069.0h0M1297.6 1069.8h0M1301.7 1070.7h0M1305.9 1071.8h0M1310.0 1073.0h0M1314.2 1074.3h0M1318.3 1075.6h0M1322.5 1076.9h0M1326.6 1078.1h0M1330.8 1079.3h0M1334.9 1080.5h0M1339.1 1081.7h0M1343.2 1082.8h0M1347.3 1084.0h0M1110.8 1106.4h0M1115.0 1107.3h0M1119.1 1108.0h0M1123.2 1108.8h0M1127.4 1109.5h0M1131.6 1110.2h0M1135.7 1110.9h0M1139.8 1111.5h0M1144.0 1112.0h0M1148.2 1112.3h0M1152.3 1112.4h0M1156.5 1112.4h0M1160.6 1112.4h0M1164.8 1112.4h0M1168.9 1112.4h0M1173.1 1112.4h0M1177.2 1112.4h0M1181.4 1112.4h0M1185.5 1112.1h0M1189.7 1111.1h0M1193.8 1109.6h0M1198.0 1108.0h0M1202.1 1106.4h0M1206.2 1104.6h0M1210.4 1102.6h0M1214.6 1100.4h0M1218.7 1098.1h0M1048.5 1052.1h0M1052.7 1052.4h0M1056.9 1052.4h0M1061.0 1052.1h0M1065.2 1051.8h0M1069.3 1051.3h0M1073.5 1050.6h0M1077.6 1049.9h0M1002.9 1162.0h0" stroke="#a400a6" stroke-width="14"/>
<path d="M886.7 1013.9h0M890.9 1013.7h0M895.0 1013.4h0M886.7 1040.9h0M932.4 1046.9h0M1040.2 1050.9h0M1044.4 1051.5h0M1081.8 1048.4h0M932.4 1163.4h0" stroke="#a400a6" stroke-width="13.5"/>
<path d="M899.2 1013.1h0M890.9 1040.9h0M895.0 1040.9h0M936.5 1048.4h0M940.7 1050.1h0M1027.8 1050.0h0M1032.0 1050.0h0M1036.1 1050.3h0M1085.9 1046.1h0M1007.1 1167.4h0M1098.3 1157.9h0" stroke="#a400a6" stroke-width="13"/>
<path d="M903.3 1012.7h0M899.2 1040.9h0M944.8 1051.6h0M1015.4 1051.1h0M1019.5 1050.6h0M1023.7 1050.2h0M1090.1 1043.2h0M1011.2 1171.7h0" stroke="#a400a6" stroke-width="12.5"/>
<path d="M903.3 1040.9h0M949.0 1052.4h0M1011.2 1051.7h0M1056.9 1091.5h0M1061.0 1085.4h0M1065.2 1080.4h0M1069.3 1076.4h0M1073.5 1073.1h0" stroke="#a400a6" stroke-width="12"/>
<path d="M907.5 1012.1h0M832.8 1136.9h0" stroke="#a400a6" stroke-width="11.5"/>
<path d="M836.9 1137.5h0M1094.2 1166.5h0" stroke="#a400a6" stroke-width="11"/>
<path d="M911.6 1011.5h0M1015.4 1174.3h0M841.1 1138.3h0" stroke="#a400a6" stroke-width="10.5"/>
<path d="M1231.2 1054.7h0M1235.3 1054.6h0M1239.5 1054.0h0M1243.6 1053.2h0M1247.8 1052.2h0M1251.9 1051.5h0M1256.1 1051.2h0M1260.2 1051.3h0M1264.4 1051.4h0M1268.5 1051.7h0M1272.7 1051.9h0M1276.8 1052.2h0M1281.0 1052.5h0M928.2 1130.3h0M932.4 1122.7h0M936.5 1114.2h0M940.7 1105.8h0M845.2 1139.0h0M1090.1 1174.9h0" stroke="#a400a6" stroke-width="10"/>
<path d="M953.1 1051.9h0M1222.9 1054.7h0M1227.0 1054.7h0M1285.1 1053.0h0M1289.2 1053.5h0M1293.4 1054.1h0M924.1 1137.0h0" stroke="#a400a6" stroke-width="9.5"/>
<path d="M857.6 998.0h0M861.8 995.5h0M1214.6 1054.7h0M1218.7 1054.7h0M1297.6 1054.5h0M1301.7 1054.7h0M1019.5 1176.5h0M919.9 1142.6h0M849.4 1139.9h0" stroke="#a400a6" stroke-width="9"/>
<path d="M866.0 993.3h0M870.1 991.3h0M874.2 989.9h0M1210.4 1054.7h0M915.8 1147.3h0M1085.9 1183.2h0" stroke="#a400a6" stroke-width="8.5"/>
<path d="M1048.5 1104.5h0M1052.7 1105.8h0M1056.9 1107.1h0M1061.0 1107.5h0M878.4 989.0h0M882.6 988.9h0M1206.2 1054.7h0M1305.9 1054.5h0M911.6 1151.1h0M928.2 1151.8h0M853.5 1140.9h0M915.8 1183.8h0M919.9 1181.3h0M924.1 1179.7h0M928.2 1179.4h0M932.4 1179.9h0M936.5 1180.7h0M832.8 1207.3h0M836.9 1205.4h0M841.1 1204.8h0M845.2 1205.6h0M849.4 1208.2h0" stroke="#a400a6" stroke-width="8"/>
<path d="M1040.2 1101.6h0M1044.4 1103.1h0M1065.2 1106.1h0M886.7 988.9h0M890.9 988.9h0M895.0 988.9h0M924.1 1155.9h0" stroke="#a400a6" stroke-width="7.5"/>
<path d="M1023.7 1094.1h0M1027.8 1096.3h0M1032.0 1098.3h0M1036.1 1100.0h0M1069.3 1104.2h0M1081.8 1044.4h0M1085.9 1042.5h0M1090.1 1040.3h0M1094.2 1038.6h0M1098.3 1037.9h0M1102.5 1037.5h0M1106.7 1037.3h0M1110.8 1037.2h0M832.8 1106.0h0M836.9 1106.0h0M841.1 1106.0h0M845.2 1106.0h0M849.4 1106.0h0M853.5 1106.1h0M857.6 1106.2h0M861.8 1106.5h0M866.0 1106.7h0M870.1 1106.9h0M874.2 1107.0h0M878.4 1106.9h0M899.2 988.9h0M903.3 988.9h0M907.5 989.1h0M1023.7 1177.9h0M857.6 1141.9h0M874.2 1199.5h0M878.4 1193.3h0M882.6 1188.4h0M886.7 1185.3h0M890.9 1185.2h0M940.7 1182.8h0" stroke="#a400a6" stroke-width="7"/>
<path d="M1073.5 1102.7h0M1077.6 1101.4h0M1073.5 1047.6h0M1077.6 1046.0h0M1115.0 1037.4h0M1119.1 1037.8h0M1123.2 1038.4h0M882.6 1106.4h0M911.6 989.5h0M915.8 990.1h0M919.9 990.7h0M957.2 1050.3h0M1310.0 1053.9h0M919.9 1160.1h0M895.0 1185.3h0M899.2 1185.6h0M944.8 1186.6h0" stroke="#a400a6" stroke-width="6.5"/>
<path d="M1081.8 1100.5h0M1085.9 1099.9h0M1090.1 1099.6h0M1061.0 1052.5h0M1065.2 1050.8h0M1069.3 1049.2h0M1127.4 1039.2h0M886.7 1105.6h0M924.1 991.1h0M928.2 991.2h0M932.4 990.7h0M936.5 989.8h0M940.7 988.6h0M944.8 987.2h0M949.0 985.7h0M953.1 984.3h0M957.2 982.5h0M961.4 980.4h0M965.6 978.4h0M969.7 976.4h0M973.9 974.7h0M978.0 973.0h0M982.2 971.4h0M986.3 969.9h0M990.5 968.5h0M994.6 967.4h0M998.8 966.5h0M1002.9 965.8h0M849.4 1078.1h0M853.5 1078.6h0M857.6 1079.1h0M861.8 1079.6h0M866.0 1080.1h0M870.1 1080.9h0M874.2 1081.7h0M878.4 1082.3h0M882.6 1082.4h0M886.7 1082.2h0M890.9 1081.7h0M895.0 1081.0h0M899.2 1080.0h0M1131.6 1062.3h0M1135.7 1059.7h0M1139.8 1057.1h0M1144.0 1054.2h0M1148.2 1051.6h0M1152.3 1050.6h0M1156.5 1050.1h0M1160.6 1050.0h0M1164.8 1051.7h0M915.8 1164.2h0M861.8 1142.9h0M903.3 1186.3h0M1206.2 1179.4h0M1210.4 1179.9h0M1214.6 1180.3h0M1218.7 1180.8h0M1222.9 1181.2h0M1227.0 1181.7h0M1231.2 1182.1h0M1235.3 1182.6h0M1239.5 1183.2h0M1243.6 1183.7h0M1247.8 1184.2h0M1251.9 1184.6h0M1256.1 1184.9h0M1260.2 1185.0h0M1264.4 1184.9h0M1268.5 1184.7h0M1272.7 1184.5h0M1276.8 1184.2h0M1281.0 1183.8h0M1285.1 1183.4h0M1289.2 1183.1h0M1293.4 1182.7h0M1297.6 1182.1h0M1301.7 1181.6h0M1305.9 1181.2h0M1310.0 1181.0h0M1314.2 1181.2h0" stroke="#a400a6" stroke-width="6"/>
<path d="M1318.3 1181.8h0M1322.5 1182.7h0" stroke="#a400a6" stroke-width="5.5"/>
<path d="M957.2 1049.6h0M961.4 1049.8h0M965.6 1049.4h0M969.7 1048.8h0M973.9 1048.8h0M978.0 1049.5h0M982.2 1050.6h0M986.3 1051.5h0M990.5 1052.3h0M994.6 1053.1h0M998.8 1053.6h0M1002.9 1054.0h0M1007.1 1054.4h0M1011.2 1054.8h0M1015.4 1055.3h0M1056.9 1095.6h0M1061.0 1092.3h0M1135.7 1027.5h0M1139.8 1023.3h0M1144.0 1019.5h0M1148.2 1016.1h0M1123.2 1066.2h0M949.0 958.0h0M953.1 963.3h0M957.2 968.1h0M961.4 972.5h0M1251.9 1036.9h0M1256.1 1037.8h0M1260.2 1038.3h0M1264.4 1038.5h0M1268.5 1038.3h0M1272.7 1037.7h0M1276.8 1036.7h0M1106.7 974.2h0M1110.8 975.5h0M1115.0 976.7h0M1119.1 977.8h0M1123.2 978.7h0M1127.4 979.3h0M1131.6 980.1h0M1135.7 981.2h0M1139.8 983.3h0M1144.0 986.2h0M1148.2 989.8h0M866.0 1144.0h0M836.9 1193.3h0M841.1 1192.6h0M845.2 1191.3h0M849.4 1189.5h0M853.5 1187.0h0M857.6 1183.7h0M861.8 1179.9h0M1326.6 1183.9h0M1102.5 1191.2h0M1106.7 1189.3h0M1110.8 1187.5h0M1115.0 1186.0h0M1119.1 1184.6h0M1123.2 1183.3h0M1127.4 1182.4h0M1131.6 1181.9h0M1135.7 1181.5h0M1139.8 1181.3h0M1144.0 1181.1h0M1148.2 1181.0h0M1152.3 1181.0h0M1156.5 1181.2h0M1160.6 1181.5h0M1164.8 1181.9h0M1156.5 1211.1h0M1160.6 1207.0h0M1164.8 1203.2h0M1168.9 1199.4h0M1173.1 1196.1h0M1177.2 1194.1h0M1181.4 1192.6h0" stroke="#a400a6" stroke-width="5"/>
<path d="M1119.1 1065.5h0M1127.4 1065.9h0" stroke="#a400a6" stroke-width="4.5"/>
<path d="M1106.7 1061.7h0M1110.8 1063.2h0M1115.0 1064.4h0M1110.8 955.0h0M1115.0 955.5h0M1119.1 956.1h0M1123.2 956.7h0M1127.4 957.4h0M1131.6 958.1h0M1135.7 958.9h0M1139.8 959.8h0" stroke="#a400a6" stroke-width="4"/>
</g>
<rect x="116.5" y="62.3" width="519.2" height="519.6" fill="none" stroke="#000" stroke-width="2.2"/>
<line x1="105.5" y1="62.3" x2="116.5" y2="62.3" stroke="#000" stroke-width="2.2"/>
<line x1="110.5" y1="127.2" x2="116.5" y2="127.2" stroke="#000" stroke-width="2.2"/>
<line x1="105.5" y1="192.2" x2="116.5" y2="192.2" stroke="#000" stroke-width="2.2"/>
<line x1="110.5" y1="257.2" x2="116.5" y2="257.2" stroke="#000" stroke-width="2.2"/>
<line x1="105.5" y1="322.1" x2="116.5" y2="322.1" stroke="#000" stroke-width="2.2"/>
<line x1="110.5" y1="387.1" x2="116.5" y2="387.1" stroke="#000" stroke-width="2.2"/>
<line x1="105.5" y1="452.0" x2="116.5" y2="452.0" stroke="#000" stroke-width="2.2"/>
<line x1="110.5" y1="517.0" x2="116.5" y2="517.0" stroke="#000" stroke-width="2.2"/>
<line x1="105.5" y1="581.9" x2="116.5" y2="581.9" stroke="#000" stroke-width="2.2"/>
<rect x="829.3" y="62.3" width="519.2" height="519.6" fill="none" stroke="#000" stroke-width="2.2"/>
<line x1="818.3" y1="62.3" x2="829.3" y2="62.3" stroke="#000" stroke-width="2.2"/>
<line x1="823.3" y1="127.2" x2="829.3" y2="127.2" stroke="#000" stroke-width="2.2"/>
<line x1="818.3" y1="192.2" x2="829.3" y2="192.2" stroke="#000" stroke-width="2.2"/>
<line x1="823.3" y1="257.2" x2="829.3" y2="257.2" stroke="#000" stroke-width="2.2"/>
<line x1="818.3" y1="322.1" x2="829.3" y2="322.1" stroke="#000" stroke-width="2.2"/>
<line x1="823.3" y1="387.1" x2="829.3" y2="387.1" stroke="#000" stroke-width="2.2"/>
<line x1="818.3" y1="452.0" x2="829.3" y2="452.0" stroke="#000" stroke-width="2.2"/>
<line x1="823.3" y1="517.0" x2="829.3" y2="517.0" stroke="#000" stroke-width="2.2"/>
<line x1="818.3" y1="581.9" x2="829.3" y2="581.9" stroke="#000" stroke-width="2.2"/>
<rect x="116.2" y="693.8" width="519.2" height="520.0" fill="none" stroke="#000" stroke-width="2.2"/>
<line x1="116.2" y1="693.8" x2="127.2" y2="693.8" stroke="#000" stroke-width="2.2"/>
<line x1="116.2" y1="758.8" x2="122.2" y2="758.8" stroke="#000" stroke-width="2.2"/>
<line x1="116.2" y1="823.8" x2="127.2" y2="823.8" stroke="#000" stroke-width="2.2"/>
<line x1="116.2" y1="888.8" x2="122.2" y2="888.8" stroke="#000" stroke-width="2.2"/>
<line x1="116.2" y1="953.8" x2="127.2" y2="953.8" stroke="#000" stroke-width="2.2"/>
<line x1="116.2" y1="1018.8" x2="122.2" y2="1018.8" stroke="#000" stroke-width="2.2"/>
<line x1="116.2" y1="1083.8" x2="127.2" y2="1083.8" stroke="#000" stroke-width="2.2"/>
<line x1="116.2" y1="1148.8" x2="122.2" y2="1148.8" stroke="#000" stroke-width="2.2"/>
<line x1="116.2" y1="1213.8" x2="127.2" y2="1213.8" stroke="#000" stroke-width="2.2"/>
<rect x="828.6" y="695.5" width="519.2" height="519.6" fill="none" stroke="#000" stroke-width="2.2"/>
<line x1="828.6" y1="695.5" x2="839.6" y2="695.5" stroke="#000" stroke-width="2.2"/>
<line x1="828.6" y1="760.5" x2="834.6" y2="760.5" stroke="#000" stroke-width="2.2"/>
<line x1="828.6" y1="825.4" x2="839.6" y2="825.4" stroke="#000" stroke-width="2.2"/>
<line x1="828.6" y1="890.3" x2="834.6" y2="890.3" stroke="#000" stroke-width="2.2"/>
<line x1="828.6" y1="955.3" x2="839.6" y2="955.3" stroke="#000" stroke-width="2.2"/>
<line x1="828.6" y1="1020.2" x2="834.6" y2="1020.2" stroke="#000" stroke-width="2.2"/>
<line x1="828.6" y1="1085.2" x2="839.6" y2="1085.2" stroke="#000" stroke-width="2.2"/>
<line x1="828.6" y1="1150.1" x2="834.6" y2="1150.1" stroke="#000" stroke-width="2.2"/>
<line x1="828.6" y1="1215.1" x2="839.6" y2="1215.1" stroke="#000" stroke-width="2.2"/>
<text x="9.5" y="47.3" font-size="70" font-weight="bold">a</text>
<text x="100.5" y="76.1" font-size="44.5" text-anchor="end">2</text>
<text x="100.5" y="206.0" font-size="44.5" text-anchor="end">1</text>
<text x="100.5" y="335.9" font-size="44.5" text-anchor="end">0</text>
<text x="100.5" y="465.8" font-size="44.5" text-anchor="end">-1</text>
<text x="100.5" y="595.7" font-size="44.5" text-anchor="end">-2</text>
<text x="106.3" y="622.2" font-size="44.5">Z</text>
<text x="173.0" y="622.2" font-size="44.5">G</text>
<text x="244.8" y="622.2" font-size="44.5">Y</text>
<text x="311.9" y="622.2" font-size="44.5">A</text>
<text x="385.0" y="622.2" font-size="44.5">B</text>
<text x="460.8" y="622.2" font-size="44.5">D</text>
<text x="532.0" y="622.2" font-size="44.5">E</text>
<text x="601.9" y="622.2" font-size="44.5">C</text>
<text transform="translate(31.1,337.8) rotate(-90)" font-size="44" font-weight="bold" text-anchor="middle"><tspan font-style="italic">E</tspan> (eV)</text>
<text x="722.5" y="47.5" font-size="70" font-weight="bold">b</text>
<text x="813.3" y="76.1" font-size="44.5" text-anchor="end">2</text>
<text x="813.3" y="206.0" font-size="44.5" text-anchor="end">1</text>
<text x="813.3" y="335.9" font-size="44.5" text-anchor="end">0</text>
<text x="813.3" y="465.8" font-size="44.5" text-anchor="end">-1</text>
<text x="813.3" y="595.7" font-size="44.5" text-anchor="end">-2</text>
<text x="819.3" y="622.2" font-size="44.5">Z</text>
<text x="886.0" y="622.2" font-size="44.5">G</text>
<text x="957.8" y="622.2" font-size="44.5">Y</text>
<text x="1024.9" y="622.2" font-size="44.5">A</text>
<text x="1098.0" y="622.2" font-size="44.5">B</text>
<text x="1173.8" y="622.2" font-size="44.5">D</text>
<text x="1245.0" y="622.2" font-size="44.5">E</text>
<text x="1314.9" y="622.2" font-size="44.5">C</text>
<text transform="translate(749.4,337.9) rotate(-90)" font-size="44" font-weight="bold" text-anchor="middle"><tspan font-style="italic">E</tspan> (eV)</text>
<text x="8.5" y="692.3" font-size="70" font-weight="bold">c</text>
<text x="104.2" y="708.0" font-size="44.5" text-anchor="end">2</text>
<text x="104.2" y="838.0" font-size="44.5" text-anchor="end">1</text>
<text x="104.2" y="968.0" font-size="44.5" text-anchor="end">0</text>
<text x="104.2" y="1098.0" font-size="44.5" text-anchor="end">-1</text>
<text x="104.2" y="1228.0" font-size="44.5" text-anchor="end">-2</text>
<text x="105.6" y="1253.3" font-size="44.5">Z</text>
<text x="172.5" y="1253.3" font-size="44.5">G</text>
<text x="244.5" y="1253.3" font-size="44.5">Y</text>
<text x="312.0" y="1253.3" font-size="44.5">A</text>
<text x="385.0" y="1253.3" font-size="44.5">B</text>
<text x="461.0" y="1253.3" font-size="44.5">D</text>
<text x="533.0" y="1253.3" font-size="44.5">E</text>
<text x="603.0" y="1253.3" font-size="44.5">C</text>
<text transform="translate(29.1,963.8) rotate(-90)" font-size="44" font-weight="bold" text-anchor="middle"><tspan font-style="italic">E</tspan> (eV)</text>
<text x="721.7" y="692.4" font-size="70" font-weight="bold">d</text>
<text x="816.6" y="709.7" font-size="44.5" text-anchor="end">2</text>
<text x="816.6" y="839.6" font-size="44.5" text-anchor="end">1</text>
<text x="816.6" y="969.5" font-size="44.5" text-anchor="end">0</text>
<text x="816.6" y="1099.4" font-size="44.5" text-anchor="end">-1</text>
<text x="816.6" y="1229.3" font-size="44.5" text-anchor="end">-2</text>
<text x="818.6" y="1254.6" font-size="44.5">Z</text>
<text x="885.5" y="1254.6" font-size="44.5">G</text>
<text x="957.5" y="1254.6" font-size="44.5">Y</text>
<text x="1025.0" y="1254.6" font-size="44.5">A</text>
<text x="1098.0" y="1254.6" font-size="44.5">B</text>
<text x="1174.0" y="1254.6" font-size="44.5">D</text>
<text x="1246.0" y="1254.6" font-size="44.5">E</text>
<text x="1316.0" y="1254.6" font-size="44.5">C</text>
<text transform="translate(749.4,965.2) rotate(-90)" font-size="44" font-weight="bold" text-anchor="middle"><tspan font-style="italic">E</tspan> (eV)</text>
<circle cx="275.1" cy="90.3" r="7.3" fill="#00c040"/>
<circle cx="275.1" cy="140.6" r="7.3" fill="#ff8000"/>
<text x="297.0" y="101" font-size="30" font-weight="bold">Ni</text>
<text x="335.0" y="101" font-size="30" font-weight="bold" font-style="italic">e</text>
<text x="349.5" y="112" font-size="18" font-weight="bold">g</text>
<text x="299.0" y="151.5" font-size="30" font-weight="bold">Ir</text>
<text x="331.0" y="151.5" font-size="30" font-weight="bold" font-style="italic">t</text>
<text x="342.0" y="163.0" font-size="18" font-weight="bold">2g</text>
<text x="439.3" y="97.3" font-size="38" font-weight="bold" textLength="185" lengthAdjust="spacingAndGlyphs">SIO<tspan font-size="22">1</tspan>/NNO<tspan font-size="22">1</tspan></text>
<circle cx="986.9" cy="91.8" r="7.3" fill="#00c040"/>
<circle cx="986.9" cy="147.3" r="7.3" fill="#ff8000"/>
<text x="1007.0" y="103.5" font-size="30" font-weight="bold">Ni</text>
<text x="1045.0" y="103.5" font-size="30" font-weight="bold" font-style="italic">e</text>
<text x="1059.5" y="114.5" font-size="18" font-weight="bold">g</text>
<text x="1009.0" y="158.6" font-size="30" font-weight="bold">Ir</text>
<text x="1041.0" y="158.6" font-size="30" font-weight="bold" font-style="italic">t</text>
<text x="1052.0" y="170.1" font-size="18" font-weight="bold">2g</text>
<text x="1156" y="101" font-size="38" font-weight="bold" textLength="182" lengthAdjust="spacingAndGlyphs">SIO<tspan font-size="22">1</tspan>/LNO<tspan font-size="22">1</tspan></text>
<circle cx="268.8" cy="712.9" r="7.5" fill="#ff0000"/>
<circle cx="268.8" cy="755.1" r="7.5" fill="#0000ff"/>
<circle cx="268.8" cy="793.3" r="7.5" fill="#7e0080"/>
<text x="296.0" y="726.2" font-size="28" font-weight="bold">Ni</text>
<text x="296.0" y="767.3" font-size="28" font-weight="bold">Ni</text>
<text x="296.0" y="807.7" font-size="28" font-weight="bold">Ni</text>
<text x="334.0" y="726.2" font-size="28" font-weight="bold" font-style="italic">d</text>
<text x="350.6" y="736.7" font-size="17" font-weight="bold" textLength="42" lengthAdjust="spacingAndGlyphs">3z<tspan font-size="9" dy="-7">2</tspan><tspan dy="7">-r</tspan><tspan font-size="9" dy="-7">2</tspan></text>
<text x="334.0" y="767.3" font-size="28" font-weight="bold" font-style="italic">d</text>
<text x="350.6" y="777.3" font-size="17" font-weight="bold" textLength="33.5" lengthAdjust="spacingAndGlyphs">x<tspan font-size="9" dy="-7">2</tspan><tspan dy="7">-y</tspan><tspan font-size="9" dy="-7">2</tspan></text>
<text x="333.0" y="807.7" font-size="28" font-weight="bold" font-style="italic">t</text>
<text x="343.0" y="818.7" font-size="17" font-weight="bold">2g</text>
<text x="439.3" y="732" font-size="38" font-weight="bold" textLength="185" lengthAdjust="spacingAndGlyphs">SIO<tspan font-size="22">1</tspan>/NNO<tspan font-size="22">1</tspan></text>
<circle cx="981.7" cy="716.7" r="7.5" fill="#ff0000"/>
<circle cx="981.7" cy="755.7" r="7.5" fill="#0000ff"/>
<circle cx="981.7" cy="796.7" r="7.5" fill="#7e0080"/>
<text x="1008.9" y="726.8" font-size="28" font-weight="bold">Ni</text>
<text x="1008.9" y="768.7" font-size="28" font-weight="bold">Ni</text>
<text x="1008.9" y="809.2" font-size="28" font-weight="bold">Ni</text>
<text x="1046.9" y="726.8" font-size="28" font-weight="bold" font-style="italic">d</text>
<text x="1063.5" y="737.3" font-size="17" font-weight="bold" textLength="42" lengthAdjust="spacingAndGlyphs">3z<tspan font-size="9" dy="-7">2</tspan><tspan dy="7">-r</tspan><tspan font-size="9" dy="-7">2</tspan></text>
<text x="1046.9" y="768.7" font-size="28" font-weight="bold" font-style="italic">d</text>
<text x="1063.5" y="778.7" font-size="17" font-weight="bold" textLength="33.5" lengthAdjust="spacingAndGlyphs">x<tspan font-size="9" dy="-7">2</tspan><tspan dy="7">-y</tspan><tspan font-size="9" dy="-7">2</tspan></text>
<text x="1045.9" y="809.2" font-size="28" font-weight="bold" font-style="italic">t</text>
<text x="1055.9" y="820.2" font-size="17" font-weight="bold">2g</text>
<text x="1152.2" y="735.5" font-size="38" font-weight="bold" textLength="182" lengthAdjust="spacingAndGlyphs">SIO<tspan font-size="22">1</tspan>/LNO<tspan font-size="22">1</tspan></text>
</svg></body></html>
